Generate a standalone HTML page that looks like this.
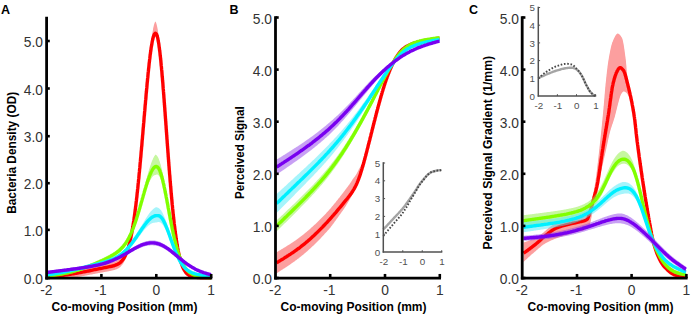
<!DOCTYPE html>
<html><head><meta charset="utf-8"><style>
html,body{margin:0;padding:0;background:#fff;}
svg{display:block;}
</style></head><body>
<svg width="696" height="318" viewBox="0 0 696 318">
<rect width="696" height="318" fill="#fff"/>
<polygon points="47.5,273.8 48.0,273.7 48.5,273.7 49.0,273.6 49.5,273.6 50.0,273.5 50.5,273.5 51.0,273.4 51.5,273.4 52.0,273.3 52.5,273.3 53.0,273.2 53.5,273.2 54.0,273.1 54.5,273.1 55.0,273.0 55.5,273.0 56.0,272.9 56.5,272.9 57.0,272.8 57.5,272.8 58.0,272.7 58.5,272.6 59.0,272.6 59.5,272.5 60.0,272.5 60.5,272.4 61.0,272.3 61.5,272.3 62.0,272.2 62.5,272.1 63.0,272.1 63.5,272.0 64.0,271.9 64.5,271.8 65.0,271.8 65.5,271.7 66.0,271.6 66.5,271.5 67.0,271.5 67.5,271.4 68.0,271.3 68.5,271.2 69.0,271.2 69.5,271.1 70.0,271.0 70.5,270.9 71.0,270.8 71.5,270.7 72.0,270.7 72.5,270.6 73.0,270.5 73.5,270.4 74.0,270.3 74.5,270.2 75.0,270.1 75.5,270.0 76.0,269.9 76.5,269.8 77.0,269.7 77.5,269.6 78.0,269.6 78.5,269.5 79.0,269.4 79.5,269.3 80.0,269.2 80.5,269.1 81.0,269.0 81.5,268.9 82.0,268.8 82.5,268.7 83.0,268.6 83.5,268.4 84.0,268.3 84.5,268.2 85.0,268.1 85.5,268.0 86.0,267.9 86.5,267.8 87.0,267.7 87.5,267.6 88.0,267.5 88.5,267.4 89.0,267.3 89.5,267.2 90.0,267.1 90.5,267.0 91.0,266.8 91.5,266.7 92.0,266.6 92.5,266.5 93.0,266.4 93.5,266.3 94.0,266.2 94.5,266.1 95.0,266.0 95.5,265.9 96.0,265.8 96.5,265.6 97.0,265.5 97.5,265.4 98.0,265.3 98.5,265.2 99.0,265.1 99.5,265.0 100.0,264.9 100.5,264.8 101.0,264.7 101.5,264.6 102.0,264.5 102.5,264.4 103.0,264.3 103.5,264.1 104.0,264.0 104.5,263.9 105.0,263.8 105.5,263.7 106.0,263.6 106.5,263.5 107.0,263.4 107.5,263.3 108.0,263.2 108.5,263.1 109.0,263.0 109.5,262.9 110.0,262.8 110.5,262.7 111.0,262.5 111.5,262.4 112.0,262.3 112.5,262.2 113.0,262.0 113.5,261.9 114.0,261.7 114.5,261.6 115.0,261.4 115.5,261.2 116.0,261.0 116.5,260.8 117.0,260.6 117.5,260.3 118.0,260.0 118.5,259.7 119.0,259.4 119.5,259.1 120.0,258.7 120.5,258.3 121.0,257.9 121.5,257.4 122.0,256.9 122.5,256.4 123.0,255.7 123.5,255.1 124.0,254.3 124.5,253.5 125.0,252.6 125.5,251.6 126.0,250.6 126.5,249.4 127.0,248.1 127.5,246.7 128.0,245.2 128.2,244.4 128.5,243.6 128.8,242.8 129.0,241.9 129.2,241.0 129.5,240.0 129.8,239.0 130.0,238.0 130.2,236.9 130.5,235.8 130.8,234.7 131.0,233.5 131.2,232.3 131.5,231.0 131.8,229.7 132.0,228.4 132.2,227.0 132.5,225.6 132.8,224.1 133.0,222.6 133.2,221.0 133.4,220.2 133.5,219.4 133.6,218.6 133.8,217.8 133.9,216.9 134.0,216.1 134.1,215.2 134.2,214.3 134.4,213.4 134.5,212.5 134.6,211.6 134.8,210.7 134.9,209.8 135.0,208.8 135.1,207.9 135.2,206.9 135.4,205.9 135.5,204.9 135.6,203.9 135.8,202.9 135.9,201.9 136.0,200.9 136.1,199.8 136.2,198.8 136.4,197.7 136.5,196.6 136.6,195.5 136.8,194.4 136.9,193.3 137.0,192.2 137.1,191.1 137.2,189.9 137.4,188.8 137.5,187.6 137.6,186.4 137.8,185.2 137.9,184.1 138.0,182.8 138.1,181.6 138.2,180.4 138.4,179.2 138.5,177.9 138.6,176.7 138.8,175.4 138.9,174.1 139.0,172.9 139.1,171.6 139.2,170.3 139.4,169.0 139.5,167.7 139.6,166.3 139.8,165.0 139.9,163.7 140.0,162.3 140.1,161.0 140.2,159.6 140.4,158.2 140.5,156.8 140.6,155.5 140.8,154.1 140.9,152.7 141.0,151.3 141.1,149.9 141.2,148.5 141.4,147.0 141.5,145.6 141.6,144.2 141.8,142.8 141.9,141.3 142.0,139.9 142.1,138.4 142.2,137.0 142.4,135.5 142.5,134.1 142.6,132.6 142.8,131.1 142.9,129.7 143.0,128.2 143.1,126.8 143.2,125.3 143.4,123.8 143.5,122.3 143.6,120.9 143.8,119.4 143.9,117.9 144.0,116.5 144.1,115.0 144.2,113.5 144.4,112.1 144.5,110.6 144.6,109.1 144.8,107.7 144.9,106.2 145.0,104.8 145.1,103.3 145.2,101.9 145.4,100.5 145.5,99.0 145.6,97.6 145.8,96.2 145.9,94.8 146.0,93.3 146.1,91.9 146.2,90.5 146.4,89.1 146.5,87.8 146.6,86.4 146.8,85.0 146.9,83.7 147.0,82.3 147.1,81.0 147.2,79.7 147.4,78.3 147.5,77.0 147.6,75.7 147.8,74.4 147.9,73.2 148.0,71.9 148.1,70.5 148.2,69.2 148.4,67.8 148.5,66.5 148.6,65.2 148.8,63.9 148.9,62.6 149.0,61.3 149.1,60.0 149.2,58.8 149.4,57.6 149.5,56.3 149.6,55.2 149.8,54.0 149.9,52.8 150.0,51.7 150.1,50.5 150.2,49.4 150.4,48.2 150.5,47.1 150.6,46.0 150.8,45.0 150.9,43.9 151.0,42.9 151.1,41.9 151.2,40.9 151.5,39.0 151.8,37.1 152.0,35.4 152.2,33.8 152.5,32.2 152.8,30.7 153.0,29.4 153.2,28.1 153.5,26.9 154.0,24.8 154.5,23.2 155.0,21.9 155.5,21.4 156.0,22.4 156.5,23.9 157.0,25.9 157.2,27.1 157.5,28.5 157.8,29.9 158.0,31.5 158.2,33.2 158.5,35.0 158.8,37.0 158.9,38.0 159.0,39.0 159.1,40.1 159.2,41.2 159.4,42.3 159.5,43.5 159.6,44.7 159.8,45.9 159.9,47.1 160.0,48.4 160.1,49.6 160.2,50.8 160.4,52.0 160.5,53.2 160.6,54.5 160.8,55.8 160.9,57.1 161.0,58.5 161.1,59.8 161.2,61.2 161.4,62.6 161.5,64.1 161.6,65.5 161.8,67.0 161.9,68.5 162.0,70.0 162.1,71.5 162.2,73.0 162.4,74.6 162.5,76.1 162.6,77.7 162.8,79.3 162.9,80.9 163.0,82.6 163.1,84.1 163.2,85.7 163.4,87.3 163.5,88.9 163.6,89.7 163.6,90.5 163.7,91.3 163.8,92.1 163.8,92.9 163.9,93.8 163.9,94.6 164.0,95.4 164.1,96.2 164.1,97.1 164.2,97.9 164.2,98.7 164.3,99.6 164.4,100.4 164.4,101.2 164.5,102.1 164.6,102.9 164.6,103.8 164.7,104.6 164.8,105.5 164.8,106.3 164.9,107.2 164.9,108.0 165.0,108.9 165.1,109.7 165.1,110.6 165.2,111.4 165.2,112.3 165.3,113.1 165.4,114.0 165.4,114.9 165.5,115.7 165.6,116.6 165.6,117.4 165.7,118.3 165.8,119.2 165.8,120.0 165.9,120.9 165.9,121.8 166.0,122.6 166.1,123.5 166.1,124.4 166.2,125.2 166.2,126.1 166.3,127.0 166.4,127.8 166.4,128.7 166.5,129.5 166.6,130.4 166.6,131.3 166.7,132.1 166.8,133.0 166.8,133.9 166.9,134.7 166.9,135.6 167.0,136.5 167.1,137.3 167.1,138.2 167.2,139.0 167.2,139.9 167.3,140.8 167.4,141.6 167.4,142.5 167.5,143.3 167.6,144.2 167.6,145.0 167.7,145.9 167.8,146.7 167.8,147.6 167.9,148.4 167.9,149.3 168.0,150.1 168.1,151.0 168.1,151.8 168.2,152.6 168.2,153.5 168.3,154.3 168.4,155.2 168.4,156.0 168.5,156.8 168.6,157.7 168.6,158.5 168.7,159.3 168.8,160.1 168.8,161.0 168.9,161.8 168.9,162.6 169.0,163.4 169.1,164.2 169.1,165.0 169.2,165.8 169.2,166.7 169.4,168.3 169.5,169.9 169.6,171.4 169.8,173.0 169.9,174.6 170.0,176.1 170.1,177.7 170.2,179.2 170.4,180.7 170.5,182.3 170.6,183.8 170.8,185.2 170.9,186.7 171.0,188.2 171.1,189.6 171.2,191.1 171.4,192.5 171.5,193.9 171.6,195.3 171.8,196.7 171.9,198.0 172.0,199.4 172.1,200.7 172.2,202.1 172.4,203.4 172.5,204.7 172.6,206.0 172.8,207.2 172.9,208.5 173.0,209.7 173.1,211.0 173.2,212.2 173.4,213.4 173.5,214.6 173.6,215.7 173.8,216.9 173.9,218.0 174.0,219.2 174.1,220.3 174.2,221.4 174.4,222.4 174.5,223.5 174.6,224.6 174.8,225.6 174.9,226.6 175.0,227.6 175.1,228.6 175.2,229.6 175.4,230.6 175.5,231.5 175.6,232.4 175.8,233.4 175.9,234.3 176.0,235.2 176.1,236.0 176.2,236.9 176.4,237.7 176.5,238.6 176.6,239.4 176.9,241.0 177.0,241.8 177.1,242.6 177.4,244.1 177.5,244.8 177.6,245.5 177.9,246.9 178.0,247.6 178.1,248.2 178.4,249.5 178.5,250.2 178.6,250.8 178.9,252.0 179.0,252.5 179.1,253.1 179.4,254.2 179.5,254.8 179.6,255.3 179.9,256.3 180.0,256.8 180.1,257.3 180.4,258.2 180.5,258.7 180.6,259.1 180.9,260.0 181.0,260.4 181.4,261.6 181.5,262.0 181.9,263.1 182.0,263.4 182.4,264.4 182.5,264.7 182.9,265.6 183.0,265.9 183.4,266.7 183.5,267.0 183.9,267.7 184.0,268.0 184.4,268.6 184.5,268.8 185.0,269.6 185.4,270.2 185.5,270.4 186.0,271.0 186.4,271.5 186.5,271.6 187.0,272.1 187.4,272.5 187.5,272.6 188.0,273.0 188.4,273.3 188.5,273.4 189.0,273.7 189.4,274.0 189.5,274.0 190.0,274.3 190.4,274.5 190.5,274.6 191.0,274.8 191.4,274.9 191.5,275.0 192.0,275.2 192.4,275.3 192.5,275.3 193.0,275.5 193.4,275.6 193.5,275.6 194.0,275.7 194.4,275.8 194.5,275.8 195.0,275.9 195.4,276.0 195.5,276.0 196.0,276.1 196.4,276.2 196.5,276.2 197.0,276.3 197.4,276.3 197.5,276.3 198.0,276.4 198.4,276.4 198.5,276.4 199.0,276.5 199.4,276.5 199.5,276.6 200.0,276.6 200.4,276.6 200.5,276.6 201.0,276.7 201.4,276.7 201.5,276.7 202.0,276.8 202.4,276.8 202.5,276.8 203.0,276.9 203.4,276.9 203.5,276.9 204.0,276.9 204.4,277.0 204.5,277.0 205.0,277.0 205.4,277.0 205.5,277.1 206.0,277.1 206.4,277.1 206.5,277.1 207.0,277.2 207.4,277.2 207.5,277.2 208.0,277.2 208.4,277.2 208.5,277.3 209.0,277.3 209.4,277.3 209.5,277.3 210.0,277.3 210.4,277.4 210.5,277.4 211.0,277.4 211.0,278.4 210.5,278.4 210.4,278.4 210.0,278.4 209.5,278.5 209.4,278.5 209.0,278.5 208.5,278.5 208.4,278.5 208.0,278.5 207.5,278.5 207.4,278.5 207.0,278.5 206.5,278.6 206.4,278.6 206.0,278.6 205.5,278.6 205.4,278.6 205.0,278.6 204.5,278.6 204.4,278.6 204.0,278.6 203.5,278.6 203.4,278.6 203.0,278.6 202.5,278.6 202.4,278.6 202.0,278.6 201.5,278.6 201.4,278.6 201.0,278.6 200.5,278.6 200.4,278.6 200.0,278.6 199.5,278.6 199.4,278.6 199.0,278.6 198.5,278.6 198.4,278.6 198.0,278.6 197.5,278.6 197.4,278.6 197.0,278.6 196.5,278.6 196.4,278.6 196.0,278.6 195.5,278.5 195.4,278.5 195.0,278.5 194.5,278.4 194.4,278.4 194.0,278.4 193.5,278.3 193.4,278.3 193.0,278.2 192.5,278.1 192.4,278.1 192.0,278.0 191.5,277.9 191.4,277.8 191.0,277.7 190.5,277.6 190.4,277.5 190.0,277.4 189.5,277.1 189.4,277.1 189.0,276.9 188.5,276.6 188.4,276.5 188.0,276.3 187.5,275.9 187.4,275.8 187.0,275.5 186.5,275.0 186.4,274.8 186.0,274.4 185.5,273.8 185.4,273.7 185.0,273.2 184.5,272.4 184.4,272.2 184.0,271.6 183.9,271.3 183.5,270.6 183.4,270.4 183.0,269.6 182.9,269.3 182.5,268.5 182.4,268.2 182.0,267.2 181.9,266.9 181.5,265.8 181.4,265.5 181.0,264.3 180.9,263.9 180.6,263.1 180.5,262.6 180.4,262.2 180.1,261.3 180.0,260.8 179.9,260.3 179.6,259.3 179.5,258.8 179.4,258.3 179.1,257.2 179.0,256.6 178.9,256.1 178.6,254.9 178.5,254.3 178.4,253.7 178.1,252.4 178.0,251.7 177.9,251.1 177.6,249.7 177.5,249.0 177.4,248.3 177.1,246.8 177.0,246.0 176.9,245.3 176.6,243.7 176.5,242.9 176.4,242.0 176.2,241.2 176.1,240.3 176.0,239.5 175.9,238.6 175.8,237.7 175.6,236.8 175.5,235.9 175.4,234.9 175.2,234.0 175.1,233.0 175.0,232.0 174.9,231.0 174.8,230.0 174.6,229.0 174.5,227.9 174.4,226.9 174.2,225.8 174.1,224.7 174.0,223.6 173.9,222.5 173.8,221.4 173.6,220.2 173.5,219.1 173.4,217.9 173.2,216.7 173.1,215.5 173.0,214.3 172.9,213.1 172.8,211.8 172.6,210.6 172.5,209.3 172.4,208.0 172.2,206.7 172.1,205.4 172.0,204.0 171.9,202.7 171.8,201.3 171.6,200.0 171.5,198.6 171.4,197.2 171.2,195.8 171.1,194.3 171.0,192.9 170.9,191.4 170.8,190.0 170.6,188.5 170.5,187.0 170.4,185.5 170.2,184.0 170.1,182.5 170.0,180.9 169.9,179.4 169.8,177.8 169.6,176.3 169.5,174.7 169.4,173.1 169.2,171.5 169.2,170.7 169.1,169.9 169.1,169.1 169.0,168.3 168.9,167.5 168.9,166.7 168.8,165.9 168.8,165.0 168.7,164.2 168.6,163.4 168.6,162.6 168.5,161.7 168.4,160.9 168.4,160.1 168.3,159.3 168.2,158.4 168.2,157.6 168.1,156.8 168.1,155.9 168.0,155.1 167.9,154.2 167.9,153.4 167.8,152.6 167.8,151.7 167.7,150.9 167.6,150.0 167.6,149.2 167.5,148.3 167.4,147.5 167.4,146.6 167.3,145.8 167.2,144.9 167.2,144.1 167.1,143.2 167.1,142.4 167.0,141.5 166.9,140.6 166.9,139.8 166.8,138.9 166.8,138.1 166.7,137.2 166.6,136.4 166.6,135.5 166.5,134.6 166.4,133.8 166.4,132.9 166.3,132.0 166.2,131.2 166.2,130.3 166.1,129.5 166.1,128.6 166.0,127.7 165.9,126.9 165.9,126.0 165.8,125.2 165.8,124.3 165.7,123.5 165.6,122.6 165.6,121.7 165.5,120.9 165.4,120.0 165.4,119.2 165.3,118.3 165.2,117.5 165.2,116.6 165.1,115.8 165.1,114.9 165.0,114.1 164.9,113.2 164.9,112.4 164.8,111.5 164.8,110.7 164.7,109.8 164.6,109.0 164.6,108.2 164.5,107.3 164.4,106.5 164.4,105.7 164.3,104.8 164.2,104.0 164.2,103.2 164.1,102.3 164.1,101.5 164.0,100.7 163.9,99.9 163.9,99.1 163.8,98.2 163.8,97.4 163.7,96.6 163.6,95.8 163.6,95.0 163.5,94.2 163.4,92.6 163.2,91.0 163.1,89.5 163.0,87.9 162.9,86.4 162.8,84.8 162.6,83.3 162.5,81.8 162.4,80.4 162.2,78.9 162.1,77.4 162.0,76.0 161.9,74.6 161.8,73.2 161.6,71.8 161.5,70.5 161.4,69.1 161.2,67.8 161.1,66.5 161.0,65.2 160.9,64.0 160.8,62.7 160.6,61.5 160.5,60.3 160.4,59.2 160.2,58.0 160.1,56.9 160.0,55.8 159.9,54.7 159.8,53.7 159.6,52.7 159.5,51.7 159.4,50.7 159.2,49.8 159.1,48.9 159.0,48.0 158.9,47.2 158.8,46.3 158.5,44.8 158.2,43.3 158.0,42.0 157.8,40.8 157.5,39.7 157.2,38.8 157.0,38.0 156.5,36.7 156.0,36.0 155.5,35.7 155.0,35.9 154.5,36.6 154.0,37.6 153.5,39.0 153.2,39.9 153.0,40.8 152.8,41.9 152.5,43.0 152.2,44.3 152.0,45.6 151.8,47.0 151.5,48.5 151.2,50.1 151.1,51.0 151.0,51.8 150.9,52.7 150.8,53.6 150.6,54.5 150.5,55.4 150.4,56.3 150.2,57.3 150.1,58.3 150.0,59.3 149.9,60.3 149.8,61.4 149.6,62.4 149.5,63.5 149.4,64.6 149.2,65.7 149.1,66.8 149.0,68.0 148.9,69.1 148.8,70.3 148.6,71.5 148.5,72.7 148.4,73.9 148.2,75.1 148.1,76.3 148.0,77.6 147.9,78.9 147.8,80.1 147.6,81.4 147.5,82.7 147.4,84.0 147.2,85.3 147.1,86.7 147.0,88.0 146.9,89.4 146.8,90.7 146.6,92.1 146.5,93.5 146.4,94.9 146.2,96.3 146.1,97.7 146.0,99.1 145.9,100.5 145.8,101.9 145.6,103.3 145.5,104.8 145.4,106.2 145.2,107.6 145.1,109.1 145.0,110.5 144.9,112.0 144.8,113.4 144.6,114.9 144.5,116.4 144.4,117.8 144.2,119.3 144.1,120.8 144.0,122.2 143.9,123.7 143.8,125.2 143.6,126.7 143.5,128.1 143.4,129.6 143.2,131.1 143.1,132.5 143.0,134.0 142.9,135.5 142.8,136.9 142.6,138.4 142.5,139.9 142.4,141.3 142.2,142.8 142.1,144.2 142.0,145.7 141.9,147.1 141.8,148.6 141.6,150.0 141.5,151.4 141.4,152.9 141.2,154.3 141.1,155.7 141.0,157.1 140.9,158.5 140.8,159.9 140.6,161.3 140.5,162.7 140.4,164.1 140.2,165.4 140.1,166.8 140.0,168.2 139.9,169.5 139.8,170.9 139.6,172.2 139.5,173.5 139.4,174.8 139.2,176.1 139.1,177.4 139.0,178.7 138.9,180.0 138.8,181.3 138.6,182.6 138.5,183.8 138.4,185.1 138.2,186.3 138.1,187.5 138.0,188.7 137.9,189.9 137.8,191.1 137.6,192.3 137.5,193.5 137.4,194.7 137.2,195.8 137.1,197.0 137.0,198.1 136.9,199.2 136.8,200.3 136.6,201.5 136.5,202.5 136.4,203.6 136.2,204.7 136.1,205.8 136.0,206.8 135.9,207.8 135.8,208.9 135.6,209.9 135.5,210.9 135.4,211.9 135.2,212.9 135.1,213.8 135.0,214.8 134.9,215.7 134.8,216.7 134.6,217.6 134.5,218.5 134.4,219.4 134.2,220.3 134.1,221.2 134.0,222.1 133.9,222.9 133.8,223.8 133.6,224.6 133.5,225.4 133.4,226.2 133.2,227.0 133.0,228.6 132.8,230.2 132.5,231.7 132.2,233.2 132.0,234.6 131.8,236.0 131.5,237.3 131.2,238.6 131.0,239.9 130.8,241.1 130.5,242.3 130.2,243.5 130.0,244.6 129.8,245.6 129.5,246.7 129.2,247.7 129.0,248.7 128.8,249.6 128.5,250.5 128.2,251.4 128.0,252.2 127.5,253.8 127.0,255.3 126.5,256.6 126.0,257.9 125.5,259.1 125.0,260.1 124.5,261.1 124.0,262.1 123.5,262.9 123.0,263.7 122.5,264.4 122.0,265.0 121.5,265.6 121.0,266.2 120.5,266.7 120.0,267.2 119.5,267.6 119.0,267.9 118.5,268.2 118.0,268.5 117.5,268.7 117.0,269.0 116.5,269.2 116.0,269.4 115.5,269.6 115.0,269.7 114.5,269.9 114.0,270.1 113.5,270.2 113.0,270.3 112.5,270.4 112.0,270.6 111.5,270.7 111.0,270.8 110.5,270.9 110.0,271.0 109.5,271.1 109.0,271.2 108.5,271.3 108.0,271.4 107.5,271.5 107.0,271.6 106.5,271.7 106.0,271.7 105.5,271.8 105.0,271.9 104.5,272.0 104.0,272.1 103.5,272.2 103.0,272.3 102.5,272.4 102.0,272.5 101.5,272.6 101.0,272.7 100.5,272.7 100.0,272.8 99.5,272.9 99.0,273.0 98.5,273.1 98.0,273.2 97.5,273.3 97.0,273.4 96.5,273.5 96.0,273.6 95.5,273.7 95.0,273.8 94.5,273.9 94.0,274.0 93.5,274.1 93.0,274.2 92.5,274.3 92.0,274.4 91.5,274.5 91.0,274.5 90.5,274.6 90.0,274.7 89.5,274.8 89.0,274.9 88.5,275.0 88.0,275.1 87.5,275.2 87.0,275.3 86.5,275.4 86.0,275.5 85.5,275.6 85.0,275.7 84.5,275.8 84.0,275.9 83.5,275.9 83.0,276.0 82.5,276.1 82.0,276.2 81.5,276.3 81.0,276.4 80.5,276.5 80.0,276.6 79.5,276.7 79.0,276.7 78.5,276.8 78.0,276.9 77.5,277.0 77.0,277.1 76.5,277.1 76.0,277.2 75.5,277.3 75.0,277.4 74.5,277.5 74.0,277.5 73.5,277.6 73.0,277.7 72.5,277.8 72.0,277.8 71.5,277.9 71.0,278.0 70.5,278.1 70.0,278.1 69.5,278.2 69.0,278.3 68.5,278.3 68.0,278.4 67.5,278.5 67.0,278.5 66.5,278.6 66.0,278.6 65.5,278.6 65.0,278.6 64.5,278.6 64.0,278.6 63.5,278.6 63.0,278.6 62.5,278.6 62.0,278.6 61.5,278.6 61.0,278.6 60.5,278.6 60.0,278.6 59.5,278.6 59.0,278.6 58.5,278.6 58.0,278.6 57.5,278.6 57.0,278.6 56.5,278.6 56.0,278.6 55.5,278.6 55.0,278.6 54.5,278.6 54.0,278.6 53.5,278.6 53.0,278.6 52.5,278.6 52.0,278.6 51.5,278.6 51.0,278.6 50.5,278.6 50.0,278.6 49.5,278.6 49.0,278.6 48.5,278.6 48.0,278.6 47.5,278.6" fill="rgba(249,63,63,0.50)"/>
<polyline points="47.5,276.8 48.5,276.7 49.5,276.6 50.5,276.5 51.5,276.5 52.5,276.4 53.5,276.3 54.5,276.2 55.5,276.1 56.5,276.0 57.5,275.9 58.5,275.8 59.5,275.7 60.5,275.6 61.5,275.5 62.5,275.3 63.5,275.2 64.5,275.1 65.5,274.9 66.5,274.8 67.5,274.7 68.5,274.5 69.5,274.4 70.5,274.2 71.5,274.1 72.5,273.9 73.5,273.8 74.5,273.6 75.5,273.4 76.5,273.2 77.5,273.1 78.5,272.9 79.5,272.7 80.5,272.5 81.5,272.3 82.5,272.1 83.5,271.9 84.5,271.8 85.5,271.6 86.5,271.4 87.5,271.2 88.5,271.0 89.5,270.8 90.5,270.5 91.5,270.3 92.5,270.1 93.5,269.9 94.5,269.7 95.5,269.5 96.5,269.3 97.5,269.1 98.5,268.9 99.5,268.7 100.5,268.5 101.5,268.3 102.5,268.1 103.5,267.9 104.5,267.7 105.5,267.5 106.5,267.3 107.5,267.1 108.5,266.9 109.5,266.7 110.5,266.5 111.5,266.3 112.5,266.0 113.5,265.8 114.5,265.5 115.5,265.1 116.5,264.7 117.5,264.3 118.5,263.7 119.5,263.1 120.5,262.3 121.5,261.3 122.5,260.2 123.5,258.8 124.0,258.0 124.5,257.2 125.0,256.2 125.5,255.2 126.0,254.1 126.5,252.9 127.0,251.6 127.5,250.2 128.0,248.6 128.2,247.8 128.5,247.0 128.8,246.1 129.0,245.2 129.2,244.2 129.5,243.3 129.8,242.3 130.0,241.2 130.2,240.1 130.5,239.0 130.8,237.9 131.0,236.7 131.2,235.4 131.5,234.1 131.8,232.8 132.0,231.5 132.2,230.1 132.5,228.6 132.8,227.1 133.0,225.6 133.2,224.0 133.4,223.2 133.5,222.4 133.6,221.6 133.8,220.8 133.9,219.9 134.0,219.1 134.1,218.2 134.2,217.3 134.4,216.4 134.5,215.5 134.6,214.6 134.8,213.7 134.9,212.8 135.0,211.8 135.1,210.9 135.2,209.9 135.4,208.9 135.5,207.9 135.6,206.9 135.8,205.9 135.9,204.9 136.0,203.9 136.1,202.8 136.2,201.8 136.4,200.7 136.5,199.6 136.6,198.5 136.8,197.4 136.9,196.3 137.0,195.2 137.1,194.1 137.2,192.9 137.4,191.8 137.5,190.6 137.6,189.4 137.8,188.2 137.9,187.1 138.0,185.8 138.1,184.6 138.2,183.4 138.4,182.2 138.5,180.9 138.6,179.7 138.8,178.4 138.9,177.1 139.0,175.9 139.1,174.6 139.2,173.3 139.4,172.0 139.5,170.7 139.6,169.3 139.8,168.0 139.9,166.7 140.0,165.3 140.1,164.0 140.2,162.6 140.4,161.2 140.5,159.8 140.6,158.5 140.8,157.1 140.9,155.7 141.0,154.3 141.1,152.9 141.2,151.5 141.4,150.0 141.5,148.6 141.6,147.2 141.8,145.8 141.9,144.3 142.0,142.9 142.1,141.4 142.2,140.0 142.4,138.5 142.5,137.1 142.6,135.6 142.8,134.1 142.9,132.7 143.0,131.2 143.1,129.8 143.2,128.3 143.4,126.8 143.5,125.3 143.6,123.9 143.8,122.4 143.9,120.9 144.0,119.5 144.1,118.0 144.2,116.5 144.4,115.1 144.5,113.6 144.6,112.1 144.8,110.7 144.9,109.2 145.0,107.8 145.1,106.3 145.2,104.9 145.4,103.5 145.5,102.0 145.6,100.6 145.8,99.2 145.9,97.8 146.0,96.3 146.1,94.9 146.2,93.5 146.4,92.1 146.5,90.8 146.6,89.4 146.8,88.0 146.9,86.7 147.0,85.3 147.1,84.0 147.2,82.7 147.4,81.3 147.5,80.0 147.6,78.7 147.8,77.4 147.9,76.2 148.0,74.9 148.1,73.7 148.2,72.4 148.4,71.2 148.5,70.0 148.6,68.8 148.8,67.6 148.9,66.4 149.0,65.3 149.1,64.2 149.2,63.0 149.4,61.9 149.5,60.8 149.6,59.8 149.8,58.7 149.9,57.7 150.0,56.7 150.1,55.7 150.2,54.7 150.4,53.7 150.5,52.8 150.6,51.8 150.8,50.9 150.9,50.1 151.0,49.2 151.1,48.3 151.2,47.5 151.5,45.9 151.8,44.4 152.0,43.0 152.2,41.7 152.5,40.4 152.8,39.3 153.0,38.2 153.2,37.3 153.5,36.4 154.0,35.0 154.5,34.0 155.5,33.2 156.5,34.2 157.0,35.5 157.2,36.3 157.5,37.3 157.8,38.3 158.0,39.5 158.2,40.9 158.5,42.3 158.8,43.9 158.9,44.7 159.0,45.6 159.1,46.5 159.2,47.4 159.4,48.3 159.5,49.3 159.6,50.3 159.8,51.3 159.9,52.3 160.0,53.4 160.1,54.5 160.2,55.6 160.4,56.7 160.5,57.9 160.6,59.1 160.8,60.3 160.9,61.6 161.0,62.8 161.1,64.1 161.2,65.4 161.4,66.7 161.5,68.1 161.6,69.4 161.8,70.8 161.9,72.2 162.0,73.6 162.1,75.1 162.2,76.5 162.4,78.0 162.5,79.5 162.6,81.0 162.8,82.5 162.9,84.0 163.0,85.6 163.1,87.1 163.2,88.7 163.4,90.3 163.5,91.9 163.6,92.7 163.6,93.5 163.7,94.3 163.8,95.1 163.8,95.9 163.9,96.7 163.9,97.5 164.0,98.4 164.1,99.2 164.1,100.0 164.2,100.8 164.2,101.7 164.3,102.5 164.4,103.3 164.4,104.2 164.5,105.0 164.6,105.8 164.6,106.7 164.7,107.5 164.8,108.4 164.8,109.2 164.9,110.0 164.9,110.9 165.0,111.7 165.1,112.6 165.1,113.4 165.2,114.3 165.2,115.1 165.3,116.0 165.4,116.9 165.4,117.7 165.5,118.6 165.6,119.4 165.6,120.3 165.7,121.1 165.8,122.0 165.8,122.9 165.9,123.7 165.9,124.6 166.0,125.4 166.1,126.3 166.1,127.2 166.2,128.0 166.2,128.9 166.3,129.8 166.4,130.6 166.4,131.5 166.5,132.3 166.6,133.2 166.6,134.1 166.7,134.9 166.8,135.8 166.8,136.6 166.9,137.5 166.9,138.4 167.0,139.2 167.1,140.1 167.1,140.9 167.2,141.8 167.2,142.6 167.3,143.5 167.4,144.4 167.4,145.2 167.5,146.1 167.6,146.9 167.6,147.8 167.7,148.6 167.8,149.5 167.8,150.3 167.9,151.1 167.9,152.0 168.0,152.8 168.1,153.7 168.1,154.5 168.2,155.3 168.2,156.2 168.3,157.0 168.4,157.8 168.4,158.7 168.5,159.5 168.6,160.3 168.6,161.2 168.7,162.0 168.8,162.8 168.8,163.6 168.9,164.4 168.9,165.2 169.0,166.1 169.1,166.9 169.1,167.7 169.2,168.5 169.2,169.3 169.4,170.9 169.5,172.5 169.6,174.1 169.8,175.6 169.9,177.2 170.0,178.7 170.1,180.3 170.2,181.8 170.4,183.3 170.5,184.8 170.6,186.3 170.8,187.8 170.9,189.3 171.0,190.7 171.1,192.1 171.2,193.6 171.4,195.0 171.5,196.4 171.6,197.8 171.8,199.2 171.9,200.5 172.0,201.9 172.1,203.2 172.2,204.5 172.4,205.8 172.5,207.1 172.6,208.4 172.8,209.7 172.9,210.9 173.0,212.2 173.1,213.4 173.2,214.6 173.4,215.8 173.5,216.9 173.6,218.1 173.8,219.3 173.9,220.4 174.0,221.5 174.1,222.6 174.2,223.7 174.4,224.8 174.5,225.8 174.6,226.9 174.8,227.9 174.9,228.9 175.0,229.9 175.1,230.9 175.2,231.9 175.4,232.8 175.5,233.8 175.6,234.7 175.8,235.6 175.9,236.5 176.0,237.4 176.1,238.3 176.2,239.1 176.4,240.0 176.5,240.8 176.6,241.6 176.9,243.2 177.1,244.7 177.4,246.2 177.6,247.6 177.9,249.0 178.1,250.3 178.4,251.6 178.6,252.9 178.9,254.0 179.1,255.2 179.4,256.3 179.6,257.3 179.9,258.3 180.1,259.3 180.4,260.2 180.6,261.1 180.9,261.9 181.4,263.5 181.9,265.0 182.4,266.3 182.9,267.5 183.4,268.6 183.9,269.5 184.4,270.4 185.4,271.9 186.4,273.2 187.4,274.1 188.4,274.9 189.4,275.5 190.4,276.0 191.4,276.4 192.4,276.7 193.4,276.9 194.4,277.1 195.4,277.3 196.4,277.4 197.4,277.5 198.4,277.5 199.4,277.6 200.4,277.7 201.4,277.7 202.4,277.7 203.4,277.8 204.4,277.8 205.4,277.8 206.4,277.8 207.4,277.9 208.4,277.9 209.4,277.9 210.4,277.9 211.0,277.9" fill="none" stroke="#ff0000" stroke-width="3.4" stroke-linejoin="round"/>
<polygon points="47.5,274.5 48.0,274.5 48.5,274.4 49.0,274.3 49.5,274.3 50.0,274.2 50.5,274.1 51.0,274.1 51.5,274.0 52.0,273.9 52.5,273.9 53.0,273.8 53.5,273.7 54.0,273.6 54.5,273.6 55.0,273.5 55.5,273.4 56.0,273.3 56.5,273.2 57.0,273.2 57.5,273.1 58.0,273.0 58.5,272.9 59.0,272.8 59.5,272.7 60.0,272.6 60.5,272.5 61.0,272.4 61.5,272.3 62.0,272.2 62.5,272.1 63.0,272.0 63.5,271.9 64.0,271.8 64.5,271.7 65.0,271.6 65.5,271.5 66.0,271.4 66.5,271.3 67.0,271.1 67.5,271.0 68.0,270.9 68.5,270.8 69.0,270.7 69.5,270.5 70.0,270.4 70.5,270.3 71.0,270.1 71.5,270.0 72.0,269.9 72.5,269.7 73.0,269.6 73.5,269.5 74.0,269.3 74.5,269.2 75.0,269.0 75.5,268.9 76.0,268.7 76.5,268.6 77.0,268.4 77.5,268.3 78.0,268.1 78.5,267.9 79.0,267.8 79.5,267.6 80.0,267.5 80.5,267.3 81.0,267.1 81.5,266.9 82.0,266.8 82.5,266.6 83.0,266.4 83.5,266.2 84.0,266.1 84.5,265.9 85.0,265.7 85.5,265.5 86.0,265.3 86.5,265.1 87.0,264.9 87.5,264.8 88.0,264.6 88.5,264.4 89.0,264.2 89.5,264.0 90.0,263.8 90.5,263.6 91.0,263.4 91.5,263.1 92.0,262.9 92.5,262.7 93.0,262.5 93.5,262.3 94.0,262.1 94.5,261.9 95.0,261.7 95.5,261.4 96.0,261.2 96.5,261.0 97.0,260.8 97.5,260.5 98.0,260.3 98.5,260.1 99.0,259.9 99.5,259.6 100.0,259.4 100.5,259.2 101.0,258.9 101.5,258.7 102.0,258.5 102.5,258.2 103.0,258.0 103.5,257.7 104.0,257.5 104.5,257.3 105.0,257.0 105.5,256.8 106.0,256.5 106.5,256.3 107.0,256.0 107.5,255.7 108.0,255.5 108.5,255.2 109.0,255.0 109.5,254.7 110.0,254.4 110.5,254.1 111.0,253.8 111.5,253.6 112.0,253.3 112.5,253.0 113.0,252.7 113.5,252.4 114.0,252.0 114.5,251.7 115.0,251.4 115.5,251.0 116.0,250.7 116.5,250.3 117.0,250.0 117.5,249.6 118.0,249.2 118.5,248.8 119.0,248.3 119.5,247.9 120.0,247.4 120.5,247.0 121.0,246.5 121.5,246.0 122.0,245.4 122.5,244.9 123.0,244.3 123.5,243.7 124.0,243.0 124.5,242.4 125.0,241.7 125.5,241.0 126.0,240.2 126.5,239.5 127.0,238.6 127.5,237.8 128.0,236.9 128.5,236.0 129.0,235.1 129.5,234.1 130.0,233.0 130.5,231.9 131.0,230.8 131.5,229.6 132.0,228.3 132.5,227.0 133.0,225.7 133.5,224.4 134.0,223.0 134.5,221.5 135.0,220.1 135.5,218.5 136.0,217.0 136.5,215.4 137.0,213.8 137.5,212.1 137.8,211.3 138.0,210.5 138.2,209.6 138.5,208.8 138.8,207.9 139.0,207.0 139.2,206.1 139.5,205.3 139.8,204.4 140.0,203.5 140.2,202.6 140.5,201.7 140.8,200.8 141.0,199.9 141.2,199.0 141.5,198.1 141.8,197.2 142.0,196.3 142.2,195.4 142.5,194.5 142.8,193.6 143.0,192.7 143.2,191.6 143.5,190.6 143.8,189.6 144.0,188.6 144.2,187.6 144.5,186.6 144.8,185.6 145.0,184.6 145.2,183.6 145.5,182.6 145.8,181.7 146.0,180.7 146.2,179.7 146.5,178.8 146.8,177.9 147.0,176.9 147.2,176.0 147.5,175.1 147.8,174.2 148.0,173.3 148.2,172.5 148.5,171.6 148.8,170.8 149.0,170.0 149.2,169.1 149.5,168.4 149.8,167.6 150.0,166.8 150.2,166.0 150.5,165.3 150.8,164.5 151.0,163.8 151.2,163.1 151.5,162.4 151.8,161.8 152.0,161.1 152.2,160.5 152.5,159.9 153.0,158.7 153.2,158.2 153.5,157.7 154.0,156.7 154.2,156.3 154.5,155.9 155.0,155.2 155.2,154.9 155.5,154.6 156.0,154.9 156.2,155.0 156.5,155.2 157.0,155.7 157.2,156.1 157.5,156.4 158.0,157.3 158.2,157.8 158.5,158.3 158.8,158.9 159.0,159.5 159.2,160.2 159.5,160.9 159.8,161.7 160.0,162.5 160.2,163.3 160.5,164.2 160.8,165.1 161.0,166.1 161.2,167.0 161.5,168.0 161.8,169.0 162.0,170.1 162.2,171.2 162.5,172.3 162.8,173.5 163.0,174.7 163.2,175.9 163.5,177.1 163.8,178.4 164.0,179.7 164.2,181.0 164.5,182.3 164.8,183.7 165.0,185.0 165.2,186.4 165.5,187.8 165.8,189.2 166.0,190.7 166.2,192.1 166.5,193.6 166.8,195.0 167.0,196.5 167.2,198.0 167.5,199.5 167.8,200.9 168.0,202.4 168.2,203.8 168.5,205.2 168.8,206.6 169.0,208.0 169.2,209.4 169.5,210.8 169.8,212.1 170.0,213.5 170.2,214.8 170.5,216.2 170.8,217.5 171.0,218.9 171.2,220.2 171.5,221.5 171.8,222.8 172.0,224.1 172.2,225.3 172.5,226.6 172.8,227.8 173.0,229.1 173.2,230.3 173.5,231.5 173.8,232.6 174.0,233.8 174.2,234.9 174.5,236.0 174.8,237.1 175.0,238.2 175.2,239.3 175.5,240.3 175.8,241.3 176.0,242.4 176.2,243.3 176.5,244.3 176.8,245.2 177.0,246.2 177.2,247.1 177.5,248.0 177.8,248.8 178.0,249.7 178.2,250.5 178.5,251.3 178.8,252.1 179.0,252.9 179.2,253.6 179.5,254.4 179.8,255.1 180.0,255.8 180.2,256.4 180.5,257.1 180.8,257.7 181.0,258.3 181.2,258.9 181.5,259.4 181.8,260.0 182.0,260.5 182.2,261.0 182.5,261.6 182.8,262.0 183.0,262.5 183.2,263.0 183.5,263.4 183.8,263.9 184.0,264.3 184.5,265.1 184.8,265.5 185.0,265.8 185.5,266.6 185.8,266.9 186.0,267.2 186.5,267.8 186.8,268.1 187.0,268.4 187.5,269.0 187.8,269.2 188.0,269.5 188.5,270.0 188.8,270.2 189.0,270.4 189.5,270.9 189.8,271.1 190.0,271.3 190.5,271.6 190.8,271.8 191.0,272.0 191.5,272.3 191.8,272.5 192.0,272.6 192.5,272.9 192.8,273.1 193.0,273.2 193.5,273.5 193.8,273.6 194.0,273.7 194.5,273.9 194.8,274.0 195.0,274.1 195.5,274.3 195.8,274.4 196.0,274.5 196.5,274.7 196.8,274.8 197.0,274.9 197.5,275.0 197.8,275.1 198.0,275.2 198.5,275.3 198.8,275.4 199.0,275.5 199.5,275.6 199.8,275.7 200.0,275.7 200.5,275.8 200.8,275.9 201.0,275.9 201.5,276.1 201.8,276.1 202.0,276.1 202.5,276.2 202.8,276.3 203.0,276.3 203.5,276.4 203.8,276.5 204.0,276.5 204.5,276.6 204.8,276.6 205.0,276.6 205.5,276.7 205.8,276.7 206.0,276.8 206.5,276.8 206.8,276.9 207.0,276.9 207.5,277.0 207.8,277.0 208.0,277.0 208.5,277.1 208.8,277.1 209.0,277.1 209.5,277.2 209.8,277.2 210.0,277.2 210.5,277.3 210.8,277.3 211.0,277.3 211.0,278.3 210.8,278.3 210.5,278.3 210.0,278.3 209.8,278.3 209.5,278.3 209.0,278.3 208.8,278.3 208.5,278.3 208.0,278.3 207.8,278.3 207.5,278.3 207.0,278.3 206.8,278.3 206.5,278.3 206.0,278.3 205.8,278.3 205.5,278.2 205.0,278.2 204.8,278.2 204.5,278.2 204.0,278.2 203.8,278.2 203.5,278.1 203.0,278.1 202.8,278.1 202.5,278.1 202.0,278.0 201.8,278.0 201.5,278.0 201.0,277.9 200.8,277.9 200.5,277.9 200.0,277.8 199.8,277.8 199.5,277.7 199.0,277.6 198.8,277.6 198.5,277.6 198.0,277.5 197.8,277.4 197.5,277.4 197.0,277.2 196.8,277.2 196.5,277.1 196.0,277.0 195.8,276.9 195.5,276.8 195.0,276.7 194.8,276.6 194.5,276.5 194.0,276.3 193.8,276.3 193.5,276.2 193.0,275.9 192.8,275.8 192.5,275.7 192.0,275.5 191.8,275.3 191.5,275.2 191.0,274.9 190.8,274.8 190.5,274.6 190.0,274.3 189.8,274.1 189.5,273.9 189.0,273.6 188.8,273.4 188.5,273.2 188.0,272.7 187.8,272.5 187.5,272.3 187.0,271.8 186.8,271.5 186.5,271.2 186.0,270.6 185.8,270.3 185.5,270.0 185.0,269.4 184.8,269.0 184.5,268.7 184.0,267.9 183.8,267.5 183.5,267.1 183.2,266.7 183.0,266.2 182.8,265.8 182.5,265.3 182.2,264.8 182.0,264.3 181.8,263.8 181.5,263.3 181.2,262.8 181.0,262.2 180.8,261.6 180.5,261.0 180.2,260.4 180.0,259.8 179.8,259.2 179.5,258.5 179.2,257.9 179.0,257.2 178.8,256.5 178.5,255.7 178.2,255.0 178.0,254.2 177.8,253.5 177.5,252.7 177.2,251.9 177.0,251.0 176.8,250.2 176.5,249.3 176.2,248.4 176.0,247.5 175.8,246.5 175.5,245.6 175.2,244.6 175.0,243.6 174.8,242.6 174.5,241.6 174.2,240.5 174.0,239.5 173.8,238.4 173.5,237.3 173.2,236.2 173.0,235.0 172.8,233.9 172.5,232.7 172.2,231.5 172.0,230.3 171.8,229.1 171.5,227.9 171.2,226.7 171.0,225.4 170.8,224.1 170.5,222.9 170.2,221.6 170.0,220.3 169.8,219.0 169.5,217.7 169.2,216.4 169.0,215.1 168.8,213.8 168.5,212.5 168.2,211.1 168.0,209.8 167.8,208.5 167.5,207.2 167.2,205.9 167.0,204.6 166.8,203.4 166.5,202.1 166.2,200.9 166.0,199.7 165.8,198.5 165.5,197.4 165.2,196.2 165.0,195.1 164.8,194.0 164.5,192.8 164.2,191.8 164.0,190.7 163.8,189.7 163.5,188.6 163.2,187.6 163.0,186.7 162.8,185.7 162.5,184.8 162.2,184.0 162.0,183.1 161.8,182.3 161.5,181.5 161.2,180.8 161.0,180.1 160.8,179.4 160.5,178.8 160.2,178.2 160.0,177.6 159.8,177.1 159.5,176.7 159.2,176.3 159.0,175.9 158.8,175.5 158.5,175.3 158.2,175.0 158.0,174.8 157.5,174.6 157.2,174.5 157.0,174.5 156.5,174.6 156.2,174.7 156.0,174.8 155.5,175.1 155.2,175.1 155.0,175.1 154.5,175.2 154.2,175.3 154.0,175.5 153.5,175.8 153.2,176.1 153.0,176.3 152.5,176.8 152.2,177.1 152.0,177.5 151.8,177.8 151.5,178.2 151.2,178.6 151.0,179.0 150.8,179.4 150.5,179.9 150.2,180.3 150.0,180.8 149.8,181.3 149.5,181.8 149.2,182.3 149.0,182.9 148.8,183.4 148.5,184.0 148.2,184.6 148.0,185.2 147.8,185.8 147.5,186.4 147.2,187.1 147.0,187.7 146.8,188.4 146.5,189.0 146.2,189.7 146.0,190.4 145.8,191.1 145.5,191.8 145.2,192.5 145.0,193.2 144.8,194.1 144.5,194.9 144.2,195.8 144.0,196.6 143.8,197.4 143.5,198.3 143.2,199.2 143.0,200.0 142.8,200.9 142.5,201.7 142.2,202.6 142.0,203.5 141.8,204.3 141.5,205.2 141.2,206.1 141.0,206.9 140.8,207.8 140.5,208.6 140.2,209.5 140.0,210.3 139.8,211.2 139.5,212.0 139.2,212.8 139.0,213.7 138.8,214.5 138.5,215.3 138.2,216.1 138.0,216.9 137.8,217.7 137.5,218.5 137.0,220.1 136.5,221.6 136.0,223.1 135.5,224.5 135.0,226.0 134.5,227.3 134.0,228.7 133.5,230.0 133.0,231.3 132.5,232.5 132.0,233.7 131.5,234.8 131.0,235.9 130.5,237.0 130.0,238.0 129.5,239.1 129.0,240.0 128.5,241.0 128.0,241.9 127.5,242.7 127.0,243.6 126.5,244.4 126.0,245.1 125.5,245.9 125.0,246.6 124.5,247.2 124.0,247.9 123.5,248.5 123.0,249.1 122.5,249.7 122.0,250.2 121.5,250.7 121.0,251.2 120.5,251.7 120.0,252.2 119.5,252.6 119.0,253.1 118.5,253.5 118.0,253.9 117.5,254.3 117.0,254.6 116.5,255.0 116.0,255.4 115.5,255.7 115.0,256.0 114.5,256.3 114.0,256.7 113.5,257.0 113.0,257.3 112.5,257.5 112.0,257.8 111.5,258.1 111.0,258.4 110.5,258.7 110.0,258.9 109.5,259.2 109.0,259.4 108.5,259.7 108.0,260.0 107.5,260.2 107.0,260.4 106.5,260.7 106.0,260.9 105.5,261.2 105.0,261.4 104.5,261.6 104.0,261.9 103.5,262.1 103.0,262.3 102.5,262.6 102.0,262.8 101.5,263.0 101.0,263.2 100.5,263.5 100.0,263.7 99.5,263.9 99.0,264.1 98.5,264.3 98.0,264.6 97.5,264.8 97.0,265.0 96.5,265.2 96.0,265.4 95.5,265.6 95.0,265.8 94.5,266.0 94.0,266.2 93.5,266.4 93.0,266.6 92.5,266.8 92.0,267.0 91.5,267.2 91.0,267.4 90.5,267.6 90.0,267.8 89.5,268.0 89.0,268.2 88.5,268.4 88.0,268.5 87.5,268.7 87.0,268.9 86.5,269.1 86.0,269.3 85.5,269.4 85.0,269.6 84.5,269.8 84.0,270.0 83.5,270.1 83.0,270.3 82.5,270.5 82.0,270.6 81.5,270.8 81.0,270.9 80.5,271.1 80.0,271.3 79.5,271.4 79.0,271.6 78.5,271.7 78.0,271.9 77.5,272.0 77.0,272.1 76.5,272.3 76.0,272.4 75.5,272.6 75.0,272.7 74.5,272.8 74.0,273.0 73.5,273.1 73.0,273.2 72.5,273.4 72.0,273.5 71.5,273.6 71.0,273.7 70.5,273.8 70.0,274.0 69.5,274.1 69.0,274.2 68.5,274.3 68.0,274.4 67.5,274.5 67.0,274.6 66.5,274.7 66.0,274.8 65.5,274.9 65.0,275.0 64.5,275.1 64.0,275.2 63.5,275.3 63.0,275.4 62.5,275.5 62.0,275.6 61.5,275.7 61.0,275.8 60.5,275.9 60.0,275.9 59.5,276.0 59.0,276.1 58.5,276.2 58.0,276.3 57.5,276.3 57.0,276.4 56.5,276.5 56.0,276.5 55.5,276.6 55.0,276.7 54.5,276.7 54.0,276.8 53.5,276.9 53.0,276.9 52.5,277.0 52.0,277.1 51.5,277.1 51.0,277.2 50.5,277.2 50.0,277.3 49.5,277.3 49.0,277.4 48.5,277.4 48.0,277.5 47.5,277.5" fill="rgba(141,239,65,0.50)"/>
<polyline points="47.5,276.0 48.5,275.9 49.5,275.8 50.5,275.7 51.5,275.6 52.5,275.4 53.5,275.3 54.5,275.2 55.5,275.0 56.5,274.9 57.5,274.7 58.5,274.5 59.5,274.4 60.5,274.2 61.5,274.0 62.5,273.8 63.5,273.6 64.5,273.4 65.5,273.2 66.5,273.0 67.5,272.8 68.5,272.5 69.5,272.3 70.5,272.1 71.5,271.8 72.5,271.5 73.5,271.3 74.5,271.0 75.5,270.7 76.5,270.4 77.5,270.1 78.5,269.8 79.5,269.5 80.5,269.2 81.5,268.9 82.5,268.5 83.5,268.2 84.5,267.8 85.5,267.5 86.5,267.1 87.5,266.7 88.5,266.4 89.5,266.0 90.5,265.6 91.5,265.2 92.5,264.8 93.5,264.4 94.5,263.9 95.5,263.5 96.5,263.1 97.5,262.7 98.5,262.2 99.5,261.8 100.5,261.3 101.5,260.9 102.5,260.4 103.5,259.9 104.5,259.5 105.5,259.0 106.5,258.5 107.5,258.0 108.5,257.5 109.5,256.9 110.5,256.4 111.5,255.8 112.5,255.3 113.5,254.7 114.5,254.0 115.5,253.4 116.5,252.7 117.5,251.9 118.5,251.1 119.5,250.3 120.5,249.3 121.5,248.3 122.5,247.3 123.5,246.1 124.5,244.8 125.5,243.4 126.5,241.9 127.0,241.1 127.5,240.3 128.0,239.4 128.5,238.5 129.0,237.5 129.5,236.6 130.0,235.5 130.5,234.5 131.0,233.4 131.5,232.2 132.0,231.1 132.5,229.8 133.0,228.6 133.5,227.3 134.0,225.9 134.5,224.5 135.0,223.1 135.5,221.7 136.0,220.2 136.5,218.7 137.0,217.1 137.5,215.5 137.8,214.7 138.0,213.9 138.2,213.1 138.5,212.2 138.8,211.4 139.0,210.6 139.2,209.7 139.5,208.9 139.8,208.0 140.0,207.2 140.2,206.3 140.5,205.4 140.8,204.6 141.0,203.7 141.2,202.8 141.5,201.9 141.8,201.0 142.0,200.2 142.2,199.3 142.5,198.4 142.8,197.5 143.0,196.7 143.2,195.8 143.5,194.9 143.8,194.0 144.0,193.2 144.2,192.3 144.5,191.4 144.8,190.6 145.0,189.7 145.2,188.9 145.5,188.1 145.8,187.2 146.0,186.4 146.2,185.6 146.8,184.0 147.2,182.4 147.8,180.9 148.2,179.5 148.8,178.1 149.2,176.7 149.8,175.4 150.2,174.2 150.8,173.1 151.2,172.0 151.8,171.0 152.2,170.1 153.2,168.6 154.2,167.4 155.2,166.7 156.2,166.5 157.2,166.8 158.2,167.8 158.8,168.5 159.2,169.5 159.8,170.6 160.2,171.8 160.8,173.3 161.2,174.9 161.5,175.7 161.8,176.6 162.0,177.5 162.2,178.5 162.5,179.5 162.8,180.5 163.0,181.5 163.2,182.6 163.5,183.7 163.8,184.8 164.0,185.9 164.2,187.1 164.5,188.3 164.8,189.5 165.0,190.7 165.2,192.0 165.5,193.3 165.8,194.5 166.0,195.8 166.2,197.1 166.5,198.4 166.8,199.7 167.0,201.1 167.2,202.4 167.5,203.7 167.8,205.1 168.0,206.4 168.2,207.8 168.5,209.1 168.8,210.5 169.0,211.8 169.2,213.2 169.5,214.5 169.8,215.8 170.0,217.2 170.2,218.5 170.5,219.8 170.8,221.1 171.0,222.4 171.2,223.6 171.5,224.9 171.8,226.2 172.0,227.4 172.2,228.6 172.5,229.8 172.8,231.0 173.0,232.2 173.2,233.4 173.5,234.5 173.8,235.7 174.0,236.8 174.2,237.9 174.5,239.0 174.8,240.0 175.0,241.1 175.2,242.1 175.5,243.1 175.8,244.1 176.0,245.0 176.2,246.0 176.5,246.9 176.8,247.8 177.0,248.7 177.2,249.5 177.5,250.4 177.8,251.2 178.2,252.8 178.8,254.3 179.2,255.8 179.8,257.1 180.2,258.4 180.8,259.7 181.2,260.8 181.8,261.9 182.2,262.9 182.8,263.9 183.2,264.8 183.8,265.7 184.8,267.2 185.8,268.6 186.8,269.8 187.8,270.9 188.8,271.8 189.8,272.6 190.8,273.3 191.8,273.9 192.8,274.5 193.8,274.9 194.8,275.3 195.8,275.7 196.8,276.0 197.8,276.3 198.8,276.5 199.8,276.7 200.8,276.9 201.8,277.0 202.8,277.2 203.8,277.3 204.8,277.4 205.8,277.5 206.8,277.6 207.8,277.6 208.8,277.7 209.8,277.7 210.8,277.8 211.0,277.8" fill="none" stroke="#80ff00" stroke-width="3.4" stroke-linejoin="round"/>
<polygon points="47.5,273.3 48.0,273.2 48.5,273.1 49.0,273.1 49.5,273.0 50.0,272.9 50.5,272.8 51.0,272.7 51.5,272.7 52.0,272.6 52.5,272.5 53.0,272.4 53.5,272.3 54.0,272.2 54.5,272.1 55.0,272.1 55.5,272.0 56.0,271.9 56.5,271.8 57.0,271.7 57.5,271.6 58.0,271.5 58.5,271.4 59.0,271.3 59.5,271.2 60.0,271.1 60.5,271.0 61.0,270.9 61.5,270.8 62.0,270.7 62.5,270.6 63.0,270.5 63.5,270.4 64.0,270.3 64.5,270.2 65.0,270.1 65.5,270.0 66.0,269.9 66.5,269.7 67.0,269.6 67.5,269.5 68.0,269.4 68.5,269.3 69.0,269.2 69.5,269.1 70.0,268.9 70.5,268.8 71.0,268.7 71.5,268.6 72.0,268.5 72.5,268.4 73.0,268.2 73.5,268.1 74.0,268.0 74.5,267.9 75.0,267.7 75.5,267.6 76.0,267.5 76.5,267.4 77.0,267.2 77.5,267.1 78.0,267.0 78.5,266.9 79.0,266.7 79.5,266.6 80.0,266.5 80.5,266.4 81.0,266.2 81.5,266.1 82.0,266.0 82.5,265.8 83.0,265.7 83.5,265.6 84.0,265.5 84.5,265.3 85.0,265.2 85.5,265.1 86.0,264.9 86.5,264.8 87.0,264.7 87.5,264.5 88.0,264.4 88.5,264.3 89.0,264.2 89.5,264.0 90.0,263.9 90.5,263.8 91.0,263.6 91.5,263.5 92.0,263.4 92.5,263.2 93.0,263.1 93.5,263.0 94.0,262.8 94.5,262.7 95.0,262.6 95.5,262.4 96.0,262.3 96.5,262.2 97.0,262.0 97.5,261.9 98.0,261.8 98.5,261.6 99.0,261.5 99.5,261.4 100.0,261.2 100.5,261.1 101.0,260.9 101.5,260.8 102.0,260.7 102.5,260.5 103.0,260.4 103.5,260.2 104.0,260.1 104.5,259.9 105.0,259.8 105.5,259.6 106.0,259.4 106.5,259.3 107.0,259.1 107.5,258.9 108.0,258.8 108.5,258.6 109.0,258.4 109.5,258.2 110.0,258.0 110.5,257.8 111.0,257.6 111.5,257.4 112.0,257.2 112.5,257.0 113.0,256.8 113.5,256.6 114.0,256.3 114.5,256.1 115.0,255.8 115.5,255.6 116.0,255.3 116.5,255.0 117.0,254.7 117.5,254.4 118.0,254.1 118.5,253.8 119.0,253.5 119.5,253.1 120.0,252.8 120.5,252.4 121.0,252.0 121.5,251.7 122.0,251.3 122.5,250.9 123.0,250.4 123.5,250.0 124.0,249.6 124.5,249.1 125.0,248.6 125.5,248.1 126.0,247.6 126.5,247.1 127.0,246.6 127.5,246.0 128.0,245.5 128.5,244.9 129.0,244.3 129.5,243.7 130.0,243.1 130.5,242.5 131.0,241.8 131.5,241.1 132.0,240.4 132.5,239.7 133.0,238.9 133.5,238.2 134.0,237.5 134.5,236.7 135.0,235.9 135.5,235.2 136.0,234.4 136.5,233.6 137.0,232.8 137.5,232.0 138.0,231.2 138.5,230.5 139.0,229.7 139.5,228.9 140.0,228.1 140.5,227.3 141.0,226.5 141.5,225.7 142.0,224.9 142.5,224.1 143.0,223.4 143.5,222.5 144.0,221.6 144.5,220.8 145.0,219.9 145.5,219.1 146.0,218.3 146.5,217.5 147.0,216.7 147.5,215.9 148.0,215.2 148.5,214.5 149.0,213.8 149.5,213.1 150.0,212.4 150.5,211.8 151.0,211.3 151.5,210.7 152.0,210.2 152.5,209.7 153.0,209.2 153.5,208.8 154.0,208.4 154.5,208.0 155.0,207.7 155.5,207.4 156.0,207.1 156.5,207.2 157.0,207.4 157.5,207.6 158.0,207.8 158.5,208.0 159.0,208.3 159.5,208.7 160.0,209.2 160.5,209.7 161.0,210.3 161.5,211.1 162.0,211.9 162.5,212.8 163.0,213.8 163.5,214.9 164.0,216.0 164.5,217.2 165.0,218.5 165.5,219.8 166.0,221.2 166.5,222.7 167.0,224.1 167.5,225.6 168.0,227.2 168.5,228.6 169.0,230.1 169.5,231.6 170.0,233.1 170.5,234.6 171.0,236.1 171.5,237.6 172.0,239.0 172.5,240.5 173.0,242.0 173.5,243.4 174.0,244.8 174.5,246.2 175.0,247.6 175.5,248.9 176.0,250.2 176.5,251.4 177.0,252.7 177.5,253.8 178.0,255.0 178.5,256.1 179.0,257.2 179.5,258.2 180.0,259.1 180.5,260.0 181.0,260.9 181.5,261.7 182.0,262.4 182.5,263.1 183.0,263.8 183.5,264.5 184.0,265.1 184.5,265.7 185.0,266.2 185.5,266.7 186.0,267.2 186.5,267.7 187.0,268.1 187.5,268.5 188.0,268.9 188.5,269.3 189.0,269.6 189.5,269.9 190.0,270.2 190.5,270.5 191.0,270.8 191.5,271.0 192.0,271.3 192.5,271.5 193.0,271.7 193.5,271.9 194.0,272.1 194.5,272.3 195.0,272.4 195.5,272.6 196.0,272.8 196.5,272.9 197.0,273.0 197.5,273.2 198.0,273.3 198.5,273.4 199.0,273.6 199.5,273.7 200.0,273.8 200.5,273.9 201.0,274.0 201.5,274.1 202.0,274.2 202.5,274.3 203.0,274.4 203.5,274.5 204.0,274.6 204.5,274.7 205.0,274.8 205.5,274.9 206.0,275.0 206.5,275.1 207.0,275.2 207.5,275.2 208.0,275.3 208.5,275.4 209.0,275.5 209.5,275.6 210.0,275.6 210.5,275.7 211.0,275.8 211.0,276.8 210.5,276.7 210.0,276.7 209.5,276.7 209.0,276.7 208.5,276.6 208.0,276.6 207.5,276.6 207.0,276.5 206.5,276.5 206.0,276.5 205.5,276.4 205.0,276.4 204.5,276.3 204.0,276.3 203.5,276.3 203.0,276.2 202.5,276.2 202.0,276.1 201.5,276.1 201.0,276.0 200.5,275.9 200.0,275.9 199.5,275.8 199.0,275.7 198.5,275.7 198.0,275.6 197.5,275.5 197.0,275.4 196.5,275.3 196.0,275.2 195.5,275.1 195.0,275.0 194.5,274.9 194.0,274.7 193.5,274.6 193.0,274.4 192.5,274.3 192.0,274.1 191.5,273.9 191.0,273.7 190.5,273.5 190.0,273.2 189.5,273.0 189.0,272.7 188.5,272.4 188.0,272.1 187.5,271.8 187.0,271.4 186.5,271.1 186.0,270.6 185.5,270.2 185.0,269.7 184.5,269.2 184.0,268.7 183.5,268.1 183.0,267.5 182.5,266.9 182.0,266.2 181.5,265.5 181.0,264.8 180.5,264.0 180.0,263.1 179.5,262.3 179.0,261.5 178.5,260.6 178.0,259.7 177.5,258.7 177.0,257.7 176.5,256.6 176.0,255.5 175.5,254.4 175.0,253.2 174.5,252.0 174.0,250.8 173.5,249.6 173.0,248.3 172.5,247.0 172.0,245.7 171.5,244.4 171.0,243.1 170.5,241.7 170.0,240.4 169.5,239.1 169.0,237.8 168.5,236.5 168.0,235.2 167.5,234.0 167.0,232.8 166.5,231.7 166.0,230.6 165.5,229.5 165.0,228.5 164.5,227.6 164.0,226.7 163.5,225.9 163.0,225.1 162.5,224.4 162.0,223.9 161.5,223.3 161.0,222.9 160.5,222.6 160.0,222.3 159.5,222.2 159.0,222.1 158.5,222.1 158.0,222.1 157.5,222.2 157.0,222.3 156.5,222.5 156.0,222.6 155.5,222.6 155.0,222.6 154.5,222.7 154.0,222.7 153.5,222.8 153.0,223.0 152.5,223.1 152.0,223.3 151.5,223.6 151.0,223.8 150.5,224.1 150.0,224.4 149.5,224.8 149.0,225.2 148.5,225.6 148.0,226.0 147.5,226.5 147.0,227.0 146.5,227.5 146.0,228.0 145.5,228.5 145.0,229.0 144.5,229.6 144.0,230.2 143.5,230.8 143.0,231.4 142.5,232.0 142.0,232.7 141.5,233.3 141.0,234.0 140.5,234.7 140.0,235.4 139.5,236.0 139.0,236.7 138.5,237.4 138.0,238.1 137.5,238.8 137.0,239.4 136.5,240.1 136.0,240.8 135.5,241.4 135.0,242.1 134.5,242.7 134.0,243.4 133.5,244.0 133.0,244.6 132.5,245.2 132.0,245.8 131.5,246.4 131.0,247.0 130.5,247.6 130.0,248.1 129.5,248.7 129.0,249.3 128.5,249.9 128.0,250.4 127.5,251.0 127.0,251.5 126.5,252.0 126.0,252.5 125.5,253.0 125.0,253.5 124.5,254.0 124.0,254.4 123.5,254.8 123.0,255.3 122.5,255.7 122.0,256.1 121.5,256.5 121.0,256.8 120.5,257.2 120.0,257.5 119.5,257.9 119.0,258.2 118.5,258.5 118.0,258.8 117.5,259.1 117.0,259.4 116.5,259.7 116.0,259.9 115.5,260.2 115.0,260.5 114.5,260.7 114.0,260.9 113.5,261.2 113.0,261.4 112.5,261.6 112.0,261.8 111.5,262.0 111.0,262.2 110.5,262.4 110.0,262.6 109.5,262.7 109.0,262.9 108.5,263.1 108.0,263.2 107.5,263.4 107.0,263.6 106.5,263.7 106.0,263.9 105.5,264.0 105.0,264.2 104.5,264.3 104.0,264.4 103.5,264.6 103.0,264.7 102.5,264.9 102.0,265.0 101.5,265.1 101.0,265.2 100.5,265.4 100.0,265.5 99.5,265.6 99.0,265.8 98.5,265.9 98.0,266.0 97.5,266.1 97.0,266.2 96.5,266.4 96.0,266.5 95.5,266.6 95.0,266.7 94.5,266.9 94.0,267.0 93.5,267.1 93.0,267.2 92.5,267.3 92.0,267.5 91.5,267.6 91.0,267.7 90.5,267.8 90.0,267.9 89.5,268.0 89.0,268.2 88.5,268.3 88.0,268.4 87.5,268.5 87.0,268.6 86.5,268.8 86.0,268.9 85.5,269.0 85.0,269.1 84.5,269.2 84.0,269.3 83.5,269.5 83.0,269.6 82.5,269.7 82.0,269.8 81.5,269.9 81.0,270.1 80.5,270.2 80.0,270.3 79.5,270.4 79.0,270.5 78.5,270.6 78.0,270.7 77.5,270.9 77.0,271.0 76.5,271.1 76.0,271.2 75.5,271.3 75.0,271.4 74.5,271.5 74.0,271.6 73.5,271.7 73.0,271.9 72.5,272.0 72.0,272.1 71.5,272.2 71.0,272.3 70.5,272.4 70.0,272.5 69.5,272.6 69.0,272.7 68.5,272.8 68.0,272.9 67.5,273.0 67.0,273.1 66.5,273.2 66.0,273.3 65.5,273.4 65.0,273.5 64.5,273.6 64.0,273.7 63.5,273.8 63.0,273.9 62.5,274.0 62.0,274.1 61.5,274.2 61.0,274.3 60.5,274.3 60.0,274.4 59.5,274.5 59.0,274.6 58.5,274.7 58.0,274.8 57.5,274.9 57.0,274.9 56.5,275.0 56.0,275.1 55.5,275.2 55.0,275.3 54.5,275.3 54.0,275.4 53.5,275.5 53.0,275.6 52.5,275.6 52.0,275.7 51.5,275.8 51.0,275.8 50.5,275.9 50.0,276.0 49.5,276.0 49.0,276.1 48.5,276.2 48.0,276.2 47.5,276.3" fill="rgba(77,233,247,0.50)"/>
<polyline points="47.5,274.8 48.5,274.7 49.5,274.5 50.5,274.4 51.5,274.2 52.5,274.1 53.5,273.9 54.5,273.7 55.5,273.6 56.5,273.4 57.5,273.2 58.5,273.0 59.5,272.9 60.5,272.7 61.5,272.5 62.5,272.3 63.5,272.1 64.5,271.9 65.5,271.7 66.5,271.5 67.5,271.3 68.5,271.1 69.5,270.8 70.5,270.6 71.5,270.4 72.5,270.2 73.5,269.9 74.5,269.7 75.5,269.5 76.5,269.2 77.5,269.0 78.5,268.7 79.5,268.5 80.5,268.3 81.5,268.0 82.5,267.8 83.5,267.5 84.5,267.3 85.5,267.0 86.5,266.8 87.5,266.5 88.5,266.3 89.5,266.0 90.5,265.8 91.5,265.5 92.5,265.3 93.5,265.0 94.5,264.8 95.5,264.5 96.5,264.3 97.5,264.0 98.5,263.8 99.5,263.5 100.5,263.2 101.5,263.0 102.5,262.7 103.5,262.4 104.5,262.1 105.5,261.8 106.5,261.5 107.5,261.2 108.5,260.8 109.5,260.5 110.5,260.1 111.5,259.7 112.5,259.3 113.5,258.9 114.5,258.4 115.5,257.9 116.5,257.3 117.5,256.8 118.5,256.2 119.5,255.5 120.5,254.8 121.5,254.1 122.5,253.3 123.5,252.4 124.5,251.5 125.5,250.6 126.5,249.6 127.5,248.5 128.5,247.4 129.5,246.2 130.5,245.0 131.5,243.8 132.5,242.5 133.5,241.1 134.5,239.7 135.5,238.3 136.5,236.9 137.5,235.4 138.5,233.9 139.5,232.5 140.5,231.0 141.5,229.5 142.5,228.1 143.5,226.7 144.5,225.3 145.5,224.0 146.5,222.7 147.5,221.5 148.5,220.4 149.5,219.4 150.5,218.5 151.5,217.7 152.5,217.0 153.5,216.5 154.5,216.0 155.5,215.7 156.5,215.6 157.5,215.6 158.5,215.7 159.5,216.0 160.5,216.7 161.5,217.7 162.5,219.1 163.0,219.9 163.5,220.7 164.0,221.7 164.5,222.7 165.0,223.8 165.5,224.9 166.0,226.1 166.5,227.3 167.0,228.5 167.5,229.8 168.0,231.2 168.5,232.5 169.0,233.9 169.5,235.3 170.0,236.7 170.5,238.1 171.0,239.6 171.5,241.0 172.0,242.4 172.5,243.8 173.0,245.1 173.5,246.5 174.0,247.8 174.5,249.1 175.0,250.4 175.5,251.6 176.0,252.9 176.5,254.0 177.0,255.2 177.5,256.3 178.0,257.3 178.5,258.3 179.0,259.3 179.5,260.3 180.0,261.1 180.5,262.0 181.5,263.6 182.5,265.0 183.5,266.3 184.5,267.5 185.5,268.5 186.5,269.4 187.5,270.2 188.5,270.8 189.5,271.5 190.5,272.0 191.5,272.5 192.5,272.9 193.5,273.2 194.5,273.6 195.5,273.8 196.5,274.1 197.5,274.3 198.5,274.6 199.5,274.7 200.5,274.9 201.5,275.1 202.5,275.2 203.5,275.4 204.5,275.5 205.5,275.7 206.5,275.8 207.5,275.9 208.5,276.0 209.5,276.1 210.5,276.2 211.0,276.3" fill="none" stroke="#00f0ff" stroke-width="3.4" stroke-linejoin="round"/>
<polygon points="47.5,270.8 48.0,270.8 48.5,270.7 49.0,270.6 49.5,270.6 50.0,270.5 50.5,270.5 51.0,270.4 51.5,270.3 52.0,270.3 52.5,270.2 53.0,270.1 53.5,270.1 54.0,270.0 54.5,269.9 55.0,269.9 55.5,269.8 56.0,269.8 56.5,269.7 57.0,269.6 57.5,269.6 58.0,269.5 58.5,269.4 59.0,269.4 59.5,269.3 60.0,269.2 60.5,269.2 61.0,269.1 61.5,269.0 62.0,269.0 62.5,268.9 63.0,268.8 63.5,268.8 64.0,268.7 64.5,268.6 65.0,268.6 65.5,268.5 66.0,268.4 66.5,268.4 67.0,268.3 67.5,268.2 68.0,268.1 68.5,268.1 69.0,268.0 69.5,267.9 70.0,267.9 70.5,267.8 71.0,267.7 71.5,267.7 72.0,267.6 72.5,267.5 73.0,267.5 73.5,267.4 74.0,267.3 74.5,267.2 75.0,267.2 75.5,267.1 76.0,267.0 76.5,267.0 77.0,266.9 77.5,266.8 78.0,266.7 78.5,266.7 79.0,266.6 79.5,266.5 80.0,266.4 80.5,266.4 81.0,266.3 81.5,266.2 82.0,266.1 82.5,266.1 83.0,266.0 83.5,265.9 84.0,265.8 84.5,265.8 85.0,265.7 85.5,265.6 86.0,265.5 86.5,265.4 87.0,265.3 87.5,265.3 88.0,265.2 88.5,265.1 89.0,265.0 89.5,264.9 90.0,264.8 90.5,264.7 91.0,264.6 91.5,264.5 92.0,264.5 92.5,264.4 93.0,264.3 93.5,264.2 94.0,264.1 94.5,264.0 95.0,263.9 95.5,263.7 96.0,263.6 96.5,263.5 97.0,263.4 97.5,263.3 98.0,263.2 98.5,263.1 99.0,262.9 99.5,262.8 100.0,262.7 100.5,262.6 101.0,262.4 101.5,262.3 102.0,262.2 102.5,262.0 103.0,261.9 103.5,261.7 104.0,261.6 104.5,261.4 105.0,261.3 105.5,261.1 106.0,261.0 106.5,260.8 107.0,260.6 107.5,260.5 108.0,260.3 108.5,260.1 109.0,259.9 109.5,259.7 110.0,259.6 110.5,259.4 111.0,259.2 111.5,259.0 112.0,258.8 112.5,258.6 113.0,258.3 113.5,258.1 114.0,257.9 114.5,257.7 115.0,257.5 115.5,257.2 116.0,257.0 116.5,256.8 117.0,256.5 117.5,256.3 118.0,256.0 118.5,255.8 119.0,255.5 119.5,255.2 120.0,255.0 120.5,254.7 121.0,254.4 121.5,254.2 122.0,253.9 122.5,253.6 123.0,253.3 123.5,253.1 124.0,252.8 124.5,252.5 125.0,252.2 125.5,251.9 126.0,251.6 126.5,251.3 127.0,251.0 127.5,250.7 128.0,250.4 128.5,250.1 129.0,249.8 129.5,249.5 130.0,249.2 130.5,248.9 131.0,248.6 131.5,248.3 132.0,248.0 132.5,247.7 133.0,247.4 133.5,247.1 134.0,246.8 134.5,246.5 135.0,246.2 135.5,245.9 136.0,245.6 136.5,245.4 137.0,245.1 137.5,244.8 138.0,244.6 138.5,244.3 139.0,244.1 139.5,243.8 140.0,243.6 140.5,243.3 141.0,243.1 141.5,242.9 142.0,242.7 142.5,242.5 143.0,242.3 143.5,242.1 144.0,241.9 144.5,241.8 145.0,241.6 145.5,241.5 146.0,241.3 146.5,241.2 147.0,241.1 147.5,241.0 148.0,240.9 148.5,240.8 149.0,240.7 149.5,240.6 150.0,240.6 150.5,240.5 151.0,240.5 151.5,240.4 152.0,240.4 152.5,240.4 153.0,240.4 153.5,240.4 154.0,240.5 154.5,240.5 155.0,240.6 155.5,240.7 156.0,240.7 156.5,240.9 157.0,241.0 157.5,241.1 158.0,241.3 158.5,241.4 159.0,241.6 159.5,241.8 160.0,242.0 160.5,242.2 161.0,242.4 161.5,242.7 162.0,242.9 162.5,243.2 163.0,243.4 163.5,243.7 164.0,244.0 164.5,244.3 165.0,244.6 165.5,244.9 166.0,245.2 166.5,245.6 167.0,245.9 167.5,246.3 168.0,246.6 168.5,247.0 169.0,247.4 169.5,247.8 170.0,248.1 170.5,248.5 171.0,248.9 171.5,249.3 172.0,249.7 172.5,250.1 173.0,250.6 173.5,251.0 174.0,251.4 174.5,251.8 175.0,252.2 175.5,252.7 176.0,253.1 176.5,253.5 177.0,253.9 177.5,254.4 178.0,254.8 178.5,255.2 179.0,255.6 179.5,256.1 180.0,256.5 180.5,256.9 181.0,257.3 181.5,257.8 182.0,258.2 182.5,258.6 183.0,259.0 183.5,259.4 184.0,259.8 184.5,260.2 185.0,260.6 185.5,261.0 186.0,261.4 186.5,261.8 187.0,262.1 187.5,262.5 188.0,262.9 188.5,263.2 189.0,263.6 189.5,263.9 190.0,264.3 190.5,264.6 191.0,265.0 191.5,265.3 192.0,265.6 192.5,265.9 193.0,266.2 193.5,266.5 194.0,266.8 194.5,267.1 195.0,267.4 195.5,267.7 196.0,267.9 196.5,268.2 197.0,268.5 197.5,268.7 198.0,269.0 198.5,269.2 199.0,269.4 199.5,269.7 200.0,269.9 200.5,270.1 201.0,270.3 201.5,270.5 202.0,270.7 202.5,270.9 203.0,271.1 203.5,271.3 204.0,271.5 204.5,271.7 205.0,271.8 205.5,272.0 206.0,272.2 206.5,272.3 207.0,272.5 207.5,272.6 208.0,272.8 208.5,272.9 209.0,273.1 209.5,273.2 210.0,273.3 210.5,273.5 211.0,273.6 211.0,275.6 210.5,275.5 210.0,275.4 209.5,275.3 209.0,275.2 208.5,275.1 208.0,275.0 207.5,274.9 207.0,274.8 206.5,274.6 206.0,274.5 205.5,274.4 205.0,274.2 204.5,274.1 204.0,274.0 203.5,273.8 203.0,273.6 202.5,273.5 202.0,273.3 201.5,273.2 201.0,273.0 200.5,272.8 200.0,272.6 199.5,272.4 199.0,272.2 198.5,272.0 198.0,271.8 197.5,271.6 197.0,271.4 196.5,271.1 196.0,270.9 195.5,270.7 195.0,270.4 194.5,270.2 194.0,269.9 193.5,269.7 193.0,269.4 192.5,269.1 192.0,268.8 191.5,268.5 191.0,268.3 190.5,268.0 190.0,267.6 189.5,267.3 189.0,267.0 188.5,266.7 188.0,266.4 187.5,266.0 187.0,265.7 186.5,265.4 186.0,265.0 185.5,264.7 185.0,264.3 184.5,263.9 184.0,263.6 183.5,263.2 183.0,262.8 182.5,262.4 182.0,262.1 181.5,261.7 181.0,261.3 180.5,260.9 180.0,260.5 179.5,260.1 179.0,259.7 178.5,259.3 178.0,258.9 177.5,258.5 177.0,258.1 176.5,257.7 176.0,257.3 175.5,256.8 175.0,256.4 174.5,256.0 174.0,255.6 173.5,255.2 173.0,254.8 172.5,254.4 172.0,254.1 171.5,253.7 171.0,253.3 170.5,252.9 170.0,252.5 169.5,252.2 169.0,251.8 168.5,251.5 168.0,251.1 167.5,250.8 167.0,250.4 166.5,250.1 166.0,249.8 165.5,249.5 165.0,249.2 164.5,248.9 164.0,248.6 163.5,248.4 163.0,248.1 162.5,247.9 162.0,247.6 161.5,247.4 161.0,247.2 160.5,247.0 160.0,246.8 159.5,246.6 159.0,246.4 158.5,246.3 158.0,246.1 157.5,246.0 157.0,245.9 156.5,245.8 156.0,245.7 155.5,245.6 155.0,245.6 154.5,245.5 154.0,245.4 153.5,245.4 153.0,245.3 152.5,245.3 152.0,245.3 151.5,245.3 151.0,245.3 150.5,245.3 150.0,245.4 149.5,245.4 149.0,245.4 148.5,245.5 148.0,245.6 147.5,245.7 147.0,245.8 146.5,245.9 146.0,246.0 145.5,246.1 145.0,246.2 144.5,246.4 144.0,246.5 143.5,246.7 143.0,246.8 142.5,247.0 142.0,247.2 141.5,247.4 141.0,247.6 140.5,247.8 140.0,248.0 139.5,248.2 139.0,248.4 138.5,248.7 138.0,248.9 137.5,249.1 137.0,249.4 136.5,249.6 136.0,249.9 135.5,250.1 135.0,250.4 134.5,250.7 134.0,250.9 133.5,251.2 133.0,251.5 132.5,251.8 132.0,252.1 131.5,252.3 131.0,252.6 130.5,252.9 130.0,253.2 129.5,253.5 129.0,253.8 128.5,254.1 128.0,254.4 127.5,254.7 127.0,255.0 126.5,255.3 126.0,255.5 125.5,255.8 125.0,256.1 124.5,256.4 124.0,256.7 123.5,257.0 123.0,257.3 122.5,257.5 122.0,257.8 121.5,258.1 121.0,258.3 120.5,258.6 120.0,258.9 119.5,259.1 119.0,259.4 118.5,259.6 118.0,259.9 117.5,260.1 117.0,260.4 116.5,260.6 116.0,260.8 115.5,261.1 115.0,261.3 114.5,261.5 114.0,261.7 113.5,261.9 113.0,262.1 112.5,262.3 112.0,262.5 111.5,262.7 111.0,262.9 110.5,263.1 110.0,263.3 109.5,263.5 109.0,263.7 108.5,263.9 108.0,264.0 107.5,264.2 107.0,264.4 106.5,264.5 106.0,264.7 105.5,264.8 105.0,265.0 104.5,265.1 104.0,265.3 103.5,265.4 103.0,265.6 102.5,265.7 102.0,265.8 101.5,266.0 101.0,266.1 100.5,266.2 100.0,266.3 99.5,266.5 99.0,266.6 98.5,266.7 98.0,266.8 97.5,266.9 97.0,267.0 96.5,267.1 96.0,267.2 95.5,267.3 95.0,267.4 94.5,267.5 94.0,267.6 93.5,267.7 93.0,267.8 92.5,267.9 92.0,268.0 91.5,268.1 91.0,268.2 90.5,268.3 90.0,268.3 89.5,268.4 89.0,268.5 88.5,268.6 88.0,268.7 87.5,268.7 87.0,268.8 86.5,268.9 86.0,269.0 85.5,269.1 85.0,269.1 84.5,269.2 84.0,269.3 83.5,269.4 83.0,269.4 82.5,269.5 82.0,269.6 81.5,269.6 81.0,269.7 80.5,269.8 80.0,269.8 79.5,269.9 79.0,270.0 78.5,270.0 78.0,270.1 77.5,270.2 77.0,270.2 76.5,270.3 76.0,270.4 75.5,270.4 75.0,270.5 74.5,270.6 74.0,270.6 73.5,270.7 73.0,270.8 72.5,270.8 72.0,270.9 71.5,271.0 71.0,271.0 70.5,271.1 70.0,271.1 69.5,271.2 69.0,271.3 68.5,271.3 68.0,271.4 67.5,271.5 67.0,271.5 66.5,271.6 66.0,271.6 65.5,271.7 65.0,271.8 64.5,271.8 64.0,271.9 63.5,272.0 63.0,272.0 62.5,272.1 62.0,272.1 61.5,272.2 61.0,272.3 60.5,272.3 60.0,272.4 59.5,272.4 59.0,272.5 58.5,272.6 58.0,272.6 57.5,272.7 57.0,272.7 56.5,272.8 56.0,272.9 55.5,272.9 55.0,273.0 54.5,273.0 54.0,273.1 53.5,273.2 53.0,273.2 52.5,273.3 52.0,273.3 51.5,273.4 51.0,273.4 50.5,273.5 50.0,273.6 49.5,273.6 49.0,273.7 48.5,273.7 48.0,273.8 47.5,273.8" fill="rgba(145,65,233,0.50)"/>
<polyline points="47.5,272.3 48.5,272.2 49.5,272.1 50.5,272.0 51.5,271.9 52.5,271.7 53.5,271.6 54.5,271.5 55.5,271.4 56.5,271.2 57.5,271.1 58.5,271.0 59.5,270.9 60.5,270.7 61.5,270.6 62.5,270.5 63.5,270.4 64.5,270.2 65.5,270.1 66.5,270.0 67.5,269.8 68.5,269.7 69.5,269.6 70.5,269.4 71.5,269.3 72.5,269.2 73.5,269.0 74.5,268.9 75.5,268.8 76.5,268.6 77.5,268.5 78.5,268.4 79.5,268.2 80.5,268.1 81.5,267.9 82.5,267.8 83.5,267.6 84.5,267.5 85.5,267.3 86.5,267.2 87.5,267.0 88.5,266.8 89.5,266.7 90.5,266.5 91.5,266.3 92.5,266.1 93.5,265.9 94.5,265.7 95.5,265.5 96.5,265.3 97.5,265.1 98.5,264.9 99.5,264.6 100.5,264.4 101.5,264.1 102.5,263.9 103.5,263.6 104.5,263.3 105.5,263.0 106.5,262.7 107.5,262.3 108.5,262.0 109.5,261.6 110.5,261.2 111.5,260.9 112.5,260.5 113.5,260.0 114.5,259.6 115.5,259.1 116.5,258.7 117.5,258.2 118.5,257.7 119.5,257.2 120.5,256.7 121.5,256.1 122.5,255.6 123.5,255.0 124.5,254.4 125.5,253.9 126.5,253.3 127.5,252.7 128.5,252.1 129.5,251.5 130.5,250.9 131.5,250.3 132.5,249.7 133.5,249.1 134.5,248.6 135.5,248.0 136.5,247.5 137.5,247.0 138.5,246.5 139.5,246.0 140.5,245.6 141.5,245.1 142.5,244.7 143.5,244.4 144.5,244.1 145.5,243.8 146.5,243.5 147.5,243.3 148.5,243.1 149.5,243.0 150.5,242.9 151.5,242.9 152.5,242.9 153.5,242.9 154.5,243.0 155.5,243.1 156.5,243.3 157.5,243.6 158.5,243.9 159.5,244.2 160.5,244.6 161.5,245.0 162.5,245.5 163.5,246.0 164.5,246.6 165.5,247.2 166.5,247.9 167.5,248.5 168.5,249.2 169.5,250.0 170.5,250.7 171.5,251.5 172.5,252.3 173.5,253.1 174.5,253.9 175.5,254.8 176.5,255.6 177.5,256.4 178.5,257.3 179.5,258.1 180.5,258.9 181.5,259.7 182.5,260.5 183.5,261.3 184.5,262.1 185.5,262.8 186.5,263.6 187.5,264.3 188.5,265.0 189.5,265.6 190.5,266.3 191.5,266.9 192.5,267.5 193.5,268.1 194.5,268.6 195.5,269.2 196.5,269.7 197.5,270.2 198.5,270.6 199.5,271.0 200.5,271.5 201.5,271.8 202.5,272.2 203.5,272.6 204.5,272.9 205.5,273.2 206.5,273.5 207.5,273.8 208.5,274.0 209.5,274.3 210.5,274.5 211.0,274.6" fill="none" stroke="#7800f0" stroke-width="3.4" stroke-linejoin="round"/>
<polygon points="276.5,252.3 277.0,252.0 277.5,251.7 278.0,251.4 278.5,251.1 279.0,250.8 279.5,250.5 280.0,250.2 280.5,249.9 281.0,249.6 281.5,249.3 282.0,249.0 282.5,248.7 283.0,248.4 283.5,248.1 284.0,247.8 284.5,247.5 285.0,247.2 285.5,246.9 286.0,246.6 286.5,246.3 287.0,246.0 287.5,245.6 288.0,245.3 288.5,245.0 289.0,244.7 289.5,244.4 290.0,244.0 290.5,243.7 291.0,243.4 291.5,243.1 292.0,242.7 292.5,242.4 293.0,242.1 293.5,241.7 294.0,241.4 294.5,241.0 295.0,240.7 295.5,240.4 296.0,240.0 296.5,239.7 297.0,239.3 297.5,238.9 298.0,238.6 298.5,238.2 299.0,237.8 299.5,237.5 300.0,237.1 300.5,236.7 301.0,236.3 301.5,236.0 302.0,235.6 302.5,235.2 303.0,234.8 303.5,234.4 304.0,234.0 304.5,233.6 305.0,233.2 305.5,232.8 306.0,232.3 306.5,231.9 307.0,231.5 307.5,231.1 308.0,230.7 308.5,230.2 309.0,229.8 309.5,229.4 310.0,228.9 310.5,228.5 311.0,228.0 311.5,227.6 312.0,227.1 312.5,226.7 313.0,226.2 313.5,225.8 314.0,225.3 314.5,224.8 315.0,224.4 315.5,223.9 316.0,223.4 316.5,223.0 317.0,222.5 317.5,222.0 318.0,221.5 318.5,221.0 319.0,220.5 319.5,220.0 320.0,219.5 320.5,219.0 321.0,218.5 321.5,218.0 322.0,217.5 322.5,217.0 323.0,216.5 323.5,216.0 324.0,215.5 324.5,214.9 325.0,214.4 325.5,213.9 326.0,213.4 326.5,212.8 327.0,212.3 327.5,211.7 328.0,211.2 328.5,210.7 329.0,210.1 329.5,209.6 330.0,209.0 330.5,208.4 331.0,207.8 331.5,207.2 332.0,206.6 332.5,206.0 333.0,205.4 333.5,204.8 334.0,204.2 334.5,203.6 335.0,203.0 335.5,202.4 336.0,201.8 336.5,201.1 337.0,200.5 337.5,199.9 338.0,199.3 338.5,198.6 339.0,198.0 339.5,197.4 340.0,196.7 340.5,196.1 341.0,195.5 341.5,194.8 342.0,194.2 342.5,193.5 343.0,192.9 343.5,192.2 344.0,191.6 344.5,190.9 345.0,190.3 345.5,189.6 346.0,189.0 346.5,188.3 347.0,187.6 347.5,186.9 348.0,186.3 348.5,185.6 349.0,184.9 349.5,184.2 350.0,183.4 350.5,182.7 351.0,182.0 351.5,181.2 352.0,180.4 352.5,179.6 353.0,178.7 353.5,178.2 354.0,177.6 354.5,176.9 355.0,176.2 355.5,175.5 356.0,174.8 356.5,173.9 357.0,173.1 357.5,172.1 358.0,171.2 358.5,170.1 359.0,169.0 359.5,168.3 360.0,167.4 360.5,166.5 361.0,165.5 361.2,165.0 361.5,164.5 361.8,164.0 362.0,163.5 362.2,162.9 362.5,162.4 362.8,161.8 363.0,161.3 363.2,160.7 363.5,160.1 363.8,159.5 364.0,158.9 364.2,158.0 364.5,157.2 364.8,156.4 365.0,155.5 365.2,154.7 365.5,153.8 365.8,153.0 366.0,152.1 366.2,151.2 366.5,150.4 366.8,149.5 367.0,148.6 367.2,147.7 367.5,146.9 367.8,146.0 368.0,145.1 368.2,144.1 368.5,143.1 368.8,142.1 369.0,141.2 369.2,140.2 369.5,139.2 369.8,138.2 370.0,137.2 370.2,136.2 370.5,135.2 370.8,134.2 371.0,133.2 371.2,132.2 371.5,131.3 371.8,130.3 372.0,129.3 372.2,128.3 372.5,127.3 372.8,126.3 373.0,125.3 373.2,124.3 373.5,123.3 373.8,122.4 374.0,121.4 374.2,120.4 374.5,119.4 374.8,118.4 375.0,117.5 375.2,116.5 375.5,115.5 375.8,114.5 376.0,113.6 376.2,112.6 376.5,111.7 376.8,110.7 377.0,109.7 377.2,108.8 377.5,107.9 377.8,106.9 378.0,106.0 378.2,105.0 378.5,104.1 378.8,103.2 379.0,102.3 379.2,101.4 379.5,100.4 379.8,99.5 380.0,98.6 380.2,97.7 380.5,96.9 380.8,96.0 381.0,95.1 381.2,94.2 381.5,93.4 381.8,92.5 382.0,91.6 382.2,90.8 382.5,90.0 382.8,89.1 383.0,88.3 383.2,87.5 383.5,86.7 383.8,85.9 384.0,85.1 384.2,84.3 384.5,83.5 384.8,82.7 385.0,82.0 385.2,81.2 385.5,80.5 385.8,79.7 386.0,79.0 386.2,78.3 386.5,77.6 386.8,76.9 387.0,76.2 387.2,75.5 387.5,74.8 387.8,74.2 388.0,73.5 388.2,72.9 388.5,72.2 388.8,71.6 389.0,71.0 389.2,70.4 389.5,69.8 389.8,69.2 390.0,68.6 390.2,68.0 390.5,67.4 390.8,66.8 391.0,66.3 391.2,65.7 391.5,65.2 391.8,64.6 392.0,64.1 392.2,63.6 392.5,63.0 392.8,62.5 393.0,62.0 393.2,61.5 393.5,61.0 393.8,60.5 394.0,60.0 394.2,59.5 394.5,59.1 394.8,58.6 395.0,58.2 395.2,57.7 395.5,57.3 395.8,56.8 396.0,56.4 396.2,56.0 396.5,55.6 396.8,55.2 397.0,54.8 397.5,54.0 397.8,53.6 398.0,53.3 398.5,52.6 398.8,52.2 399.0,51.9 399.5,51.3 399.8,51.0 400.0,50.7 400.5,50.1 400.8,49.8 401.0,49.5 401.5,49.0 401.8,48.8 402.0,48.5 402.5,48.1 402.8,47.8 403.0,47.6 403.5,47.2 403.8,47.0 404.0,46.8 404.5,46.4 404.8,46.3 405.0,46.1 405.5,45.8 405.8,45.6 406.0,45.5 406.5,45.2 406.8,45.0 407.0,44.9 407.5,44.6 407.8,44.5 408.0,44.4 408.5,44.1 408.8,44.0 409.0,43.9 409.5,43.7 409.8,43.6 410.0,43.5 410.5,43.2 410.8,43.1 411.0,43.0 411.5,42.9 411.8,42.8 412.0,42.7 412.5,42.5 412.8,42.4 413.0,42.3 413.5,42.1 413.8,42.1 414.0,42.0 414.5,41.8 414.8,41.7 415.0,41.7 415.5,41.5 415.8,41.4 416.0,41.4 416.5,41.2 416.8,41.1 417.0,41.1 417.5,40.9 417.8,40.9 418.0,40.8 418.5,40.7 418.8,40.6 419.0,40.6 419.5,40.4 419.8,40.4 420.0,40.3 420.5,40.2 420.8,40.1 421.0,40.1 421.5,40.0 421.8,39.9 422.0,39.9 422.5,39.8 422.8,39.7 423.0,39.7 423.5,39.6 423.8,39.5 424.0,39.5 424.5,39.4 424.8,39.3 425.0,39.3 425.5,39.2 425.8,39.1 426.0,39.1 426.5,39.0 426.8,39.0 427.0,38.9 427.5,38.8 427.8,38.8 428.0,38.8 428.5,38.7 428.8,38.6 429.0,38.6 429.5,38.5 429.8,38.5 430.0,38.4 430.5,38.4 430.8,38.3 431.0,38.3 431.5,38.2 431.8,38.2 432.0,38.2 432.5,38.1 432.8,38.1 433.0,38.0 433.5,37.9 433.8,37.9 434.0,37.9 434.5,37.8 434.8,37.8 435.0,37.7 435.5,37.7 435.8,37.7 436.0,37.6 436.5,37.6 436.8,37.5 437.0,37.5 437.5,37.4 437.8,37.4 438.0,37.4 438.5,37.3 438.8,37.3 439.0,37.2 439.5,37.2 439.5,39.2 439.0,39.3 438.8,39.3 438.5,39.3 438.0,39.4 437.8,39.4 437.5,39.5 437.0,39.5 436.8,39.6 436.5,39.6 436.0,39.7 435.8,39.7 435.5,39.7 435.0,39.8 434.8,39.9 434.5,39.9 434.0,40.0 433.8,40.0 433.5,40.0 433.0,40.1 432.8,40.1 432.5,40.2 432.0,40.3 431.8,40.3 431.5,40.3 431.0,40.4 430.8,40.5 430.5,40.5 430.0,40.6 429.8,40.6 429.5,40.7 429.0,40.7 428.8,40.8 428.5,40.8 428.0,40.9 427.8,41.0 427.5,41.0 427.0,41.1 426.8,41.1 426.5,41.2 426.0,41.3 425.8,41.3 425.5,41.4 425.0,41.5 424.8,41.5 424.5,41.6 424.0,41.7 423.8,41.7 423.5,41.8 423.0,41.9 422.8,41.9 422.5,42.0 422.0,42.1 421.8,42.2 421.5,42.2 421.0,42.3 420.8,42.4 420.5,42.5 420.0,42.6 419.8,42.6 419.5,42.7 419.0,42.8 418.8,42.9 418.5,43.0 418.0,43.1 417.8,43.2 417.5,43.2 417.0,43.4 416.8,43.4 416.5,43.5 416.0,43.7 415.8,43.7 415.5,43.8 415.0,44.0 414.8,44.1 414.5,44.1 414.0,44.3 413.8,44.4 413.5,44.5 413.0,44.7 412.8,44.7 412.5,44.8 412.0,45.0 411.8,45.1 411.5,45.2 411.0,45.4 410.8,45.5 410.5,45.6 410.0,45.8 409.8,46.0 409.5,46.1 409.0,46.3 408.8,46.4 408.5,46.5 408.0,46.8 407.8,46.9 407.5,47.0 407.0,47.3 406.8,47.4 406.5,47.6 406.0,47.9 405.8,48.1 405.5,48.2 405.0,48.6 404.8,48.7 404.5,48.9 404.0,49.3 403.8,49.5 403.5,49.7 403.0,50.1 402.8,50.3 402.5,50.5 402.0,51.0 401.8,51.3 401.5,51.5 401.0,52.0 400.8,52.3 400.5,52.6 400.0,53.2 399.8,53.5 399.5,53.8 399.0,54.4 398.8,54.8 398.5,55.1 398.0,55.8 397.8,56.2 397.5,56.6 397.0,57.3 396.8,57.7 396.5,58.1 396.2,58.6 396.0,59.0 395.8,59.4 395.5,59.8 395.2,60.3 395.0,60.7 394.8,61.2 394.5,61.7 394.2,62.1 394.0,62.6 393.8,63.1 393.5,63.6 393.2,64.1 393.0,64.6 392.8,65.1 392.5,65.6 392.2,66.2 392.0,66.7 391.8,67.2 391.5,67.8 391.2,68.3 391.0,68.9 390.8,69.5 390.5,70.0 390.2,70.6 390.0,71.2 389.8,71.8 389.5,72.4 389.2,73.0 389.0,73.6 388.8,74.3 388.5,74.9 388.2,75.5 388.0,76.2 387.8,76.9 387.5,77.5 387.2,78.2 387.0,78.9 386.8,79.6 386.5,80.3 386.2,81.0 386.0,81.7 385.8,82.5 385.5,83.2 385.2,83.9 385.0,84.7 384.8,85.5 384.5,86.2 384.2,87.0 384.0,87.8 383.8,88.6 383.5,89.4 383.2,90.2 383.0,91.0 382.8,91.9 382.5,92.7 382.2,93.6 382.0,94.4 381.8,95.3 381.5,96.1 381.2,97.0 381.0,97.9 380.8,98.7 380.5,99.6 380.2,100.5 380.0,101.4 379.8,102.3 379.5,103.2 379.2,104.1 379.0,105.1 378.8,106.0 378.5,106.9 378.2,107.8 378.0,108.8 377.8,109.7 377.5,110.7 377.2,111.6 377.0,112.6 376.8,113.5 376.5,114.5 376.2,115.4 376.0,116.4 375.8,117.4 375.5,118.4 375.2,119.3 375.0,120.3 374.8,121.3 374.5,122.3 374.2,123.2 374.0,124.2 373.8,125.2 373.5,126.2 373.2,127.2 373.0,128.2 372.8,129.2 372.5,130.2 372.2,131.2 372.0,132.2 371.8,133.2 371.5,134.1 371.2,135.1 371.0,136.1 370.8,137.1 370.5,138.1 370.2,139.1 370.0,140.1 369.8,141.1 369.5,142.1 369.2,143.1 369.0,144.1 368.8,145.1 368.5,146.1 368.2,147.0 368.0,148.0 367.8,149.0 367.5,150.0 367.2,151.0 367.0,151.9 366.8,152.9 366.5,153.9 366.2,154.8 366.0,155.8 365.8,156.8 365.5,157.7 365.2,158.7 365.0,159.6 364.8,160.6 364.5,161.5 364.2,162.4 364.0,163.3 363.8,164.2 363.5,165.1 363.2,166.0 363.0,166.9 362.8,167.8 362.5,168.7 362.2,169.5 362.0,170.4 361.8,171.2 361.5,172.0 361.2,172.8 361.0,173.6 360.5,175.2 360.0,176.7 359.5,178.1 359.0,179.5 358.5,180.9 358.0,182.2 357.5,183.5 357.0,184.8 356.5,186.1 356.0,187.3 355.5,188.4 355.0,189.5 354.5,190.5 354.0,191.6 353.5,192.5 353.0,193.5 352.5,194.4 352.0,195.3 351.5,196.2 351.0,197.1 350.5,198.0 350.0,198.9 349.5,199.8 349.0,200.7 348.5,201.5 348.0,202.3 347.5,203.2 347.0,204.0 346.5,204.8 346.0,205.7 345.5,206.5 345.0,207.3 344.5,208.0 344.0,208.7 343.5,209.4 343.0,210.2 342.5,210.9 342.0,211.6 341.5,212.3 341.0,213.0 340.5,213.7 340.0,214.4 339.5,215.1 339.0,215.8 338.5,216.5 338.0,217.2 337.5,217.9 337.0,218.6 336.5,219.3 336.0,220.0 335.5,220.7 335.0,221.3 334.5,222.0 334.0,222.7 333.5,223.4 333.0,224.0 332.5,224.7 332.0,225.4 331.5,226.0 331.0,226.7 330.5,227.4 330.0,228.0 329.5,228.6 329.0,229.2 328.5,229.7 328.0,230.3 327.5,230.8 327.0,231.4 326.5,231.9 326.0,232.5 325.5,233.0 325.0,233.6 324.5,234.1 324.0,234.7 323.5,235.2 323.0,235.7 322.5,236.3 322.0,236.8 321.5,237.3 321.0,237.9 320.5,238.4 320.0,238.9 319.5,239.4 319.0,239.9 318.5,240.4 318.0,240.9 317.5,241.5 317.0,242.0 316.5,242.5 316.0,242.9 315.5,243.4 315.0,243.9 314.5,244.4 314.0,244.9 313.5,245.4 313.0,245.9 312.5,246.3 312.0,246.8 311.5,247.3 311.0,247.7 310.5,248.2 310.0,248.7 309.5,249.1 309.0,249.6 308.5,250.0 308.0,250.5 307.5,250.9 307.0,251.4 306.5,251.8 306.0,252.2 305.5,252.7 305.0,253.1 304.5,253.5 304.0,253.9 303.5,254.4 303.0,254.8 302.5,255.2 302.0,255.6 301.5,256.0 301.0,256.4 300.5,256.8 300.0,257.2 299.5,257.6 299.0,258.0 298.5,258.4 298.0,258.8 297.5,259.1 297.0,259.5 296.5,259.9 296.0,260.3 295.5,260.6 295.0,261.0 294.5,261.4 294.0,261.7 293.5,262.1 293.0,262.4 292.5,262.8 292.0,263.1 291.5,263.5 291.0,263.8 290.5,264.2 290.0,264.5 289.5,264.9 289.0,265.2 288.5,265.5 288.0,265.9 287.5,266.2 287.0,266.6 286.5,266.9 286.0,267.2 285.5,267.5 285.0,267.9 284.5,268.2 284.0,268.5 283.5,268.8 283.0,269.2 282.5,269.5 282.0,269.8 281.5,270.1 281.0,270.5 280.5,270.8 280.0,271.1 279.5,271.4 279.0,271.7 278.5,272.0 278.0,272.4 277.5,272.7 277.0,273.0 276.5,273.3" fill="rgba(249,63,63,0.50)"/>
<polyline points="276.5,262.8 277.5,262.2 278.5,261.6 279.5,261.0 280.5,260.4 281.5,259.8 282.5,259.2 283.5,258.6 284.5,257.9 285.5,257.3 286.5,256.7 287.5,256.0 288.5,255.4 289.5,254.7 290.5,254.1 291.5,253.4 292.5,252.8 293.5,252.1 294.5,251.4 295.5,250.7 296.5,250.0 297.5,249.2 298.5,248.5 299.5,247.8 300.5,247.0 301.5,246.2 302.5,245.4 303.5,244.6 304.5,243.8 305.5,243.0 306.5,242.1 307.5,241.3 308.5,240.4 309.5,239.6 310.5,238.7 311.5,237.8 312.5,236.8 313.5,235.9 314.5,235.0 315.5,234.0 316.5,233.1 317.5,232.1 318.5,231.1 319.5,230.1 320.5,229.1 321.5,228.1 322.5,227.1 323.5,226.0 324.5,225.0 325.5,223.9 326.5,222.9 327.5,221.8 328.5,220.7 329.5,219.6 330.5,218.5 331.5,217.3 332.5,216.2 333.5,215.1 334.5,213.9 335.5,212.8 336.5,211.6 337.5,210.4 338.5,209.2 339.5,208.0 340.5,206.8 341.5,205.6 342.5,204.4 343.5,203.1 344.5,201.9 345.5,200.7 346.5,199.5 347.5,198.3 348.5,197.0 349.5,195.7 350.5,194.4 351.5,193.0 352.5,191.5 353.0,190.7 353.5,189.9 354.0,189.1 354.5,188.2 355.0,187.2 355.5,186.3 356.0,185.3 356.5,184.2 357.0,183.1 357.5,181.9 358.0,180.7 358.5,179.4 359.0,178.0 359.5,176.7 360.0,175.2 360.5,173.7 361.0,172.1 361.2,171.3 361.5,170.5 361.8,169.7 362.0,168.9 362.2,168.0 362.5,167.2 362.8,166.3 363.0,165.5 363.2,164.6 363.5,163.7 363.8,162.8 364.0,161.9 364.2,160.9 364.5,160.0 364.8,159.1 365.0,158.2 365.2,157.2 365.5,156.3 365.8,155.3 366.0,154.4 366.2,153.4 366.5,152.4 366.8,151.5 367.0,150.5 367.2,149.5 367.5,148.5 367.8,147.6 368.0,146.6 368.2,145.6 368.5,144.6 368.8,143.6 369.0,142.6 369.2,141.7 369.5,140.7 369.8,139.7 370.0,138.7 370.2,137.7 370.5,136.7 370.8,135.7 371.0,134.7 371.2,133.7 371.5,132.7 371.8,131.7 372.0,130.7 372.2,129.8 372.5,128.8 372.8,127.8 373.0,126.8 373.2,125.8 373.5,124.8 373.8,123.8 374.0,122.8 374.2,121.8 374.5,120.9 374.8,119.9 375.0,118.9 375.2,117.9 375.5,117.0 375.8,116.0 376.0,115.0 376.2,114.1 376.5,113.1 376.8,112.1 377.0,111.2 377.2,110.2 377.5,109.3 377.8,108.3 378.0,107.4 378.2,106.5 378.5,105.5 378.8,104.6 379.0,103.7 379.2,102.8 379.5,101.9 379.8,101.0 380.0,100.1 380.2,99.2 380.5,98.3 380.8,97.4 381.0,96.5 381.2,95.6 381.5,94.8 381.8,93.9 382.0,93.1 382.2,92.2 382.5,91.4 382.8,90.5 383.0,89.7 383.2,88.9 383.5,88.1 383.8,87.3 384.2,85.7 384.8,84.1 385.2,82.6 385.8,81.1 386.2,79.7 386.8,78.3 387.2,76.9 387.8,75.5 388.2,74.2 388.8,73.0 389.2,71.7 389.8,70.5 390.2,69.3 390.8,68.2 391.2,67.1 391.8,66.0 392.2,64.9 392.8,63.8 393.2,62.8 393.8,61.8 394.2,60.9 394.8,59.9 395.2,59.0 395.8,58.1 396.2,57.3 396.8,56.5 397.8,54.9 398.8,53.5 399.8,52.2 400.8,51.1 401.8,50.0 402.8,49.1 403.8,48.3 404.8,47.5 405.8,46.8 406.8,46.2 407.8,45.7 408.8,45.2 409.8,44.8 410.8,44.3 411.8,44.0 412.8,43.6 413.8,43.2 414.8,42.9 415.8,42.6 416.8,42.3 417.8,42.0 418.8,41.8 419.8,41.5 420.8,41.3 421.8,41.1 422.8,40.8 423.8,40.6 424.8,40.4 425.8,40.2 426.8,40.1 427.8,39.9 428.8,39.7 429.8,39.6 430.8,39.4 431.8,39.3 432.8,39.1 433.8,39.0 434.8,38.8 435.8,38.7 436.8,38.5 437.8,38.4 438.8,38.3 439.5,38.2" fill="none" stroke="#ff0000" stroke-width="3.4" stroke-linejoin="round"/>
<polygon points="276.5,220.5 277.0,220.1 277.5,219.6 278.0,219.1 278.5,218.6 279.0,218.2 279.5,217.7 280.0,217.2 280.5,216.8 281.0,216.3 281.5,215.8 282.0,215.3 282.5,214.9 283.0,214.4 283.5,213.9 284.0,213.4 284.5,213.0 285.0,212.5 285.5,212.0 286.0,211.5 286.5,211.1 287.0,210.6 287.5,210.1 288.0,209.6 288.5,209.1 289.0,208.7 289.5,208.2 290.0,207.7 290.5,207.2 291.0,206.8 291.5,206.3 292.0,205.8 292.5,205.3 293.0,204.8 293.5,204.4 294.0,203.9 294.5,203.4 295.0,202.9 295.5,202.4 296.0,201.9 296.5,201.5 297.0,201.0 297.5,200.5 298.0,200.0 298.5,199.5 299.0,199.0 299.5,198.5 300.0,198.0 300.5,197.6 301.0,197.1 301.5,196.6 302.0,196.1 302.5,195.6 303.0,195.1 303.5,194.6 304.0,194.1 304.5,193.6 305.0,193.1 305.5,192.6 306.0,192.1 306.5,191.6 307.0,191.1 307.5,190.6 308.0,190.1 308.5,189.6 309.0,189.1 309.5,188.6 310.0,188.0 310.5,187.5 311.0,187.0 311.5,186.5 312.0,186.0 312.5,185.4 313.0,184.9 313.5,184.4 314.0,183.9 314.5,183.3 315.0,182.8 315.5,182.3 316.0,181.7 316.5,181.2 317.0,180.6 317.5,180.1 318.0,179.6 318.5,179.0 319.0,178.5 319.5,177.9 320.0,177.3 320.5,176.8 321.0,176.2 321.5,175.6 322.0,175.1 322.5,174.5 323.0,173.9 323.5,173.3 324.0,172.8 324.5,172.2 325.0,171.6 325.5,171.0 326.0,170.4 326.5,169.8 327.0,169.2 327.5,168.6 328.0,168.0 328.5,167.4 329.0,166.7 329.5,166.1 330.0,165.5 330.5,164.9 331.0,164.2 331.5,163.6 332.0,163.0 332.5,162.3 333.0,161.7 333.5,161.0 334.0,160.4 334.5,159.7 335.0,159.1 335.5,158.4 336.0,157.8 336.5,157.1 337.0,156.4 337.5,155.7 338.0,155.0 338.5,154.3 339.0,153.6 339.5,152.9 340.0,152.2 340.5,151.5 341.0,150.8 341.5,150.1 342.0,149.4 342.5,148.6 343.0,147.9 343.5,147.2 344.0,146.4 344.5,145.7 345.0,144.9 345.5,144.1 346.0,143.4 346.5,142.6 347.0,141.8 347.5,141.1 348.0,140.3 348.5,139.5 349.0,138.7 349.5,137.9 350.0,137.1 350.5,136.3 351.0,135.5 351.5,134.7 352.0,133.9 352.5,133.0 353.0,132.2 353.5,131.4 354.0,130.6 354.5,129.7 355.0,128.9 355.5,128.0 356.0,127.2 356.5,126.4 357.0,125.5 357.5,124.6 358.0,123.8 358.5,122.9 359.0,122.1 359.5,121.2 360.0,120.3 360.5,119.4 361.0,118.5 361.5,117.7 362.0,116.8 362.5,115.9 363.0,115.0 363.5,114.1 364.0,113.2 364.5,112.3 365.0,111.4 365.5,110.5 366.0,109.6 366.5,108.7 367.0,107.8 367.5,106.8 368.0,105.9 368.5,105.0 369.0,104.1 369.5,103.1 370.0,102.2 370.5,101.3 371.0,100.4 371.5,99.5 372.0,98.6 372.5,97.7 373.0,96.7 373.5,95.8 374.0,94.9 374.5,94.0 375.0,93.1 375.5,92.1 376.0,91.2 376.5,90.3 377.0,89.4 377.5,88.4 378.0,87.5 378.5,86.6 379.0,85.7 379.5,84.8 380.0,83.8 380.5,82.9 381.0,82.0 381.5,81.1 382.0,80.2 382.5,79.3 383.0,78.4 383.5,77.5 384.0,76.6 384.5,75.7 385.0,74.9 385.5,74.0 386.0,73.1 386.5,72.3 387.0,71.4 387.5,70.6 388.0,69.7 388.5,68.9 389.0,68.1 389.5,67.3 390.0,66.4 390.5,65.7 391.0,64.9 391.5,64.1 392.0,63.3 392.5,62.5 393.0,61.7 393.5,60.9 394.0,60.1 394.5,59.4 395.0,58.6 395.5,57.9 396.0,57.2 396.5,56.5 397.0,55.8 397.5,55.1 398.0,54.5 398.5,53.8 399.0,53.2 399.5,52.6 400.0,52.0 400.5,51.4 401.0,50.9 401.5,50.4 402.0,49.9 402.5,49.4 403.0,48.9 403.5,48.4 404.0,48.0 404.5,47.6 405.0,47.1 405.5,46.8 406.0,46.4 406.5,46.0 407.0,45.7 407.5,45.3 408.0,45.0 408.5,44.7 409.0,44.4 409.5,44.1 410.0,43.8 410.5,43.5 411.0,43.3 411.5,43.0 412.0,42.8 412.5,42.6 413.0,42.4 413.5,42.2 414.0,42.0 414.5,41.8 415.0,41.6 415.5,41.4 416.0,41.2 416.5,41.1 417.0,40.9 417.5,40.7 418.0,40.6 418.5,40.4 419.0,40.3 419.5,40.2 420.0,40.0 420.5,39.9 421.0,39.8 421.5,39.7 422.0,39.6 422.5,39.4 423.0,39.3 423.5,39.2 424.0,39.1 424.5,39.0 425.0,38.9 425.5,38.8 426.0,38.7 426.5,38.6 427.0,38.5 427.5,38.4 428.0,38.4 428.5,38.3 429.0,38.2 429.5,38.1 430.0,38.0 430.5,38.0 431.0,37.9 431.5,37.8 432.0,37.7 432.5,37.7 433.0,37.6 433.5,37.5 434.0,37.5 434.5,37.4 435.0,37.3 435.5,37.3 436.0,37.2 436.5,37.2 437.0,37.1 437.5,37.0 438.0,37.0 438.5,36.9 439.0,36.8 439.5,36.8 439.5,38.8 439.0,38.8 438.5,38.9 438.0,39.0 437.5,39.0 437.0,39.1 436.5,39.2 436.0,39.2 435.5,39.3 435.0,39.3 434.5,39.4 434.0,39.5 433.5,39.5 433.0,39.6 432.5,39.7 432.0,39.7 431.5,39.8 431.0,39.9 430.5,40.0 430.0,40.0 429.5,40.1 429.0,40.2 428.5,40.3 428.0,40.4 427.5,40.4 427.0,40.5 426.5,40.6 426.0,40.7 425.5,40.8 425.0,40.9 424.5,41.0 424.0,41.1 423.5,41.2 423.0,41.3 422.5,41.4 422.0,41.6 421.5,41.7 421.0,41.8 420.5,41.9 420.0,42.0 419.5,42.2 419.0,42.3 418.5,42.4 418.0,42.6 417.5,42.7 417.0,42.9 416.5,43.1 416.0,43.2 415.5,43.4 415.0,43.6 414.5,43.8 414.0,44.0 413.5,44.2 413.0,44.4 412.5,44.6 412.0,44.8 411.5,45.0 411.0,45.3 410.5,45.5 410.0,45.8 409.5,46.1 409.0,46.4 408.5,46.7 408.0,47.0 407.5,47.3 407.0,47.7 406.5,48.0 406.0,48.4 405.5,48.8 405.0,49.1 404.5,49.6 404.0,50.0 403.5,50.4 403.0,50.9 402.5,51.4 402.0,51.9 401.5,52.4 401.0,52.9 400.5,53.4 400.0,54.0 399.5,54.6 399.0,55.2 398.5,55.8 398.0,56.5 397.5,57.1 397.0,57.8 396.5,58.5 396.0,59.2 395.5,59.9 395.0,60.6 394.5,61.4 394.0,62.1 393.5,62.9 393.0,63.7 392.5,64.5 392.0,65.3 391.5,66.2 391.0,67.0 390.5,67.9 390.0,68.8 389.5,69.7 389.0,70.6 388.5,71.5 388.0,72.5 387.5,73.4 387.0,74.3 386.5,75.3 386.0,76.2 385.5,77.2 385.0,78.1 384.5,79.1 384.0,80.1 383.5,81.1 383.0,82.0 382.5,83.0 382.0,84.0 381.5,85.0 381.0,86.0 380.5,87.0 380.0,88.0 379.5,89.0 379.0,90.0 378.5,91.1 378.0,92.1 377.5,93.1 377.0,94.1 376.5,95.1 376.0,96.1 375.5,97.1 375.0,98.1 374.5,99.2 374.0,100.2 373.5,101.2 373.0,102.2 372.5,103.2 372.0,104.2 371.5,105.2 371.0,106.2 370.5,107.2 370.0,108.2 369.5,109.2 369.0,110.1 368.5,111.1 368.0,112.1 367.5,113.0 367.0,114.0 366.5,114.9 366.0,115.9 365.5,116.8 365.0,117.8 364.5,118.7 364.0,119.7 363.5,120.6 363.0,121.5 362.5,122.5 362.0,123.4 361.5,124.3 361.0,125.2 360.5,126.1 360.0,127.1 359.5,128.0 359.0,128.9 358.5,129.8 358.0,130.7 357.5,131.6 357.0,132.5 356.5,133.4 356.0,134.3 355.5,135.1 355.0,136.0 354.5,136.9 354.0,137.8 353.5,138.6 353.0,139.5 352.5,140.4 352.0,141.2 351.5,142.1 351.0,142.9 350.5,143.8 350.0,144.6 349.5,145.4 349.0,146.3 348.5,147.1 348.0,147.9 347.5,148.7 347.0,149.6 346.5,150.4 346.0,151.2 345.5,152.0 345.0,152.8 344.5,153.6 344.0,154.4 343.5,155.1 343.0,155.9 342.5,156.7 342.0,157.5 341.5,158.2 341.0,159.0 340.5,159.7 340.0,160.5 339.5,161.2 339.0,162.0 338.5,162.7 338.0,163.4 337.5,164.2 337.0,164.9 336.5,165.6 336.0,166.3 335.5,167.0 335.0,167.7 334.5,168.4 334.0,169.1 333.5,169.8 333.0,170.5 332.5,171.1 332.0,171.8 331.5,172.5 331.0,173.2 330.5,173.8 330.0,174.5 329.5,175.1 329.0,175.8 328.5,176.4 328.0,177.0 327.5,177.7 327.0,178.3 326.5,178.9 326.0,179.5 325.5,180.2 325.0,180.8 324.5,181.4 324.0,182.0 323.5,182.6 323.0,183.2 322.5,183.8 322.0,184.4 321.5,185.0 321.0,185.5 320.5,186.1 320.0,186.7 319.5,187.3 319.0,187.9 318.5,188.4 318.0,189.0 317.5,189.6 317.0,190.1 316.5,190.7 316.0,191.3 315.5,191.8 315.0,192.4 314.5,192.9 314.0,193.5 313.5,194.0 313.0,194.6 312.5,195.1 312.0,195.6 311.5,196.2 311.0,196.7 310.5,197.3 310.0,197.8 309.5,198.3 309.0,198.8 308.5,199.4 308.0,199.9 307.5,200.4 307.0,200.9 306.5,201.5 306.0,202.0 305.5,202.5 305.0,203.0 304.5,203.5 304.0,204.1 303.5,204.6 303.0,205.1 302.5,205.6 302.0,206.1 301.5,206.6 301.0,207.1 300.5,207.6 300.0,208.2 299.5,208.7 299.0,209.2 298.5,209.7 298.0,210.2 297.5,210.7 297.0,211.2 296.5,211.7 296.0,212.2 295.5,212.7 295.0,213.2 294.5,213.7 294.0,214.2 293.5,214.7 293.0,215.2 292.5,215.7 292.0,216.2 291.5,216.7 291.0,217.2 290.5,217.7 290.0,218.2 289.5,218.7 289.0,219.2 288.5,219.7 288.0,220.2 287.5,220.7 287.0,221.2 286.5,221.7 286.0,222.2 285.5,222.7 285.0,223.1 284.5,223.6 284.0,224.1 283.5,224.6 283.0,225.1 282.5,225.6 282.0,226.1 281.5,226.6 281.0,227.1 280.5,227.6 280.0,228.1 279.5,228.6 279.0,229.1 278.5,229.6 278.0,230.0 277.5,230.5 277.0,231.0 276.5,231.5" fill="rgba(141,239,65,0.50)"/>
<polyline points="276.5,226.0 277.5,225.1 278.5,224.1 279.5,223.1 280.5,222.2 281.5,221.2 282.5,220.2 283.5,219.3 284.5,218.3 285.5,217.3 286.5,216.4 287.5,215.4 288.5,214.4 289.5,213.4 290.5,212.5 291.5,211.5 292.5,210.5 293.5,209.5 294.5,208.5 295.5,207.6 296.5,206.6 297.5,205.6 298.5,204.6 299.5,203.6 300.5,202.6 301.5,201.6 302.5,200.6 303.5,199.6 304.5,198.6 305.5,197.6 306.5,196.5 307.5,195.5 308.5,194.5 309.5,193.4 310.5,192.4 311.5,191.3 312.5,190.3 313.5,189.2 314.5,188.1 315.5,187.0 316.5,185.9 317.5,184.8 318.5,183.7 319.5,182.6 320.5,181.5 321.5,180.3 322.5,179.1 323.5,178.0 324.5,176.8 325.5,175.6 326.5,174.4 327.5,173.1 328.5,171.9 329.5,170.6 330.5,169.3 331.5,168.1 332.5,166.7 333.5,165.4 334.5,164.1 335.5,162.7 336.5,161.3 337.5,159.9 338.5,158.5 339.5,157.1 340.5,155.6 341.5,154.2 342.5,152.7 343.5,151.1 344.5,149.6 345.5,148.1 346.5,146.5 347.5,144.9 348.0,144.1 348.5,143.3 349.0,142.5 349.5,141.7 350.0,140.9 350.5,140.0 351.0,139.2 351.5,138.4 352.0,137.5 352.5,136.7 353.0,135.9 353.5,135.0 354.0,134.2 354.5,133.3 355.0,132.5 355.5,131.6 356.0,130.7 356.5,129.9 357.0,129.0 357.5,128.1 358.0,127.2 358.5,126.3 359.0,125.5 359.5,124.6 360.0,123.7 360.5,122.8 361.0,121.9 361.5,121.0 362.0,120.1 362.5,119.2 363.0,118.3 363.5,117.3 364.0,116.4 364.5,115.5 365.0,114.6 365.5,113.7 366.0,112.7 366.5,111.8 367.0,110.9 367.5,109.9 368.0,109.0 368.5,108.1 369.0,107.1 369.5,106.2 370.0,105.2 370.5,104.3 371.0,103.3 371.5,102.4 372.0,101.4 372.5,100.4 373.0,99.5 373.5,98.5 374.0,97.5 374.5,96.6 375.0,95.6 375.5,94.6 376.0,93.7 376.5,92.7 377.0,91.7 377.5,90.8 378.0,89.8 378.5,88.8 379.0,87.9 379.5,86.9 380.0,85.9 380.5,85.0 381.0,84.0 381.5,83.1 382.0,82.1 382.5,81.2 383.0,80.2 383.5,79.3 384.0,78.4 384.5,77.4 385.0,76.5 385.5,75.6 386.0,74.7 386.5,73.8 387.0,72.9 387.5,72.0 388.0,71.1 388.5,70.2 389.0,69.3 389.5,68.5 390.0,67.6 390.5,66.8 391.0,66.0 391.5,65.1 392.0,64.3 392.5,63.5 393.5,61.9 394.5,60.4 395.5,58.9 396.5,57.5 397.5,56.1 398.5,54.8 399.5,53.6 400.5,52.4 401.5,51.4 402.5,50.4 403.5,49.4 404.5,48.6 405.5,47.8 406.5,47.0 407.5,46.3 408.5,45.7 409.5,45.1 410.5,44.5 411.5,44.0 412.5,43.6 413.5,43.2 414.5,42.8 415.5,42.4 416.5,42.1 417.5,41.7 418.5,41.4 419.5,41.2 420.5,40.9 421.5,40.7 422.5,40.4 423.5,40.2 424.5,40.0 425.5,39.8 426.5,39.6 427.5,39.4 428.5,39.3 429.5,39.1 430.5,39.0 431.5,38.8 432.5,38.7 433.5,38.5 434.5,38.4 435.5,38.3 436.5,38.2 437.5,38.0 438.5,37.9 439.5,37.8" fill="none" stroke="#80ff00" stroke-width="3.4" stroke-linejoin="round"/>
<polygon points="276.5,194.1 277.0,193.7 277.5,193.2 278.0,192.7 278.5,192.3 279.0,191.8 279.5,191.4 280.0,190.9 280.5,190.5 281.0,190.0 281.5,189.5 282.0,189.1 282.5,188.6 283.0,188.2 283.5,187.7 284.0,187.2 284.5,186.8 285.0,186.3 285.5,185.9 286.0,185.4 286.5,184.9 287.0,184.5 287.5,184.0 288.0,183.6 288.5,183.1 289.0,182.6 289.5,182.2 290.0,181.7 290.5,181.3 291.0,180.8 291.5,180.3 292.0,179.9 292.5,179.4 293.0,179.0 293.5,178.5 294.0,178.0 294.5,177.6 295.0,177.1 295.5,176.6 296.0,176.2 296.5,175.7 297.0,175.3 297.5,174.8 298.0,174.3 298.5,173.9 299.0,173.4 299.5,173.0 300.0,172.5 300.5,172.0 301.0,171.6 301.5,171.1 302.0,170.6 302.5,170.2 303.0,169.7 303.5,169.3 304.0,168.8 304.5,168.3 305.0,167.9 305.5,167.4 306.0,166.9 306.5,166.5 307.0,166.0 307.5,165.5 308.0,165.1 308.5,164.6 309.0,164.1 309.5,163.7 310.0,163.2 310.5,162.7 311.0,162.2 311.5,161.8 312.0,161.3 312.5,160.8 313.0,160.3 313.5,159.9 314.0,159.4 314.5,158.9 315.0,158.4 315.5,157.9 316.0,157.5 316.5,157.0 317.0,156.5 317.5,156.0 318.0,155.5 318.5,155.0 319.0,154.5 319.5,154.0 320.0,153.6 320.5,153.1 321.0,152.6 321.5,152.1 322.0,151.6 322.5,151.1 323.0,150.6 323.5,150.1 324.0,149.5 324.5,149.0 325.0,148.5 325.5,148.0 326.0,147.5 326.5,147.0 327.0,146.5 327.5,145.9 328.0,145.4 328.5,144.9 329.0,144.4 329.5,143.8 330.0,143.3 330.5,142.8 331.0,142.3 331.5,141.8 332.0,141.2 332.5,140.7 333.0,140.2 333.5,139.7 334.0,139.1 334.5,138.6 335.0,138.1 335.5,137.5 336.0,137.0 336.5,136.4 337.0,135.9 337.5,135.3 338.0,134.8 338.5,134.2 339.0,133.7 339.5,133.1 340.0,132.6 340.5,132.0 341.0,131.4 341.5,130.8 342.0,130.3 342.5,129.7 343.0,129.1 343.5,128.5 344.0,127.9 344.5,127.3 345.0,126.8 345.5,126.2 346.0,125.6 346.5,125.0 347.0,124.4 347.5,123.7 348.0,123.1 348.5,122.5 349.0,121.9 349.5,121.3 350.0,120.7 350.5,120.0 351.0,119.4 351.5,118.8 352.0,118.2 352.5,117.5 353.0,116.9 353.5,116.3 354.0,115.6 354.5,115.0 355.0,114.3 355.5,113.7 356.0,113.0 356.5,112.4 357.0,111.7 357.5,111.0 358.0,110.4 358.5,109.7 359.0,109.1 359.5,108.4 360.0,107.7 360.5,107.0 361.0,106.4 361.5,105.7 362.0,105.0 362.5,104.3 363.0,103.6 363.5,102.9 364.0,102.3 364.5,101.6 365.0,100.9 365.5,100.2 366.0,99.5 366.5,98.8 367.0,98.1 367.5,97.4 368.0,96.6 368.5,95.9 369.0,95.2 369.5,94.5 370.0,93.8 370.5,93.1 371.0,92.4 371.5,91.7 372.0,91.0 372.5,90.3 373.0,89.5 373.5,88.8 374.0,88.1 374.5,87.4 375.0,86.7 375.5,86.0 376.0,85.3 376.5,84.6 377.0,83.9 377.5,83.1 378.0,82.4 378.5,81.7 379.0,81.0 379.5,80.3 380.0,79.6 380.5,78.9 381.0,78.2 381.5,77.5 382.0,76.8 382.5,76.1 383.0,75.4 383.5,74.7 384.0,74.1 384.5,73.4 385.0,72.7 385.5,72.0 386.0,71.3 386.5,70.7 387.0,70.0 387.5,69.4 388.0,68.7 388.5,68.1 389.0,67.4 389.5,66.8 390.0,66.1 390.5,65.5 391.0,64.9 391.5,64.3 392.0,63.7 392.5,63.0 393.0,62.3 393.5,61.7 394.0,61.0 394.5,60.4 395.0,59.8 395.5,59.2 396.0,58.6 396.5,58.0 397.0,57.4 397.5,56.8 398.0,56.2 398.5,55.7 399.0,55.1 399.5,54.6 400.0,54.1 400.5,53.6 401.0,53.1 401.5,52.7 402.0,52.2 402.5,51.8 403.0,51.3 403.5,50.9 404.0,50.5 404.5,50.1 405.0,49.8 405.5,49.4 406.0,49.0 406.5,48.7 407.0,48.4 407.5,48.0 408.0,47.7 408.5,47.4 409.0,47.1 409.5,46.9 410.0,46.6 410.5,46.3 411.0,46.1 411.5,45.8 412.0,45.6 412.5,45.4 413.0,45.1 413.5,44.9 414.0,44.7 414.5,44.5 415.0,44.3 415.5,44.1 416.0,43.9 416.5,43.8 417.0,43.6 417.5,43.4 418.0,43.3 418.5,43.1 419.0,42.9 419.5,42.8 420.0,42.6 420.5,42.5 421.0,42.4 421.5,42.2 422.0,42.1 422.5,41.9 423.0,41.8 423.5,41.7 424.0,41.6 424.5,41.4 425.0,41.3 425.5,41.2 426.0,41.1 426.5,41.0 427.0,40.8 427.5,40.7 428.0,40.6 428.5,40.5 429.0,40.4 429.5,40.3 430.0,40.2 430.5,40.1 431.0,40.0 431.5,39.9 432.0,39.8 432.5,39.7 433.0,39.6 433.5,39.5 434.0,39.4 434.5,39.3 435.0,39.2 435.5,39.1 436.0,39.0 436.5,39.0 437.0,38.9 437.5,38.8 438.0,38.7 438.5,38.6 439.0,38.5 439.5,38.4 439.5,40.4 439.0,40.5 438.5,40.6 438.0,40.7 437.5,40.8 437.0,40.9 436.5,41.0 436.0,41.0 435.5,41.1 435.0,41.2 434.5,41.3 434.0,41.4 433.5,41.5 433.0,41.6 432.5,41.7 432.0,41.8 431.5,41.9 431.0,42.0 430.5,42.1 430.0,42.2 429.5,42.3 429.0,42.4 428.5,42.5 428.0,42.6 427.5,42.7 427.0,42.8 426.5,43.0 426.0,43.1 425.5,43.2 425.0,43.3 424.5,43.4 424.0,43.6 423.5,43.7 423.0,43.8 422.5,43.9 422.0,44.1 421.5,44.2 421.0,44.4 420.5,44.5 420.0,44.6 419.5,44.8 419.0,44.9 418.5,45.1 418.0,45.3 417.5,45.4 417.0,45.6 416.5,45.8 416.0,45.9 415.5,46.1 415.0,46.3 414.5,46.5 414.0,46.7 413.5,46.9 413.0,47.1 412.5,47.4 412.0,47.6 411.5,47.8 411.0,48.1 410.5,48.3 410.0,48.6 409.5,48.9 409.0,49.1 408.5,49.4 408.0,49.7 407.5,50.0 407.0,50.4 406.5,50.7 406.0,51.0 405.5,51.4 405.0,51.8 404.5,52.1 404.0,52.5 403.5,52.9 403.0,53.3 402.5,53.8 402.0,54.2 401.5,54.7 401.0,55.1 400.5,55.6 400.0,56.1 399.5,56.6 399.0,57.1 398.5,57.7 398.0,58.2 397.5,58.8 397.0,59.4 396.5,60.0 396.0,60.6 395.5,61.2 395.0,61.8 394.5,62.4 394.0,63.0 393.5,63.7 393.0,64.3 392.5,65.0 392.0,65.7 391.5,66.4 391.0,67.1 390.5,67.8 390.0,68.6 389.5,69.3 389.0,70.1 388.5,70.9 388.0,71.6 387.5,72.4 387.0,73.2 386.5,73.9 386.0,74.7 385.5,75.5 385.0,76.3 384.5,77.1 384.0,77.9 383.5,78.7 383.0,79.5 382.5,80.3 382.0,81.1 381.5,81.9 381.0,82.7 380.5,83.5 380.0,84.3 379.5,85.2 379.0,86.0 378.5,86.8 378.0,87.6 377.5,88.4 377.0,89.3 376.5,90.1 376.0,90.9 375.5,91.7 375.0,92.6 374.5,93.4 374.0,94.2 373.5,95.0 373.0,95.9 372.5,96.7 372.0,97.5 371.5,98.3 371.0,99.2 370.5,100.0 370.0,100.8 369.5,101.6 369.0,102.4 368.5,103.2 368.0,104.0 367.5,104.8 367.0,105.6 366.5,106.4 366.0,107.2 365.5,108.0 365.0,108.7 364.5,109.5 364.0,110.3 363.5,111.1 363.0,111.9 362.5,112.6 362.0,113.4 361.5,114.2 361.0,114.9 360.5,115.7 360.0,116.5 359.5,117.2 359.0,118.0 358.5,118.7 358.0,119.5 357.5,120.2 357.0,121.0 356.5,121.7 356.0,122.5 355.5,123.2 355.0,123.9 354.5,124.7 354.0,125.4 353.5,126.1 353.0,126.9 352.5,127.6 352.0,128.3 351.5,129.0 351.0,129.7 350.5,130.5 350.0,131.2 349.5,131.9 349.0,132.6 348.5,133.3 348.0,134.0 347.5,134.7 347.0,135.4 346.5,136.1 346.0,136.8 345.5,137.4 345.0,138.1 344.5,138.8 344.0,139.5 343.5,140.2 343.0,140.8 342.5,141.5 342.0,142.2 341.5,142.8 341.0,143.5 340.5,144.1 340.0,144.8 339.5,145.5 339.0,146.1 338.5,146.7 338.0,147.4 337.5,148.0 337.0,148.7 336.5,149.3 336.0,149.9 335.5,150.6 335.0,151.2 334.5,151.8 334.0,152.4 333.5,153.0 333.0,153.7 332.5,154.3 332.0,154.9 331.5,155.5 331.0,156.1 330.5,156.7 330.0,157.3 329.5,157.9 329.0,158.5 328.5,159.0 328.0,159.6 327.5,160.2 327.0,160.7 326.5,161.3 326.0,161.9 325.5,162.4 325.0,163.0 324.5,163.5 324.0,164.1 323.5,164.7 323.0,165.2 322.5,165.8 322.0,166.3 321.5,166.9 321.0,167.4 320.5,167.9 320.0,168.5 319.5,169.0 319.0,169.6 318.5,170.1 318.0,170.6 317.5,171.2 317.0,171.7 316.5,172.2 316.0,172.8 315.5,173.3 315.0,173.8 314.5,174.3 314.0,174.9 313.5,175.4 313.0,175.9 312.5,176.4 312.0,177.0 311.5,177.5 311.0,178.0 310.5,178.5 310.0,179.0 309.5,179.6 309.0,180.1 308.5,180.6 308.0,181.1 307.5,181.6 307.0,182.1 306.5,182.6 306.0,183.2 305.5,183.7 305.0,184.2 304.5,184.7 304.0,185.2 303.5,185.7 303.0,186.2 302.5,186.7 302.0,187.2 301.5,187.7 301.0,188.3 300.5,188.8 300.0,189.3 299.5,189.8 299.0,190.3 298.5,190.8 298.0,191.3 297.5,191.8 297.0,192.3 296.5,192.8 296.0,193.3 295.5,193.8 295.0,194.3 294.5,194.9 294.0,195.4 293.5,195.9 293.0,196.4 292.5,196.9 292.0,197.4 291.5,197.9 291.0,198.4 290.5,198.9 290.0,199.4 289.5,199.9 289.0,200.4 288.5,200.9 288.0,201.4 287.5,201.9 287.0,202.5 286.5,203.0 286.0,203.5 285.5,204.0 285.0,204.5 284.5,205.0 284.0,205.5 283.5,206.0 283.0,206.5 282.5,207.0 282.0,207.5 281.5,208.0 281.0,208.5 280.5,209.0 280.0,209.5 279.5,210.0 279.0,210.6 278.5,211.1 278.0,211.6 277.5,212.1 277.0,212.6 276.5,213.1" fill="rgba(77,233,247,0.50)"/>
<polyline points="276.5,203.6 277.5,202.6 278.5,201.7 279.5,200.7 280.5,199.7 281.5,198.8 282.5,197.8 283.5,196.8 284.5,195.9 285.5,194.9 286.5,193.9 287.5,193.0 288.5,192.0 289.5,191.0 290.5,190.1 291.5,189.1 292.5,188.1 293.5,187.2 294.5,186.2 295.5,185.2 296.5,184.3 297.5,183.3 298.5,182.3 299.5,181.4 300.5,180.4 301.5,179.4 302.5,178.5 303.5,177.5 304.5,176.5 305.5,175.5 306.5,174.6 307.5,173.6 308.5,172.6 309.5,171.6 310.5,170.6 311.5,169.6 312.5,168.6 313.5,167.6 314.5,166.6 315.5,165.6 316.5,164.6 317.5,163.6 318.5,162.6 319.5,161.5 320.5,160.5 321.5,159.5 322.5,158.4 323.5,157.4 324.5,156.3 325.5,155.2 326.5,154.1 327.5,153.1 328.5,152.0 329.5,150.9 330.5,149.7 331.5,148.6 332.5,147.5 333.5,146.4 334.5,145.2 335.5,144.0 336.5,142.9 337.5,141.7 338.5,140.5 339.5,139.3 340.5,138.1 341.5,136.8 342.5,135.6 343.5,134.3 344.5,133.1 345.5,131.8 346.5,130.5 347.5,129.2 348.5,127.9 349.5,126.6 350.5,125.3 351.5,123.9 352.5,122.6 353.5,121.2 354.5,119.8 355.5,118.4 356.5,117.0 357.5,115.6 358.5,114.2 359.5,112.8 360.5,111.4 361.5,109.9 362.5,108.5 363.5,107.0 364.5,105.5 365.5,104.1 366.5,102.6 367.5,101.1 368.5,99.6 369.5,98.1 370.5,96.5 371.5,95.0 372.5,93.5 373.5,91.9 374.5,90.4 375.5,88.9 376.5,87.3 377.5,85.8 378.5,84.3 379.5,82.7 380.5,81.2 381.5,79.7 382.5,78.2 383.5,76.7 384.5,75.2 385.5,73.8 386.5,72.3 387.5,70.9 388.5,69.5 389.5,68.1 390.5,66.7 391.5,65.3 392.5,64.0 393.5,62.7 394.5,61.4 395.5,60.2 396.5,59.0 397.5,57.8 398.5,56.7 399.5,55.6 400.5,54.6 401.5,53.7 402.5,52.8 403.5,51.9 404.5,51.1 405.5,50.4 406.5,49.7 407.5,49.0 408.5,48.4 409.5,47.9 410.5,47.3 411.5,46.8 412.5,46.4 413.5,45.9 414.5,45.5 415.5,45.1 416.5,44.8 417.5,44.4 418.5,44.1 419.5,43.8 420.5,43.5 421.5,43.2 422.5,42.9 423.5,42.7 424.5,42.4 425.5,42.2 426.5,42.0 427.5,41.7 428.5,41.5 429.5,41.3 430.5,41.1 431.5,40.9 432.5,40.7 433.5,40.5 434.5,40.3 435.5,40.1 436.5,40.0 437.5,39.8 438.5,39.6 439.5,39.4" fill="none" stroke="#00f0ff" stroke-width="3.4" stroke-linejoin="round"/>
<polygon points="276.5,159.6 277.0,159.3 277.5,159.0 278.0,158.7 278.5,158.4 279.0,158.1 279.5,157.8 280.0,157.5 280.5,157.2 281.0,156.9 281.5,156.5 282.0,156.2 282.5,155.9 283.0,155.6 283.5,155.3 284.0,155.0 284.5,154.7 285.0,154.4 285.5,154.0 286.0,153.7 286.5,153.4 287.0,153.1 287.5,152.8 288.0,152.5 288.5,152.2 289.0,151.8 289.5,151.5 290.0,151.2 290.5,150.9 291.0,150.6 291.5,150.2 292.0,149.9 292.5,149.6 293.0,149.3 293.5,149.0 294.0,148.6 294.5,148.3 295.0,148.0 295.5,147.7 296.0,147.3 296.5,147.0 297.0,146.7 297.5,146.4 298.0,146.0 298.5,145.7 299.0,145.4 299.5,145.0 300.0,144.7 300.5,144.4 301.0,144.0 301.5,143.7 302.0,143.4 302.5,143.0 303.0,142.7 303.5,142.4 304.0,142.0 304.5,141.7 305.0,141.3 305.5,141.0 306.0,140.6 306.5,140.3 307.0,139.9 307.5,139.6 308.0,139.2 308.5,138.9 309.0,138.5 309.5,138.2 310.0,137.8 310.5,137.5 311.0,137.1 311.5,136.7 312.0,136.4 312.5,136.0 313.0,135.7 313.5,135.3 314.0,134.9 314.5,134.5 315.0,134.2 315.5,133.8 316.0,133.4 316.5,133.0 317.0,132.7 317.5,132.3 318.0,131.9 318.5,131.5 319.0,131.1 319.5,130.7 320.0,130.3 320.5,129.9 321.0,129.5 321.5,129.1 322.0,128.7 322.5,128.3 323.0,127.9 323.5,127.5 324.0,127.1 324.5,126.7 325.0,126.3 325.5,125.9 326.0,125.5 326.5,125.0 327.0,124.6 327.5,124.2 328.0,123.8 328.5,123.3 329.0,122.9 329.5,122.5 330.0,122.0 330.5,121.6 331.0,121.2 331.5,120.7 332.0,120.3 332.5,119.9 333.0,119.4 333.5,119.0 334.0,118.5 334.5,118.1 335.0,117.6 335.5,117.2 336.0,116.7 336.5,116.3 337.0,115.8 337.5,115.4 338.0,114.9 338.5,114.4 339.0,113.9 339.5,113.5 340.0,113.0 340.5,112.5 341.0,112.0 341.5,111.5 342.0,111.0 342.5,110.5 343.0,110.0 343.5,109.5 344.0,109.0 344.5,108.5 345.0,108.0 345.5,107.5 346.0,107.0 346.5,106.5 347.0,106.0 347.5,105.5 348.0,104.9 348.5,104.4 349.0,103.9 349.5,103.4 350.0,102.8 350.5,102.3 351.0,101.8 351.5,101.2 352.0,100.7 352.5,100.2 353.0,99.6 353.5,99.1 354.0,98.5 354.5,98.0 355.0,97.4 355.5,96.9 356.0,96.4 356.5,95.8 357.0,95.3 357.5,94.7 358.0,94.2 358.5,93.6 359.0,93.1 359.5,92.5 360.0,92.0 360.5,91.4 361.0,90.9 361.5,90.3 362.0,89.8 362.5,89.3 363.0,88.7 363.5,88.2 364.0,87.6 364.5,87.1 365.0,86.5 365.5,86.0 366.0,85.5 366.5,84.9 367.0,84.4 367.5,83.9 368.0,83.3 368.5,82.8 369.0,82.3 369.5,81.7 370.0,81.2 370.5,80.7 371.0,80.2 371.5,79.7 372.0,79.2 372.5,78.7 373.0,78.2 373.5,77.8 374.0,77.3 374.5,76.8 375.0,76.3 375.5,75.8 376.0,75.4 376.5,74.9 377.0,74.4 377.5,74.0 378.0,73.5 378.5,73.1 379.0,72.6 379.5,72.2 380.0,71.7 380.5,71.3 381.0,70.9 381.5,70.4 382.0,70.0 382.5,69.6 383.0,69.2 383.5,68.7 384.0,68.3 384.5,67.9 385.0,67.5 385.5,67.1 386.0,66.7 386.5,66.3 387.0,65.9 387.5,65.6 388.0,65.2 388.5,64.8 389.0,64.4 389.5,64.1 390.0,63.7 390.5,63.3 391.0,63.0 391.5,62.6 392.0,62.3 392.5,61.9 393.0,61.5 393.5,61.1 394.0,60.7 394.5,60.3 395.0,59.9 395.5,59.5 396.0,59.2 396.5,58.8 397.0,58.4 397.5,58.1 398.0,57.7 398.5,57.4 399.0,57.0 399.5,56.7 400.0,56.3 400.5,56.0 401.0,55.7 401.5,55.3 402.0,55.0 402.5,54.7 403.0,54.4 403.5,54.1 404.0,53.8 404.5,53.5 405.0,53.2 405.5,52.9 406.0,52.6 406.5,52.3 407.0,52.0 407.5,51.7 408.0,51.5 408.5,51.2 409.0,50.9 409.5,50.7 410.0,50.4 410.5,50.1 411.0,49.9 411.5,49.6 412.0,49.4 412.5,49.2 413.0,48.9 413.5,48.7 414.0,48.5 414.5,48.2 415.0,48.0 415.5,47.8 416.0,47.6 416.5,47.4 417.0,47.2 417.5,46.9 418.0,46.7 418.5,46.5 419.0,46.3 419.5,46.1 420.0,46.0 420.5,45.8 421.0,45.6 421.5,45.4 422.0,45.2 422.5,45.0 423.0,44.8 423.5,44.7 424.0,44.5 424.5,44.3 425.0,44.2 425.5,44.0 426.0,43.8 426.5,43.7 427.0,43.5 427.5,43.3 428.0,43.2 428.5,43.0 429.0,42.9 429.5,42.7 430.0,42.6 430.5,42.4 431.0,42.3 431.5,42.1 432.0,42.0 432.5,41.8 433.0,41.7 433.5,41.5 434.0,41.4 434.5,41.3 435.0,41.1 435.5,41.0 436.0,40.8 436.5,40.7 437.0,40.6 437.5,40.4 438.0,40.3 438.5,40.1 439.0,40.0 439.5,39.9 439.5,42.3 439.0,42.4 438.5,42.5 438.0,42.7 437.5,42.8 437.0,43.0 436.5,43.1 436.0,43.2 435.5,43.4 435.0,43.5 434.5,43.7 434.0,43.8 433.5,43.9 433.0,44.1 432.5,44.2 432.0,44.4 431.5,44.5 431.0,44.7 430.5,44.8 430.0,45.0 429.5,45.1 429.0,45.3 428.5,45.4 428.0,45.6 427.5,45.7 427.0,45.9 426.5,46.1 426.0,46.2 425.5,46.4 425.0,46.6 424.5,46.7 424.0,46.9 423.5,47.1 423.0,47.2 422.5,47.4 422.0,47.6 421.5,47.8 421.0,48.0 420.5,48.2 420.0,48.4 419.5,48.5 419.0,48.7 418.5,48.9 418.0,49.1 417.5,49.3 417.0,49.6 416.5,49.8 416.0,50.0 415.5,50.2 415.0,50.4 414.5,50.6 414.0,50.9 413.5,51.1 413.0,51.3 412.5,51.6 412.0,51.8 411.5,52.0 411.0,52.3 410.5,52.5 410.0,52.8 409.5,53.1 409.0,53.3 408.5,53.6 408.0,53.9 407.5,54.1 407.0,54.4 406.5,54.7 406.0,55.0 405.5,55.3 405.0,55.6 404.5,55.9 404.0,56.2 403.5,56.5 403.0,56.8 402.5,57.1 402.0,57.4 401.5,57.7 401.0,58.1 400.5,58.4 400.0,58.7 399.5,59.1 399.0,59.4 398.5,59.8 398.0,60.1 397.5,60.5 397.0,60.8 396.5,61.2 396.0,61.6 395.5,61.9 395.0,62.3 394.5,62.7 394.0,63.1 393.5,63.5 393.0,63.9 392.5,64.3 392.0,64.7 391.5,65.1 391.0,65.6 390.5,66.0 390.0,66.5 389.5,67.0 389.0,67.5 388.5,67.9 388.0,68.4 387.5,68.9 387.0,69.4 386.5,69.9 386.0,70.4 385.5,70.9 385.0,71.4 384.5,71.9 384.0,72.4 383.5,72.9 383.0,73.4 382.5,74.0 382.0,74.5 381.5,75.0 381.0,75.6 380.5,76.1 380.0,76.6 379.5,77.2 379.0,77.7 378.5,78.3 378.0,78.8 377.5,79.4 377.0,80.0 376.5,80.5 376.0,81.1 375.5,81.7 375.0,82.3 374.5,82.8 374.0,83.4 373.5,84.0 373.0,84.6 372.5,85.2 372.0,85.8 371.5,86.4 371.0,87.0 370.5,87.6 370.0,88.2 369.5,88.8 369.0,89.4 368.5,90.0 368.0,90.6 367.5,91.2 367.0,91.8 366.5,92.4 366.0,93.0 365.5,93.6 365.0,94.2 364.5,94.8 364.0,95.4 363.5,96.0 363.0,96.6 362.5,97.2 362.0,97.8 361.5,98.4 361.0,99.0 360.5,99.6 360.0,100.2 359.5,100.8 359.0,101.5 358.5,102.1 358.0,102.7 357.5,103.3 357.0,103.9 356.5,104.5 356.0,105.1 355.5,105.7 355.0,106.3 354.5,106.9 354.0,107.5 353.5,108.1 353.0,108.7 352.5,109.3 352.0,109.9 351.5,110.5 351.0,111.1 350.5,111.7 350.0,112.3 349.5,112.9 349.0,113.5 348.5,114.1 348.0,114.7 347.5,115.3 347.0,115.8 346.5,116.4 346.0,117.0 345.5,117.6 345.0,118.2 344.5,118.7 344.0,119.3 343.5,119.9 343.0,120.4 342.5,121.0 342.0,121.5 341.5,122.1 341.0,122.6 340.5,123.2 340.0,123.7 339.5,124.3 339.0,124.8 338.5,125.4 338.0,125.9 337.5,126.4 337.0,126.9 336.5,127.5 336.0,128.0 335.5,128.5 335.0,129.0 334.5,129.5 334.0,130.0 333.5,130.5 333.0,131.0 332.5,131.6 332.0,132.0 331.5,132.5 331.0,133.0 330.5,133.5 330.0,134.0 329.5,134.5 329.0,134.9 328.5,135.4 328.0,135.9 327.5,136.3 327.0,136.8 326.5,137.2 326.0,137.7 325.5,138.1 325.0,138.6 324.5,139.0 324.0,139.5 323.5,139.9 323.0,140.3 322.5,140.8 322.0,141.2 321.5,141.6 321.0,142.0 320.5,142.5 320.0,142.9 319.5,143.3 319.0,143.7 318.5,144.1 318.0,144.6 317.5,145.0 317.0,145.4 316.5,145.8 316.0,146.2 315.5,146.6 315.0,147.0 314.5,147.4 314.0,147.8 313.5,148.2 313.0,148.6 312.5,149.0 312.0,149.4 311.5,149.8 311.0,150.2 310.5,150.6 310.0,150.9 309.5,151.3 309.0,151.7 308.5,152.1 308.0,152.5 307.5,152.8 307.0,153.2 306.5,153.6 306.0,154.0 305.5,154.3 305.0,154.7 304.5,155.1 304.0,155.5 303.5,155.8 303.0,156.2 302.5,156.6 302.0,156.9 301.5,157.3 301.0,157.7 300.5,158.0 300.0,158.4 299.5,158.7 299.0,159.1 298.5,159.5 298.0,159.8 297.5,160.2 297.0,160.5 296.5,160.9 296.0,161.2 295.5,161.6 295.0,161.9 294.5,162.3 294.0,162.6 293.5,163.0 293.0,163.3 292.5,163.7 292.0,164.0 291.5,164.4 291.0,164.7 290.5,165.1 290.0,165.4 289.5,165.8 289.0,166.1 288.5,166.5 288.0,166.8 287.5,167.1 287.0,167.5 286.5,167.8 286.0,168.2 285.5,168.5 285.0,168.9 284.5,169.2 284.0,169.5 283.5,169.9 283.0,170.2 282.5,170.6 282.0,170.9 281.5,171.2 281.0,171.6 280.5,171.9 280.0,172.3 279.5,172.6 279.0,172.9 278.5,173.3 278.0,173.6 277.5,173.9 277.0,174.3 276.5,174.6" fill="rgba(145,65,233,0.50)"/>
<polyline points="276.5,167.1 277.5,166.5 278.5,165.8 279.5,165.2 280.5,164.5 281.5,163.9 282.5,163.2 283.5,162.6 284.5,161.9 285.5,161.3 286.5,160.6 287.5,160.0 288.5,159.3 289.5,158.6 290.5,158.0 291.5,157.3 292.5,156.6 293.5,156.0 294.5,155.3 295.5,154.6 296.5,154.0 297.5,153.3 298.5,152.6 299.5,151.9 300.5,151.2 301.5,150.5 302.5,149.8 303.5,149.1 304.5,148.4 305.5,147.7 306.5,146.9 307.5,146.2 308.5,145.5 309.5,144.8 310.5,144.0 311.5,143.3 312.5,142.5 313.5,141.7 314.5,141.0 315.5,140.2 316.5,139.4 317.5,138.6 318.5,137.8 319.5,137.0 320.5,136.2 321.5,135.4 322.5,134.5 323.5,133.7 324.5,132.9 325.5,132.0 326.5,131.1 327.5,130.3 328.5,129.4 329.5,128.5 330.5,127.6 331.5,126.6 332.5,125.7 333.5,124.8 334.5,123.8 335.5,122.8 336.5,121.9 337.5,120.9 338.5,119.9 339.5,118.9 340.5,117.8 341.5,116.8 342.5,115.8 343.5,114.7 344.5,113.6 345.5,112.5 346.5,111.5 347.5,110.4 348.5,109.3 349.5,108.1 350.5,107.0 351.5,105.9 352.5,104.7 353.5,103.6 354.5,102.5 355.5,101.3 356.5,100.2 357.5,99.0 358.5,97.8 359.5,96.7 360.5,95.5 361.5,94.4 362.5,93.2 363.5,92.1 364.5,90.9 365.5,89.8 366.5,88.6 367.5,87.5 368.5,86.4 369.5,85.3 370.5,84.2 371.5,83.1 372.5,82.0 373.5,80.9 374.5,79.8 375.5,78.8 376.5,77.7 377.5,76.7 378.5,75.7 379.5,74.7 380.5,73.7 381.5,72.7 382.5,71.8 383.5,70.8 384.5,69.9 385.5,69.0 386.5,68.1 387.5,67.2 388.5,66.4 389.5,65.5 390.5,64.7 391.5,63.9 392.5,63.1 393.5,62.3 394.5,61.5 395.5,60.7 396.5,60.0 397.5,59.3 398.5,58.6 399.5,57.9 400.5,57.2 401.5,56.5 402.5,55.9 403.5,55.3 404.5,54.7 405.5,54.1 406.5,53.5 407.5,52.9 408.5,52.4 409.5,51.9 410.5,51.3 411.5,50.8 412.5,50.4 413.5,49.9 414.5,49.4 415.5,49.0 416.5,48.6 417.5,48.1 418.5,47.7 419.5,47.3 420.5,47.0 421.5,46.6 422.5,46.2 423.5,45.9 424.5,45.5 425.5,45.2 426.5,44.9 427.5,44.5 428.5,44.2 429.5,43.9 430.5,43.6 431.5,43.3 432.5,43.0 433.5,42.7 434.5,42.5 435.5,42.2 436.5,41.9 437.5,41.6 438.5,41.3 439.5,41.1" fill="none" stroke="#7800f0" stroke-width="3.4" stroke-linejoin="round"/>
<polygon points="523.5,242.5 524.5,242.2 525.5,241.9 526.5,241.5 527.5,241.2 528.5,240.8 529.5,240.4 530.5,240.0 531.5,239.6 532.5,239.1 533.5,238.7 534.5,238.2 535.5,237.7 536.5,237.2 537.5,236.7 538.5,236.1 539.5,235.4 540.5,234.7 541.5,234.0 542.5,233.2 543.5,232.4 544.5,231.5 545.5,230.7 546.5,229.8 547.5,229.0 548.5,228.1 549.5,227.3 550.5,226.5 551.5,225.8 552.5,225.1 553.5,224.5 554.5,223.9 555.5,223.4 556.5,223.0 557.5,222.6 558.5,222.3 559.5,222.0 560.5,221.7 561.5,221.5 562.5,221.2 563.5,221.0 564.5,220.8 565.5,220.5 566.5,220.3 567.5,220.1 568.5,219.9 569.5,219.6 570.5,219.4 571.5,219.2 572.5,219.0 573.5,218.8 574.5,218.6 575.5,218.5 576.5,218.3 577.5,218.1 578.5,218.0 579.5,217.8 580.5,217.5 581.5,217.3 582.5,217.0 583.5,216.6 584.5,216.2 585.5,215.8 586.5,215.1 587.5,213.5 588.0,212.4 588.5,211.2 589.0,209.8 589.5,208.4 589.8,207.7 590.0,207.0 590.2,206.3 590.5,205.5 590.8,204.6 591.0,203.7 591.2,202.8 591.5,201.8 591.8,200.7 592.0,199.7 592.2,198.6 592.5,197.4 592.8,196.2 593.0,195.0 593.2,193.7 593.5,192.4 593.8,191.1 594.0,189.7 594.2,188.3 594.5,186.9 594.8,185.5 595.0,184.0 595.2,182.5 595.4,181.7 595.5,180.8 595.6,180.0 595.8,179.1 595.9,178.2 596.0,177.3 596.1,176.4 596.2,175.5 596.4,174.5 596.5,173.5 596.6,172.5 596.8,171.5 596.9,170.5 597.0,169.4 597.1,168.4 597.2,167.3 597.4,166.3 597.5,165.2 597.6,164.1 597.8,163.0 597.9,161.9 598.0,160.8 598.1,159.7 598.2,158.6 598.4,157.5 598.5,156.4 598.6,155.3 598.8,154.2 598.9,153.1 599.0,152.0 599.1,150.9 599.2,149.8 599.4,148.7 599.5,147.5 599.6,146.4 599.8,145.3 599.9,144.1 600.0,143.0 600.1,141.8 600.2,140.7 600.4,139.5 600.5,138.3 600.6,137.1 600.8,135.9 600.9,134.7 601.0,133.5 601.1,132.3 601.2,131.1 601.4,129.8 601.5,128.6 601.6,127.4 601.8,126.1 601.9,124.9 602.0,123.6 602.1,122.3 602.2,121.1 602.4,119.8 602.5,118.5 602.6,117.2 602.8,115.9 602.9,114.6 603.0,113.3 603.1,112.0 603.2,110.7 603.4,109.3 603.5,108.0 603.6,106.6 603.8,105.2 603.9,103.8 604.0,102.3 604.1,100.8 604.2,99.3 604.4,97.8 604.5,96.3 604.6,94.8 604.8,93.3 604.9,91.8 605.0,90.3 605.1,88.9 605.2,87.6 605.4,86.3 605.5,85.0 605.6,83.8 605.8,82.6 605.9,81.4 606.0,80.2 606.1,79.0 606.2,77.8 606.4,76.6 606.5,75.5 606.6,74.4 606.8,73.2 606.9,72.1 607.0,71.1 607.1,70.0 607.2,69.0 607.4,67.9 607.5,66.9 607.6,66.0 607.8,65.0 607.9,64.1 608.0,63.2 608.1,62.4 608.2,61.6 608.5,60.0 608.8,58.5 609.0,57.1 609.2,55.7 609.5,54.3 609.8,53.0 610.0,51.7 610.2,50.4 610.5,49.2 610.8,48.1 611.0,47.0 611.2,46.0 611.5,45.0 611.8,44.2 612.0,43.4 612.2,42.6 612.5,42.0 612.8,41.4 613.0,40.8 613.2,40.2 613.5,39.6 613.8,39.1 614.0,38.5 614.2,38.0 614.5,37.5 614.8,37.0 615.0,36.5 615.2,36.0 615.5,35.6 615.8,35.2 616.0,34.9 616.2,34.6 616.5,34.3 616.8,34.1 617.0,33.9 617.2,33.7 617.5,33.6 617.8,33.6 618.0,33.6 618.2,33.7 618.5,33.8 618.8,33.9 619.0,34.0 619.2,34.2 619.5,34.4 619.8,34.7 620.2,35.3 620.8,36.0 621.2,36.7 621.8,37.6 622.2,38.5 622.5,39.3 622.8,40.2 623.0,41.2 623.2,42.4 623.5,43.7 623.8,45.2 624.0,46.7 624.1,47.6 624.2,48.4 624.4,49.3 624.5,50.1 624.6,51.0 624.8,51.9 624.9,52.9 625.0,53.8 625.1,54.7 625.2,55.7 625.4,56.7 625.5,57.6 625.6,58.6 625.8,59.6 625.9,60.6 626.0,61.8 626.1,63.2 626.2,64.6 626.4,66.1 626.5,67.7 626.6,69.2 626.8,70.7 626.9,72.1 627.0,73.3 627.1,74.4 627.2,75.3 627.5,76.9 627.8,78.3 628.0,79.5 628.2,80.6 628.5,81.7 628.8,82.8 629.0,84.0 629.2,85.2 629.5,86.4 629.8,87.6 630.0,88.8 630.2,89.9 630.5,91.1 630.8,92.3 631.0,93.4 631.2,94.6 631.5,95.8 631.8,97.1 632.0,98.4 632.2,99.7 632.5,101.1 632.8,102.5 633.0,104.0 633.2,105.6 633.4,106.4 633.5,107.3 633.6,108.2 633.8,109.1 633.9,110.0 634.0,110.9 634.1,111.9 634.2,112.9 634.4,113.9 634.5,114.9 634.6,115.9 634.8,116.9 634.9,118.0 635.0,119.0 635.1,120.1 635.2,121.1 635.4,122.2 635.5,123.3 635.6,124.3 635.8,125.4 635.9,126.5 636.0,127.6 636.1,128.6 636.2,129.7 636.4,130.8 636.5,131.8 636.6,132.9 636.8,133.9 636.9,135.0 637.0,136.0 637.1,137.0 637.2,138.1 637.4,139.1 637.5,140.2 637.6,141.2 637.8,142.3 637.9,143.4 638.0,144.4 638.1,145.5 638.2,146.6 638.4,147.7 638.5,148.8 638.6,149.9 638.8,151.0 638.9,152.1 639.0,153.2 639.1,154.4 639.2,155.5 639.4,156.6 639.5,157.7 639.6,158.8 639.8,159.9 639.9,161.0 640.0,162.1 640.1,163.2 640.2,164.3 640.4,165.4 640.5,166.5 640.6,167.6 640.8,168.6 640.9,169.7 641.0,170.7 641.1,171.8 641.2,172.8 641.4,173.8 641.5,174.9 641.6,175.9 641.8,176.9 641.9,177.8 642.0,178.8 642.1,179.8 642.2,180.7 642.4,181.6 642.5,182.5 642.6,183.4 642.8,184.3 642.9,185.2 643.0,186.0 643.1,186.8 643.2,187.6 643.4,188.4 643.5,189.2 643.6,190.0 643.8,190.8 643.9,191.6 644.0,192.3 644.1,193.1 644.2,193.8 644.4,194.6 644.5,195.3 644.6,196.0 644.8,196.7 644.9,197.4 645.0,198.1 645.1,198.8 645.2,199.5 645.4,200.2 645.5,200.9 645.6,201.6 645.8,202.2 645.9,202.9 646.0,203.6 646.1,204.2 646.2,204.9 646.4,205.5 646.6,206.9 646.9,208.2 647.1,209.4 647.4,210.7 647.6,212.0 647.9,213.3 648.1,214.7 648.4,216.0 648.6,217.3 648.9,218.7 649.1,220.1 649.4,221.4 649.6,222.8 649.9,224.2 650.1,225.5 650.4,226.9 650.6,228.2 650.9,229.5 651.1,230.8 651.4,232.0 651.6,233.2 651.9,234.4 652.1,235.6 652.4,236.7 652.6,237.7 652.9,238.7 653.1,239.7 653.4,240.6 653.6,241.4 653.9,242.2 654.1,243.0 654.4,243.8 654.6,244.6 654.9,245.4 655.1,246.1 655.4,246.9 655.6,247.6 655.9,248.4 656.1,249.1 656.4,249.8 656.6,250.5 656.9,251.2 657.1,251.9 657.4,252.5 657.6,253.2 657.9,253.8 658.1,254.5 658.4,255.1 658.6,255.7 658.9,256.3 659.1,256.8 659.4,257.4 659.6,258.0 659.9,258.5 660.1,259.0 660.4,259.5 660.6,260.0 660.9,260.5 661.1,261.0 661.4,261.4 661.6,261.9 661.9,262.3 662.6,263.5 662.9,263.9 663.6,264.9 663.9,265.2 664.6,266.1 664.9,266.4 665.6,267.3 665.9,267.6 666.6,268.4 666.9,268.7 667.6,269.5 667.9,269.7 668.6,270.4 668.9,270.7 669.6,271.3 669.9,271.5 670.6,272.1 670.9,272.3 671.6,272.9 671.9,273.0 672.6,273.5 672.9,273.6 673.6,274.0 673.9,274.1 674.6,274.4 674.9,274.5 675.6,274.7 675.9,274.8 676.6,275.0 676.9,275.0 677.6,275.2 677.9,275.3 678.6,275.5 678.9,275.6 679.6,275.7 679.9,275.8 680.6,275.9 680.9,276.0 681.6,276.1 681.9,276.2 682.6,276.3 682.9,276.3 683.6,276.4 683.9,276.4 684.6,276.5 684.9,276.5 685.6,276.5 685.9,276.5 686.0,276.5 686.0,277.5 685.9,277.5 685.6,277.5 684.9,277.5 684.6,277.5 683.9,277.4 683.6,277.4 682.9,277.4 682.6,277.3 681.9,277.2 681.6,277.2 680.9,277.1 680.6,277.1 679.9,277.0 679.6,276.9 678.9,276.8 678.6,276.8 677.9,276.6 677.6,276.6 676.9,276.4 676.6,276.4 675.9,276.2 675.6,276.1 674.9,276.0 674.6,275.9 673.9,275.7 673.6,275.6 672.9,275.2 672.6,275.1 671.9,274.7 671.6,274.5 670.9,274.0 670.6,273.8 669.9,273.3 669.6,273.1 668.9,272.4 668.6,272.2 667.9,271.5 667.6,271.3 666.9,270.5 666.6,270.3 665.9,269.5 665.6,269.2 664.9,268.4 664.6,268.1 663.9,267.2 663.6,266.9 662.9,265.9 662.6,265.6 661.9,264.5 661.6,264.1 661.4,263.7 661.1,263.2 660.9,262.8 660.6,262.3 660.4,261.9 660.1,261.4 659.9,260.9 659.6,260.4 659.4,259.8 659.1,259.3 658.9,258.8 658.6,258.2 658.4,257.6 658.1,257.1 657.9,256.5 657.6,255.8 657.4,255.2 657.1,254.6 656.9,253.9 656.6,253.3 656.4,252.6 656.1,251.9 655.9,251.2 655.6,250.5 655.4,249.8 655.1,249.1 654.9,248.3 654.6,247.6 654.4,246.8 654.1,246.0 653.9,245.2 653.6,244.4 653.4,243.6 653.1,242.7 652.9,241.7 652.6,240.7 652.4,239.6 652.1,238.5 651.9,237.3 651.6,236.1 651.4,234.8 651.1,233.5 650.9,232.1 650.6,230.8 650.4,229.4 650.1,227.9 649.9,226.5 649.6,225.1 649.4,223.6 649.1,222.2 648.9,220.7 648.6,219.3 648.4,217.9 648.1,216.4 647.9,215.0 647.6,213.5 647.4,212.0 647.1,210.4 646.9,208.9 646.6,207.3 646.4,205.7 646.2,204.9 646.1,204.1 646.0,203.3 645.9,202.5 645.8,201.6 645.6,200.8 645.5,200.0 645.4,199.2 645.2,198.3 645.1,197.5 645.0,196.7 644.9,195.9 644.8,195.0 644.6,194.2 644.5,193.3 644.4,192.5 644.2,191.7 644.1,190.8 644.0,190.0 643.9,189.2 643.8,188.3 643.6,187.5 643.5,186.6 643.4,185.8 643.2,184.9 643.1,184.0 643.0,183.2 642.9,182.3 642.8,181.4 642.6,180.6 642.5,179.7 642.4,178.8 642.2,177.9 642.1,177.0 642.0,176.1 641.9,175.2 641.8,174.3 641.6,173.5 641.5,172.6 641.4,171.7 641.2,170.8 641.1,169.9 641.0,168.9 640.9,168.0 640.8,167.1 640.6,166.2 640.5,165.3 640.4,164.4 640.2,163.5 640.1,162.6 640.0,161.7 639.9,160.8 639.8,159.9 639.6,158.9 639.5,158.0 639.4,157.1 639.2,156.2 639.1,155.3 639.0,154.4 638.9,153.5 638.8,152.6 638.6,151.7 638.5,150.8 638.4,149.8 638.2,148.9 638.1,148.0 638.0,147.1 637.9,146.2 637.8,145.3 637.6,144.4 637.5,143.6 637.4,142.7 637.2,141.8 637.1,140.9 637.0,140.0 636.9,139.1 636.8,138.2 636.6,137.3 636.5,136.4 636.4,135.4 636.2,134.5 636.1,133.5 636.0,132.6 635.9,131.6 635.8,130.6 635.6,129.7 635.5,128.7 635.4,127.8 635.2,126.8 635.1,125.9 635.0,124.9 634.9,124.0 634.8,123.1 634.6,122.1 634.5,121.2 634.4,120.4 634.2,119.5 634.1,118.6 634.0,117.8 633.9,117.0 633.8,116.2 633.6,115.4 633.5,114.7 633.4,114.0 633.2,113.3 633.0,112.0 632.8,110.8 632.5,109.6 632.2,108.4 632.0,107.3 631.8,106.2 631.5,105.1 631.2,104.1 631.0,103.1 630.8,102.2 630.5,101.3 630.2,100.4 630.0,99.6 629.8,98.9 629.5,98.2 629.2,97.6 629.0,97.0 628.8,96.5 628.5,96.0 628.2,95.5 628.0,95.0 627.8,94.6 627.5,94.2 627.2,93.8 627.1,93.7 627.0,93.5 626.9,93.3 626.8,93.2 626.6,93.0 626.5,92.9 626.4,92.8 626.2,92.7 626.1,92.6 626.0,92.5 625.9,92.4 625.8,92.3 625.6,92.3 625.5,92.2 625.4,92.1 625.2,92.0 625.1,92.0 625.0,91.9 624.9,91.8 624.8,91.8 624.6,91.7 624.5,91.7 624.4,91.6 624.2,91.6 624.1,91.6 624.0,91.5 623.8,91.5 623.5,91.5 623.2,91.6 623.0,91.7 622.8,91.9 622.5,92.2 622.2,92.5 621.8,93.3 621.2,94.1 620.8,95.0 620.2,96.2 619.8,97.7 619.5,98.6 619.2,99.4 619.0,100.3 618.8,101.3 618.5,102.2 618.2,103.1 618.0,104.0 617.8,104.9 617.5,105.9 617.2,106.9 617.0,107.9 616.8,108.9 616.5,110.0 616.2,111.0 616.0,112.1 615.8,113.1 615.5,114.1 615.2,115.1 615.0,116.0 614.8,116.9 614.5,117.7 614.2,118.6 614.0,119.4 613.8,120.1 613.5,120.9 613.2,121.7 613.0,122.4 612.8,123.2 612.5,123.9 612.2,124.6 612.0,125.4 611.8,126.1 611.5,126.9 611.2,127.7 611.0,128.5 610.8,129.3 610.5,130.2 610.2,131.1 610.0,132.0 609.8,133.0 609.5,134.0 609.2,135.0 609.0,136.1 608.8,137.2 608.5,138.3 608.2,139.5 608.1,140.1 608.0,140.7 607.9,141.2 607.8,141.8 607.6,142.4 607.5,143.0 607.4,143.6 607.2,144.2 607.1,144.8 607.0,145.4 606.9,146.0 606.8,146.6 606.6,147.1 606.5,147.7 606.4,148.3 606.2,148.9 606.1,149.4 606.0,150.0 605.9,150.6 605.8,151.1 605.6,151.7 605.5,152.2 605.4,152.8 605.2,153.3 605.1,153.9 605.0,154.4 604.9,155.0 604.8,155.5 604.6,156.1 604.5,156.6 604.4,157.2 604.2,157.8 604.1,158.3 604.0,158.9 603.9,159.4 603.8,160.0 603.6,160.5 603.5,161.1 603.4,161.6 603.2,162.2 603.1,162.7 603.0,163.2 602.9,163.8 602.8,164.3 602.6,164.9 602.5,165.4 602.4,166.0 602.2,166.5 602.1,167.1 602.0,167.6 601.9,168.2 601.8,168.7 601.6,169.3 601.5,169.8 601.4,170.4 601.2,170.9 601.1,171.5 601.0,172.0 600.9,172.5 600.8,173.1 600.6,173.6 600.5,174.2 600.4,174.7 600.2,175.3 600.1,175.8 600.0,176.3 599.9,176.9 599.8,177.4 599.6,178.0 599.5,178.5 599.4,179.0 599.2,179.6 599.1,180.1 599.0,180.7 598.9,181.2 598.8,181.7 598.6,182.3 598.5,182.8 598.4,183.3 598.2,183.9 598.1,184.4 598.0,184.9 597.9,185.5 597.8,186.0 597.6,186.6 597.5,187.1 597.4,187.6 597.2,188.2 597.1,188.7 597.0,189.3 596.9,189.8 596.8,190.3 596.6,190.9 596.5,191.4 596.4,192.0 596.2,192.5 596.1,193.1 596.0,193.6 595.9,194.1 595.8,194.7 595.6,195.2 595.5,195.8 595.4,196.3 595.2,196.9 595.0,198.0 594.8,199.1 594.5,200.4 594.2,201.6 594.0,203.0 593.8,204.3 593.5,205.7 593.2,207.2 593.0,208.6 592.8,210.1 592.5,211.5 592.2,213.0 592.0,214.4 591.8,215.8 591.5,217.2 591.2,218.5 591.0,219.8 590.8,221.0 590.5,222.2 590.2,223.2 590.0,224.2 589.8,225.1 589.5,225.9 589.0,227.2 588.5,227.9 588.0,228.3 587.5,228.6 586.5,229.1 585.5,229.6 584.5,230.0 583.5,230.4 582.5,230.7 581.5,230.9 580.5,231.2 579.5,231.4 578.5,231.6 577.5,231.8 576.5,232.1 575.5,232.3 574.5,232.7 573.5,233.0 572.5,233.3 571.5,233.5 570.5,233.8 569.5,234.1 568.5,234.4 567.5,234.7 566.5,235.0 565.5,235.2 564.5,235.5 563.5,235.8 562.5,236.2 561.5,236.5 560.5,236.8 559.5,237.2 558.5,237.5 557.5,237.9 556.5,238.3 555.5,238.7 554.5,239.1 553.5,239.5 552.5,239.9 551.5,240.3 550.5,240.8 549.5,241.2 548.5,241.7 547.5,242.2 546.5,242.8 545.5,243.3 544.5,243.9 543.5,244.6 542.5,245.3 541.5,246.1 540.5,246.9 539.5,247.8 538.5,248.6 537.5,249.5 536.5,250.3 535.5,251.2 534.5,252.0 533.5,252.9 532.5,253.7 531.5,254.6 530.5,255.5 529.5,256.4 528.5,257.3 527.5,258.2 526.5,259.2 525.5,260.1 524.5,261.0 523.5,262.0" fill="rgba(249,63,63,0.50)"/>
<polyline points="523.5,253.2 524.5,252.5 525.5,251.9 526.5,251.2 527.5,250.5 528.5,249.7 529.5,249.0 530.5,248.2 531.5,247.5 532.5,246.7 533.5,245.9 534.5,245.1 535.5,244.3 536.5,243.5 537.5,242.7 538.5,241.8 539.5,240.9 540.5,240.0 541.5,239.0 542.5,238.1 543.5,237.2 544.5,236.4 545.5,235.6 546.5,234.8 547.5,234.0 548.5,233.2 549.5,232.4 550.5,231.7 551.5,230.9 552.5,230.2 553.5,229.6 554.5,229.0 555.5,228.5 556.5,228.0 557.5,227.6 558.5,227.2 559.5,226.8 560.5,226.5 561.5,226.2 562.5,225.9 563.5,225.6 564.5,225.3 565.5,225.0 566.5,224.8 567.5,224.5 568.5,224.3 569.5,224.0 570.5,223.8 571.5,223.6 572.5,223.3 573.5,223.2 574.5,223.0 575.5,222.8 576.5,222.6 577.5,222.4 578.5,222.2 579.5,221.9 580.5,221.7 581.5,221.5 582.5,221.2 583.5,221.0 584.5,220.7 585.5,220.3 586.5,219.8 587.5,218.9 588.0,217.9 588.5,216.6 589.0,215.1 589.5,213.5 590.0,212.0 590.5,210.5 590.8,209.6 591.0,208.8 591.2,207.9 591.5,207.0 591.8,206.1 592.0,205.2 592.2,204.3 592.5,203.3 592.8,202.4 593.0,201.4 593.2,200.5 593.5,199.5 593.8,198.6 594.0,197.6 594.2,196.7 594.5,195.8 594.8,194.9 595.0,194.0 595.2,193.1 595.5,192.2 595.8,191.3 596.0,190.3 596.2,189.3 596.5,188.2 596.8,187.1 597.0,186.0 597.2,184.8 597.5,183.5 597.8,182.1 598.0,180.7 598.2,179.2 598.5,177.7 598.8,176.1 598.9,175.3 599.0,174.5 599.1,173.7 599.2,172.8 599.4,172.0 599.5,171.1 599.6,170.3 599.8,169.4 599.9,168.6 600.0,167.7 600.1,166.8 600.2,166.0 600.4,165.1 600.5,164.2 600.6,163.3 600.8,162.5 600.9,161.6 601.0,160.7 601.1,159.8 601.2,159.0 601.4,158.1 601.5,157.2 601.6,156.4 601.8,155.5 601.9,154.7 602.0,153.9 602.1,153.1 602.2,152.2 602.4,151.4 602.6,149.8 602.9,148.3 603.1,146.7 603.4,145.2 603.6,143.7 603.9,142.2 604.1,140.6 604.4,139.1 604.6,137.6 604.9,136.1 605.1,134.6 605.4,133.1 605.6,131.6 605.9,130.1 606.1,128.6 606.4,127.1 606.6,125.6 606.9,124.1 607.1,122.6 607.4,121.0 607.6,119.5 607.9,117.9 608.1,116.4 608.4,114.8 608.5,114.0 608.6,113.2 608.8,112.4 608.9,111.5 609.0,110.7 609.1,109.8 609.2,108.9 609.4,108.0 609.5,107.1 609.6,106.2 609.8,105.2 609.9,104.3 610.0,103.4 610.1,102.4 610.2,101.5 610.4,100.6 610.5,99.6 610.6,98.7 610.8,97.8 610.9,96.9 611.0,96.0 611.1,95.1 611.2,94.2 611.4,93.3 611.5,92.5 611.6,91.6 611.8,90.8 612.0,89.2 612.2,87.8 612.5,86.4 612.8,85.1 613.0,84.0 613.2,83.0 613.5,81.9 613.8,81.0 614.0,80.0 614.2,79.1 614.5,78.2 614.8,77.4 615.2,75.8 615.8,74.3 616.2,73.1 616.8,72.0 617.2,71.0 617.8,70.1 618.2,69.3 619.2,68.0 620.2,67.6 621.2,68.1 622.2,69.0 623.2,70.2 623.8,70.9 624.2,71.9 624.8,73.3 625.0,74.0 625.2,74.9 625.5,75.8 625.8,76.7 626.0,77.6 626.2,78.6 626.5,79.6 626.8,80.6 627.0,81.6 627.2,82.6 627.5,83.6 627.8,84.6 628.0,85.6 628.2,86.5 628.5,87.5 628.8,88.5 629.0,89.6 629.2,90.6 629.5,91.6 629.8,92.7 630.0,93.8 630.2,94.9 630.5,96.0 630.8,97.2 631.0,98.4 631.2,99.5 631.5,100.8 631.8,102.0 632.0,103.3 632.2,104.6 632.5,106.0 632.8,107.3 633.0,108.7 633.2,110.2 633.5,111.7 633.8,113.2 634.0,114.7 634.2,116.3 634.4,117.2 634.5,118.1 634.6,119.0 634.8,120.0 634.9,121.0 635.0,122.1 635.1,123.2 635.2,124.3 635.4,125.4 635.5,126.6 635.6,127.7 635.8,128.9 635.9,130.1 636.0,131.2 636.1,132.4 636.2,133.5 636.4,134.7 636.5,135.8 636.6,136.9 636.8,138.0 636.9,139.0 637.0,140.0 637.1,141.0 637.2,142.0 637.4,142.9 637.5,143.9 637.6,144.8 637.8,145.8 637.9,146.8 638.0,147.7 638.1,148.6 638.2,149.6 638.4,150.5 638.5,151.5 638.6,152.4 638.8,153.3 638.9,154.2 639.0,155.1 639.1,156.1 639.2,157.0 639.4,157.9 639.5,158.8 639.6,159.7 639.8,160.6 639.9,161.5 640.0,162.3 640.1,163.2 640.2,164.1 640.4,165.0 640.5,165.9 640.6,166.7 640.8,167.6 640.9,168.5 641.0,169.3 641.1,170.2 641.2,171.1 641.4,171.9 641.5,172.8 641.6,173.6 641.8,174.5 641.9,175.3 642.0,176.2 642.1,177.0 642.2,177.8 642.4,178.7 642.5,179.5 642.6,180.3 642.8,181.2 642.9,182.0 643.0,182.8 643.1,183.6 643.2,184.5 643.4,185.3 643.5,186.1 643.6,186.9 643.8,187.7 643.9,188.5 644.0,189.4 644.1,190.2 644.2,191.0 644.4,191.8 644.6,193.4 644.9,195.0 645.1,196.5 645.4,198.1 645.6,199.6 645.9,201.2 646.1,202.7 646.4,204.2 646.6,205.7 646.9,207.2 647.1,208.7 647.4,210.1 647.6,211.6 647.9,213.0 648.1,214.4 648.4,215.9 648.6,217.3 648.9,218.7 649.1,220.1 649.4,221.6 649.6,223.0 649.9,224.4 650.1,225.9 650.4,227.3 650.6,228.7 650.9,230.1 651.1,231.4 651.4,232.8 651.6,234.1 651.9,235.4 652.1,236.6 652.4,237.8 652.6,239.0 652.9,240.1 653.1,241.1 653.4,242.1 653.6,243.1 653.9,244.0 654.1,244.9 654.4,245.8 654.6,246.6 654.9,247.4 655.4,249.0 655.9,250.5 656.4,252.0 656.9,253.3 657.4,254.5 657.9,255.7 658.4,256.8 658.9,257.9 659.4,258.9 659.9,259.9 660.4,260.9 660.9,261.8 661.4,262.7 662.4,264.3 663.4,265.6 664.4,266.8 665.4,267.9 666.4,268.9 667.4,269.9 668.4,270.8 669.4,271.7 670.4,272.5 671.4,273.2 672.4,273.8 673.4,274.4 674.4,274.8 675.4,275.1 676.4,275.4 677.4,275.7 678.4,275.9 679.4,276.2 680.4,276.4 681.4,276.6 682.4,276.7 683.4,276.9 684.4,276.9 685.4,277.0 686.0,277.0" fill="none" stroke="#ff0000" stroke-width="3.4" stroke-linejoin="round"/>
<polygon points="523.5,215.2 524.0,215.2 524.5,215.1 525.0,215.0 525.5,215.0 526.0,214.9 526.5,214.8 527.0,214.8 527.5,214.7 528.0,214.7 528.5,214.6 529.0,214.5 529.5,214.5 530.0,214.4 530.5,214.3 531.0,214.3 531.5,214.2 532.0,214.2 532.5,214.1 533.0,214.0 533.5,214.0 534.0,213.9 534.5,213.8 535.0,213.8 535.5,213.7 536.0,213.6 536.5,213.6 537.0,213.5 537.5,213.5 538.0,213.4 538.5,213.3 539.0,213.3 539.5,213.2 540.0,213.1 540.5,213.1 541.0,213.0 541.5,212.9 542.0,212.9 542.5,212.8 543.0,212.7 543.5,212.7 544.0,212.6 544.5,212.5 545.0,212.5 545.5,212.4 546.0,212.3 546.5,212.3 547.0,212.2 547.5,212.1 548.0,212.1 548.5,212.0 549.0,211.9 549.5,211.9 550.0,211.8 550.5,211.7 551.0,211.7 551.5,211.6 552.0,211.5 552.5,211.5 553.0,211.4 553.5,211.3 554.0,211.3 554.5,211.2 555.0,211.1 555.5,211.0 556.0,211.0 556.5,210.9 557.0,210.8 557.5,210.7 558.0,210.7 558.5,210.6 559.0,210.5 559.5,210.4 560.0,210.3 560.5,210.3 561.0,210.2 561.5,210.1 562.0,210.0 562.5,209.9 563.0,209.8 563.5,209.8 564.0,209.7 564.5,209.6 565.0,209.5 565.5,209.4 566.0,209.3 566.5,209.2 567.0,209.1 567.5,209.0 568.0,208.9 568.5,208.8 569.0,208.7 569.5,208.6 570.0,208.5 570.5,208.4 571.0,208.3 571.5,208.2 572.0,208.1 572.5,208.0 573.0,207.9 573.5,207.7 574.0,207.6 574.5,207.5 575.0,207.4 575.5,207.2 576.0,207.1 576.5,207.0 577.0,206.8 577.5,206.7 578.0,206.5 578.5,206.3 579.0,206.2 579.5,206.0 580.0,205.8 580.5,205.6 581.0,205.4 581.5,205.2 582.0,205.0 582.5,204.8 583.0,204.6 583.5,204.4 584.0,204.1 584.5,203.9 585.0,203.6 585.5,203.3 586.0,203.1 586.5,202.8 587.0,202.5 587.5,202.2 588.0,201.9 588.5,201.5 589.0,201.2 589.5,200.8 590.0,200.5 590.5,200.0 591.0,199.6 591.5,199.1 592.0,198.6 592.5,198.1 593.0,197.6 593.5,197.0 594.0,196.4 594.5,195.8 595.0,195.2 595.5,194.6 596.0,193.9 596.5,193.3 597.0,192.6 597.5,191.8 598.0,191.1 598.5,190.3 599.0,189.5 599.5,188.7 600.0,187.8 600.5,186.9 601.0,186.0 601.5,185.0 602.0,184.0 602.5,183.0 603.0,182.0 603.5,180.9 604.0,179.9 604.5,178.8 605.0,177.7 605.5,176.6 606.0,175.5 606.5,174.3 607.0,173.2 607.5,172.1 608.0,170.9 608.5,169.8 609.0,168.7 609.5,167.6 610.0,166.5 610.5,165.5 611.0,164.5 611.5,163.5 612.0,162.5 612.5,161.6 613.0,160.7 613.5,159.8 614.0,159.0 614.5,158.2 615.0,157.4 615.5,156.7 616.0,156.0 616.5,155.4 617.0,154.8 617.5,154.2 618.0,153.7 618.5,153.3 619.0,152.8 619.5,152.4 620.0,152.1 620.5,151.7 621.0,151.5 621.5,151.2 622.0,151.0 622.5,150.8 623.0,150.7 623.5,150.8 624.0,150.9 624.5,151.1 625.0,151.3 625.5,151.6 626.0,151.9 626.5,152.2 627.0,152.6 627.5,153.1 628.0,153.6 628.5,154.2 629.0,154.8 629.5,155.5 630.0,156.3 630.5,157.1 631.0,158.0 631.5,159.0 632.0,160.0 632.5,161.1 633.0,162.3 633.5,163.6 634.0,164.9 634.5,166.4 635.0,167.9 635.5,169.5 636.0,171.1 636.2,172.0 636.5,172.9 636.8,173.8 637.0,174.7 637.2,175.6 637.5,176.6 637.8,177.6 638.0,178.5 638.2,179.5 638.5,180.6 638.8,181.6 639.0,182.6 639.2,183.7 639.5,184.7 639.8,185.8 640.0,186.8 640.2,187.9 640.5,189.0 640.8,190.1 641.0,191.2 641.2,192.3 641.5,193.4 641.8,194.5 642.0,195.6 642.2,196.8 642.5,197.9 642.8,199.0 643.0,200.1 643.2,201.2 643.5,202.4 643.8,203.5 644.0,204.6 644.2,205.7 644.5,206.8 644.8,207.9 645.0,209.0 645.2,210.0 645.5,211.0 645.8,212.1 646.0,213.1 646.2,214.1 646.5,215.1 646.8,216.1 647.0,217.1 647.2,218.1 647.5,219.1 647.8,220.0 648.0,221.0 648.2,221.9 648.5,222.9 648.8,223.8 649.0,224.7 649.2,225.6 649.5,226.5 649.8,227.4 650.0,228.3 650.2,229.2 650.5,230.0 650.8,230.8 651.0,231.7 651.5,233.3 652.0,234.9 652.5,236.4 653.0,237.9 653.5,239.3 654.0,240.7 654.5,242.0 655.0,243.3 655.5,244.6 656.0,245.8 656.5,247.0 657.0,248.1 657.5,249.2 658.0,250.3 658.5,251.3 659.0,252.3 659.5,253.2 660.0,254.1 660.5,255.0 661.0,255.9 661.5,256.7 662.0,257.5 662.5,258.2 663.0,259.0 663.5,259.7 664.0,260.4 664.5,261.0 665.0,261.6 665.5,262.2 666.0,262.8 666.5,263.4 667.0,263.9 667.5,264.4 668.0,264.9 668.5,265.4 669.0,265.8 669.5,266.3 670.0,266.7 670.5,267.1 671.0,267.4 671.5,267.8 672.0,268.1 672.5,268.5 673.0,268.8 673.5,269.1 674.0,269.4 674.5,269.6 675.0,269.9 675.5,270.1 676.0,270.3 676.5,270.6 677.0,270.8 677.5,271.0 678.0,271.1 678.5,271.3 679.0,271.5 679.5,271.7 680.0,271.8 680.5,272.0 681.0,272.1 681.5,272.2 682.0,272.4 682.5,272.5 683.0,272.6 683.5,272.7 684.0,272.8 684.5,272.9 685.0,273.1 685.5,273.2 686.0,273.3 686.0,276.3 685.5,276.2 685.0,276.2 684.5,276.1 684.0,276.0 683.5,276.0 683.0,275.9 682.5,275.8 682.0,275.7 681.5,275.7 681.0,275.6 680.5,275.5 680.0,275.4 679.5,275.3 679.0,275.2 678.5,275.1 678.0,274.9 677.5,274.8 677.0,274.6 676.5,274.5 676.0,274.3 675.5,274.1 675.0,273.9 674.5,273.7 674.0,273.5 673.5,273.3 673.0,273.0 672.5,272.8 672.0,272.5 671.5,272.2 671.0,271.9 670.5,271.6 670.0,271.2 669.5,270.9 669.0,270.5 668.5,270.1 668.0,269.7 667.5,269.2 667.0,268.8 666.5,268.3 666.0,267.8 665.5,267.2 665.0,266.7 664.5,266.1 664.0,265.5 663.5,264.9 663.0,264.2 662.5,263.5 662.0,262.8 661.5,262.1 661.0,261.3 660.5,260.5 660.0,259.7 659.5,258.8 659.0,257.9 658.5,257.0 658.0,256.0 657.5,255.0 657.0,253.9 656.5,252.8 656.0,251.7 655.5,250.5 655.0,249.3 654.5,248.1 654.0,246.8 653.5,245.5 653.0,244.1 652.5,242.6 652.0,241.2 651.5,239.6 651.0,238.1 650.8,237.3 650.5,236.5 650.2,235.6 650.0,234.8 649.8,234.0 649.5,233.1 649.2,232.2 649.0,231.3 648.8,230.4 648.5,229.5 648.2,228.6 648.0,227.7 647.8,226.8 647.5,225.8 647.2,224.9 647.0,223.9 646.8,222.9 646.5,222.0 646.2,221.0 646.0,220.0 645.8,219.0 645.5,218.0 645.2,217.0 645.0,216.0 644.8,214.9 644.5,213.9 644.2,212.9 644.0,211.8 643.8,210.8 643.5,209.8 643.2,208.7 643.0,207.7 642.8,206.6 642.5,205.6 642.2,204.5 642.0,203.5 641.8,202.4 641.5,201.4 641.2,200.3 641.0,199.3 640.8,198.3 640.5,197.2 640.2,196.2 640.0,195.2 639.8,194.2 639.5,193.2 639.2,192.2 639.0,191.2 638.8,190.3 638.5,189.3 638.2,188.4 638.0,187.5 637.8,186.5 637.5,185.6 637.2,184.8 637.0,183.9 636.8,183.0 636.5,182.2 636.2,181.4 636.0,180.6 635.5,179.0 635.0,177.6 634.5,176.2 634.0,174.9 633.5,173.7 633.0,172.6 632.5,171.5 632.0,170.6 631.5,169.6 631.0,168.8 630.5,168.1 630.0,167.4 629.5,166.7 629.0,166.2 628.5,165.7 628.0,165.2 627.5,164.9 627.0,164.5 626.5,164.3 626.0,164.0 625.5,163.9 625.0,163.8 624.5,163.7 624.0,163.6 623.5,163.7 623.0,163.7 622.5,163.8 622.0,163.9 621.5,164.0 621.0,164.2 620.5,164.4 620.0,164.7 619.5,165.0 619.0,165.3 618.5,165.7 618.0,166.1 617.5,166.6 617.0,167.1 616.5,167.6 616.0,168.2 615.5,168.8 615.0,169.5 614.5,170.2 614.0,170.9 613.5,171.7 613.0,172.5 612.5,173.3 612.0,174.2 611.5,175.1 611.0,176.0 610.5,177.0 610.0,178.0 609.5,179.0 609.0,180.0 608.5,181.0 608.0,182.1 607.5,183.2 607.0,184.3 606.5,185.3 606.0,186.4 605.5,187.5 605.0,188.5 604.5,189.6 604.0,190.6 603.5,191.6 603.0,192.6 602.5,193.5 602.0,194.5 601.5,195.4 601.0,196.3 600.5,197.2 600.0,198.0 599.5,198.8 599.0,199.6 598.5,200.3 598.0,201.1 597.5,201.7 597.0,202.4 596.5,203.1 596.0,203.7 595.5,204.3 595.0,204.8 594.5,205.4 594.0,205.9 593.5,206.4 593.0,206.9 592.5,207.4 592.0,207.8 591.5,208.3 591.0,208.7 590.5,209.1 590.0,209.5 589.5,209.9 589.0,210.2 588.5,210.6 588.0,210.9 587.5,211.3 587.0,211.6 586.5,211.9 586.0,212.2 585.5,212.5 585.0,212.8 584.5,213.0 584.0,213.3 583.5,213.5 583.0,213.8 582.5,214.0 582.0,214.3 581.5,214.5 581.0,214.7 580.5,214.9 580.0,215.1 579.5,215.3 579.0,215.5 578.5,215.7 578.0,215.9 577.5,216.0 577.0,216.2 576.5,216.4 576.0,216.5 575.5,216.7 575.0,216.8 574.5,217.0 574.0,217.1 573.5,217.2 573.0,217.4 572.5,217.5 572.0,217.6 571.5,217.7 571.0,217.9 570.5,218.0 570.0,218.1 569.5,218.2 569.0,218.3 568.5,218.5 568.0,218.6 567.5,218.7 567.0,218.8 566.5,218.9 566.0,219.0 565.5,219.1 565.0,219.2 564.5,219.3 564.0,219.4 563.5,219.5 563.0,219.6 562.5,219.7 562.0,219.8 561.5,219.9 561.0,220.0 560.5,220.1 560.0,220.2 559.5,220.3 559.0,220.4 558.5,220.5 558.0,220.6 557.5,220.7 557.0,220.8 556.5,220.9 556.0,221.0 555.5,221.1 555.0,221.1 554.5,221.2 554.0,221.3 553.5,221.4 553.0,221.5 552.5,221.6 552.0,221.7 551.5,221.7 551.0,221.8 550.5,221.9 550.0,222.0 549.5,222.1 549.0,222.2 548.5,222.2 548.0,222.3 547.5,222.4 547.0,222.5 546.5,222.6 546.0,222.6 545.5,222.7 545.0,222.8 544.5,222.9 544.0,223.0 543.5,223.0 543.0,223.1 542.5,223.2 542.0,223.3 541.5,223.4 541.0,223.4 540.5,223.5 540.0,223.6 539.5,223.7 539.0,223.8 538.5,223.8 538.0,223.9 537.5,224.0 537.0,224.1 536.5,224.2 536.0,224.2 535.5,224.3 535.0,224.4 534.5,224.5 534.0,224.5 533.5,224.6 533.0,224.7 532.5,224.8 532.0,224.9 531.5,224.9 531.0,225.0 530.5,225.1 530.0,225.2 529.5,225.2 529.0,225.3 528.5,225.4 528.0,225.5 527.5,225.6 527.0,225.6 526.5,225.7 526.0,225.8 525.5,225.9 525.0,225.9 524.5,226.0 524.0,226.1 523.5,226.2" fill="rgba(141,239,65,0.50)"/>
<polyline points="523.5,220.7 524.5,220.6 525.5,220.4 526.5,220.3 527.5,220.1 528.5,220.0 529.5,219.9 530.5,219.7 531.5,219.6 532.5,219.4 533.5,219.3 534.5,219.1 535.5,219.0 536.5,218.9 537.5,218.7 538.5,218.6 539.5,218.4 540.5,218.3 541.5,218.1 542.5,218.0 543.5,217.9 544.5,217.7 545.5,217.6 546.5,217.4 547.5,217.3 548.5,217.1 549.5,217.0 550.5,216.8 551.5,216.7 552.5,216.5 553.5,216.4 554.5,216.2 555.5,216.0 556.5,215.9 557.5,215.7 558.5,215.5 559.5,215.4 560.5,215.2 561.5,215.0 562.5,214.8 563.5,214.6 564.5,214.5 565.5,214.3 566.5,214.1 567.5,213.8 568.5,213.6 569.5,213.4 570.5,213.2 571.5,213.0 572.5,212.7 573.5,212.5 574.5,212.2 575.5,211.9 576.5,211.7 577.5,211.3 578.5,211.0 579.5,210.6 580.5,210.3 581.5,209.9 582.5,209.4 583.5,209.0 584.5,208.4 585.5,207.9 586.5,207.3 587.5,206.7 588.5,206.1 589.5,205.4 590.5,204.6 591.5,203.8 592.5,202.9 593.5,201.9 594.5,200.9 595.5,199.8 596.5,198.6 597.5,197.2 598.5,195.8 599.5,194.3 600.0,193.5 600.5,192.7 601.0,191.8 601.5,190.9 602.0,190.0 602.5,189.0 603.0,188.1 603.5,187.1 604.0,186.1 604.5,185.1 605.0,184.0 605.5,183.0 606.0,181.9 606.5,180.8 607.0,179.8 607.5,178.7 608.0,177.6 608.5,176.5 609.0,175.5 609.5,174.5 610.0,173.5 610.5,172.5 611.0,171.5 611.5,170.6 612.0,169.7 612.5,168.8 613.0,168.0 614.0,166.4 615.0,165.0 616.0,163.7 617.0,162.6 618.0,161.6 619.0,160.8 620.0,160.2 621.0,159.7 622.0,159.4 623.0,159.2 624.0,159.2 625.0,159.3 626.0,159.7 627.0,160.2 628.0,161.0 629.0,161.9 630.0,163.2 631.0,164.7 631.5,165.5 632.0,166.5 632.5,167.5 633.0,168.5 633.5,169.7 634.0,170.9 634.5,172.2 635.0,173.6 635.5,175.1 636.0,176.7 636.2,177.5 636.5,178.3 636.8,179.2 637.0,180.0 637.2,180.9 637.5,181.8 637.8,182.7 638.0,183.6 638.2,184.6 638.5,185.5 638.8,186.5 639.0,187.5 639.2,188.5 639.5,189.5 639.8,190.5 640.0,191.5 640.2,192.5 640.5,193.5 640.8,194.6 641.0,195.6 641.2,196.7 641.5,197.7 641.8,198.8 642.0,199.8 642.2,200.9 642.5,202.0 642.8,203.0 643.0,204.1 643.2,205.1 643.5,206.2 643.8,207.2 644.0,208.3 644.2,209.4 644.5,210.4 644.8,211.4 645.0,212.5 645.2,213.5 645.5,214.5 645.8,215.5 646.0,216.5 646.2,217.5 646.5,218.5 646.8,219.5 647.0,220.5 647.2,221.5 647.5,222.4 647.8,223.4 648.0,224.3 648.2,225.3 648.5,226.2 648.8,227.1 649.0,228.0 649.2,228.9 649.5,229.8 649.8,230.7 650.0,231.5 650.2,232.4 650.5,233.2 650.8,234.1 651.0,234.9 651.5,236.5 652.0,238.0 652.5,239.5 653.0,241.0 653.5,242.4 654.0,243.7 654.5,245.1 655.0,246.3 655.5,247.6 656.0,248.8 656.5,249.9 657.0,251.0 657.5,252.1 658.0,253.1 658.5,254.1 659.0,255.1 659.5,256.0 660.0,256.9 660.5,257.8 661.0,258.6 662.0,260.2 663.0,261.6 664.0,262.9 665.0,264.2 666.0,265.3 667.0,266.3 668.0,267.3 669.0,268.2 670.0,269.0 671.0,269.7 672.0,270.3 673.0,270.9 674.0,271.4 675.0,271.9 676.0,272.3 677.0,272.7 678.0,273.0 679.0,273.3 680.0,273.6 681.0,273.8 682.0,274.1 683.0,274.3 684.0,274.4 685.0,274.6 686.0,274.8" fill="none" stroke="#80ff00" stroke-width="3.4" stroke-linejoin="round"/>
<polygon points="523.5,222.3 524.0,222.3 524.5,222.2 525.0,222.1 525.5,222.1 526.0,222.0 526.5,222.0 527.0,221.9 527.5,221.8 528.0,221.8 528.5,221.7 529.0,221.7 529.5,221.6 530.0,221.5 530.5,221.5 531.0,221.4 531.5,221.4 532.0,221.3 532.5,221.2 533.0,221.2 533.5,221.1 534.0,221.1 534.5,221.0 535.0,220.9 535.5,220.9 536.0,220.8 536.5,220.7 537.0,220.7 537.5,220.6 538.0,220.6 538.5,220.5 539.0,220.4 539.5,220.4 540.0,220.3 540.5,220.2 541.0,220.2 541.5,220.1 542.0,220.1 542.5,220.0 543.0,219.9 543.5,219.9 544.0,219.8 544.5,219.7 545.0,219.7 545.5,219.6 546.0,219.6 546.5,219.5 547.0,219.4 547.5,219.4 548.0,219.3 548.5,219.2 549.0,219.2 549.5,219.1 550.0,219.0 550.5,219.0 551.0,218.9 551.5,218.8 552.0,218.8 552.5,218.7 553.0,218.6 553.5,218.5 554.0,218.5 554.5,218.4 555.0,218.3 555.5,218.3 556.0,218.2 556.5,218.1 557.0,218.0 557.5,217.9 558.0,217.9 558.5,217.8 559.0,217.7 559.5,217.6 560.0,217.5 560.5,217.5 561.0,217.4 561.5,217.3 562.0,217.2 562.5,217.1 563.0,217.0 563.5,216.9 564.0,216.8 564.5,216.7 565.0,216.6 565.5,216.5 566.0,216.4 566.5,216.3 567.0,216.2 567.5,216.1 568.0,216.0 568.5,215.9 569.0,215.8 569.5,215.7 570.0,215.6 570.5,215.5 571.0,215.3 571.5,215.2 572.0,215.1 572.5,215.0 573.0,214.8 573.5,214.7 574.0,214.6 574.5,214.4 575.0,214.3 575.5,214.1 576.0,214.0 576.5,213.8 577.0,213.7 577.5,213.5 578.0,213.4 578.5,213.2 579.0,213.0 579.5,212.8 580.0,212.7 580.5,212.5 581.0,212.3 581.5,212.1 582.0,211.9 582.5,211.7 583.0,211.4 583.5,211.2 584.0,211.0 584.5,210.7 585.0,210.5 585.5,210.3 586.0,210.0 586.5,209.7 587.0,209.5 587.5,209.2 588.0,208.9 588.5,208.6 589.0,208.3 589.5,208.0 590.0,207.7 590.5,207.3 591.0,206.9 591.5,206.6 592.0,206.2 592.5,205.8 593.0,205.4 593.5,205.0 594.0,204.6 594.5,204.2 595.0,203.7 595.5,203.3 596.0,202.9 596.5,202.4 597.0,202.0 597.5,201.6 598.0,201.1 598.5,200.6 599.0,200.2 599.5,199.7 600.0,199.2 600.5,198.8 601.0,198.3 601.5,197.8 602.0,197.3 602.5,196.8 603.0,196.3 603.5,195.8 604.0,195.3 604.5,194.9 605.0,194.4 605.5,193.9 606.0,193.4 606.5,192.9 607.0,192.4 607.5,191.9 608.0,191.5 608.5,191.0 609.0,190.5 609.5,190.1 610.0,189.6 610.5,189.2 611.0,188.8 611.5,188.4 612.0,187.9 612.5,187.5 613.0,187.2 613.5,186.8 614.0,186.4 614.5,186.0 615.0,185.7 615.5,185.4 616.0,185.1 616.5,184.7 617.0,184.4 617.5,184.2 618.0,183.9 618.5,183.6 619.0,183.4 619.5,183.2 620.0,183.0 620.5,182.8 621.0,182.6 621.5,182.4 622.0,182.2 622.5,182.1 623.0,182.0 623.5,182.0 624.0,182.0 624.5,182.0 625.0,182.0 625.5,182.1 626.0,182.2 626.5,182.3 627.0,182.5 627.5,182.6 628.0,182.8 628.5,183.1 629.0,183.3 629.5,183.6 630.0,184.0 630.5,184.4 631.0,184.8 631.5,185.2 632.0,185.7 632.5,186.3 633.0,186.9 633.5,187.5 634.0,188.2 634.5,188.9 635.0,189.7 635.5,190.6 636.0,191.5 636.5,192.5 637.0,193.5 637.5,194.5 638.0,195.6 638.5,196.8 639.0,198.0 639.5,199.3 640.0,200.6 640.5,202.0 641.0,203.4 641.5,204.9 642.0,206.3 642.5,207.8 643.0,209.4 643.5,210.9 644.0,212.5 644.5,214.1 645.0,215.7 645.5,217.2 646.0,218.8 646.5,220.3 647.0,221.9 647.5,223.4 648.0,224.9 648.5,226.3 649.0,227.8 649.5,229.2 650.0,230.5 650.5,231.9 651.0,233.2 651.5,234.5 652.0,235.7 652.5,236.9 653.0,238.1 653.5,239.3 654.0,240.4 654.5,241.5 655.0,242.5 655.5,243.5 656.0,244.5 656.5,245.5 657.0,246.4 657.5,247.3 658.0,248.1 658.5,249.0 659.0,249.8 659.5,250.6 660.0,251.3 660.5,252.1 661.0,252.8 661.5,253.4 662.0,254.1 662.5,254.7 663.0,255.4 663.5,256.0 664.0,256.5 664.5,257.1 665.0,257.6 665.5,258.1 666.0,258.6 666.5,259.1 667.0,259.6 667.5,260.0 668.0,260.5 668.5,260.9 669.0,261.3 669.5,261.7 670.0,262.1 670.5,262.5 671.0,262.8 671.5,263.2 672.0,263.5 672.5,263.9 673.0,264.2 673.5,264.5 674.0,264.8 674.5,265.1 675.0,265.4 675.5,265.7 676.0,266.0 676.5,266.3 677.0,266.6 677.5,266.8 678.0,267.1 678.5,267.3 679.0,267.6 679.5,267.8 680.0,268.0 680.5,268.3 681.0,268.5 681.5,268.7 682.0,269.0 682.5,269.2 683.0,269.4 683.5,269.6 684.0,269.8 684.5,270.0 685.0,270.2 685.5,270.5 686.0,270.7 686.0,273.7 685.5,273.5 685.0,273.3 684.5,273.1 684.0,273.0 683.5,272.8 683.0,272.6 682.5,272.4 682.0,272.2 681.5,272.1 681.0,271.9 680.5,271.7 680.0,271.5 679.5,271.3 679.0,271.1 678.5,270.9 678.0,270.7 677.5,270.4 677.0,270.2 676.5,270.0 676.0,269.7 675.5,269.5 675.0,269.2 674.5,269.0 674.0,268.7 673.5,268.4 673.0,268.2 672.5,267.9 672.0,267.6 671.5,267.3 671.0,266.9 670.5,266.6 670.0,266.3 669.5,265.9 669.0,265.6 668.5,265.2 668.0,264.8 667.5,264.4 667.0,264.0 666.5,263.5 666.0,263.1 665.5,262.6 665.0,262.2 664.5,261.7 664.0,261.1 663.5,260.6 663.0,260.0 662.5,259.5 662.0,258.9 661.5,258.2 661.0,257.6 660.5,256.9 660.0,256.2 659.5,255.5 659.0,254.8 658.5,254.0 658.0,253.2 657.5,252.4 657.0,251.5 656.5,250.6 656.0,249.7 655.5,248.8 655.0,247.8 654.5,246.8 654.0,245.7 653.5,244.7 653.0,243.5 652.5,242.4 652.0,241.2 651.5,240.0 651.0,238.8 650.5,237.5 650.0,236.2 649.5,234.8 649.0,233.5 648.5,232.1 648.0,230.7 647.5,229.2 647.0,227.7 646.5,226.2 646.0,224.7 645.5,223.2 645.0,221.7 644.5,220.2 644.0,218.8 643.5,217.3 643.0,215.9 642.5,214.5 642.0,213.2 641.5,211.8 641.0,210.5 640.5,209.2 640.0,208.0 639.5,206.8 639.0,205.7 638.5,204.6 638.0,203.5 637.5,202.6 637.0,201.6 636.5,200.8 636.0,200.0 635.5,199.2 635.0,198.5 634.5,197.8 634.0,197.2 633.5,196.7 633.0,196.1 632.5,195.7 632.0,195.3 631.5,194.9 631.0,194.6 630.5,194.3 630.0,194.1 629.5,193.9 629.0,193.7 628.5,193.6 628.0,193.5 627.5,193.4 627.0,193.4 626.5,193.4 626.0,193.4 625.5,193.4 625.0,193.5 624.5,193.6 624.0,193.7 623.5,193.8 623.0,194.0 622.5,194.0 622.0,194.1 621.5,194.2 621.0,194.3 620.5,194.4 620.0,194.6 619.5,194.7 619.0,194.9 618.5,195.1 618.0,195.3 617.5,195.5 617.0,195.7 616.5,196.0 616.0,196.2 615.5,196.5 615.0,196.7 614.5,197.0 614.0,197.3 613.5,197.6 613.0,197.9 612.5,198.3 612.0,198.6 611.5,199.0 611.0,199.3 610.5,199.7 610.0,200.1 609.5,200.5 609.0,200.8 608.5,201.2 608.0,201.7 607.5,202.1 607.0,202.5 606.5,202.9 606.0,203.3 605.5,203.7 605.0,204.2 604.5,204.6 604.0,205.0 603.5,205.5 603.0,205.9 602.5,206.3 602.0,206.8 601.5,207.2 601.0,207.6 600.5,208.0 600.0,208.4 599.5,208.9 599.0,209.3 598.5,209.7 598.0,210.1 597.5,210.5 597.0,210.8 596.5,211.2 596.0,211.6 595.5,212.0 595.0,212.3 594.5,212.7 594.0,213.1 593.5,213.4 593.0,213.7 592.5,214.1 592.0,214.4 591.5,214.7 591.0,215.1 590.5,215.4 590.0,215.7 589.5,216.0 589.0,216.3 588.5,216.6 588.0,216.9 587.5,217.3 587.0,217.5 586.5,217.8 586.0,218.1 585.5,218.4 585.0,218.7 584.5,218.9 584.0,219.2 583.5,219.4 583.0,219.6 582.5,219.9 582.0,220.1 581.5,220.3 581.0,220.5 580.5,220.8 580.0,221.0 579.5,221.2 579.0,221.3 578.5,221.5 578.0,221.7 577.5,221.9 577.0,222.1 576.5,222.2 576.0,222.4 575.5,222.6 575.0,222.7 574.5,222.9 574.0,223.0 573.5,223.2 573.0,223.3 572.5,223.5 572.0,223.6 571.5,223.8 571.0,223.9 570.5,224.0 570.0,224.2 569.5,224.3 569.0,224.4 568.5,224.5 568.0,224.7 567.5,224.8 567.0,224.9 566.5,225.0 566.0,225.1 565.5,225.3 565.0,225.4 564.5,225.5 564.0,225.6 563.5,225.7 563.0,225.8 562.5,225.9 562.0,226.0 561.5,226.1 561.0,226.2 560.5,226.3 560.0,226.4 559.5,226.5 559.0,226.6 558.5,226.7 558.0,226.8 557.5,226.9 557.0,227.0 556.5,227.1 556.0,227.2 555.5,227.3 555.0,227.4 554.5,227.4 554.0,227.5 553.5,227.6 553.0,227.7 552.5,227.8 552.0,227.9 551.5,228.0 551.0,228.0 550.5,228.1 550.0,228.2 549.5,228.3 549.0,228.4 548.5,228.4 548.0,228.5 547.5,228.6 547.0,228.7 546.5,228.8 546.0,228.8 545.5,228.9 545.0,229.0 544.5,229.1 544.0,229.2 543.5,229.2 543.0,229.3 542.5,229.4 542.0,229.5 541.5,229.6 541.0,229.6 540.5,229.7 540.0,229.8 539.5,229.9 539.0,229.9 538.5,230.0 538.0,230.1 537.5,230.2 537.0,230.2 536.5,230.3 536.0,230.4 535.5,230.5 535.0,230.5 534.5,230.6 534.0,230.7 533.5,230.8 533.0,230.9 532.5,230.9 532.0,231.0 531.5,231.1 531.0,231.2 530.5,231.2 530.0,231.3 529.5,231.4 529.0,231.5 528.5,231.5 528.0,231.6 527.5,231.7 527.0,231.8 526.5,231.8 526.0,231.9 525.5,232.0 525.0,232.1 524.5,232.1 524.0,232.2 523.5,232.3" fill="rgba(77,233,247,0.50)"/>
<polyline points="523.5,227.3 524.5,227.2 525.5,227.0 526.5,226.9 527.5,226.8 528.5,226.6 529.5,226.5 530.5,226.4 531.5,226.2 532.5,226.1 533.5,225.9 534.5,225.8 535.5,225.7 536.5,225.5 537.5,225.4 538.5,225.3 539.5,225.1 540.5,225.0 541.5,224.8 542.5,224.7 543.5,224.6 544.5,224.4 545.5,224.3 546.5,224.1 547.5,224.0 548.5,223.8 549.5,223.7 550.5,223.5 551.5,223.4 552.5,223.2 553.5,223.1 554.5,222.9 555.5,222.8 556.5,222.6 557.5,222.4 558.5,222.3 559.5,222.1 560.5,221.9 561.5,221.7 562.5,221.5 563.5,221.3 564.5,221.1 565.5,220.9 566.5,220.7 567.5,220.5 568.5,220.2 569.5,220.0 570.5,219.7 571.5,219.5 572.5,219.2 573.5,218.9 574.5,218.7 575.5,218.4 576.5,218.0 577.5,217.7 578.5,217.4 579.5,217.0 580.5,216.6 581.5,216.2 582.5,215.8 583.5,215.3 584.5,214.8 585.5,214.3 586.5,213.8 587.5,213.2 588.5,212.6 589.5,212.0 590.5,211.3 591.5,210.6 592.5,209.9 593.5,209.2 594.5,208.4 595.5,207.6 596.5,206.8 597.5,206.0 598.5,205.2 599.5,204.3 600.5,203.4 601.5,202.5 602.5,201.6 603.5,200.7 604.5,199.7 605.5,198.8 606.5,197.9 607.5,197.0 608.5,196.1 609.5,195.3 610.5,194.4 611.5,193.7 612.5,192.9 613.5,192.2 614.5,191.5 615.5,190.9 616.5,190.3 617.5,189.8 618.5,189.4 619.5,189.0 620.5,188.6 621.5,188.3 622.5,188.1 623.5,187.9 624.5,187.8 625.5,187.8 626.5,187.8 627.5,188.0 628.5,188.3 629.5,188.8 630.5,189.3 631.5,190.1 632.5,191.0 633.5,192.1 634.5,193.4 635.5,194.9 636.0,195.7 636.5,196.6 637.0,197.6 637.5,198.5 638.0,199.6 638.5,200.7 639.0,201.8 639.5,203.1 640.0,204.3 640.5,205.6 641.0,206.9 641.5,208.3 642.0,209.7 642.5,211.2 643.0,212.7 643.5,214.1 644.0,215.6 644.5,217.2 645.0,218.7 645.5,220.2 646.0,221.8 646.5,223.3 647.0,224.8 647.5,226.3 648.0,227.8 648.5,229.2 649.0,230.6 649.5,232.0 650.0,233.4 650.5,234.7 651.0,236.0 651.5,237.2 652.0,238.5 652.5,239.7 653.0,240.8 653.5,242.0 654.0,243.1 654.5,244.1 655.0,245.2 655.5,246.2 656.0,247.1 656.5,248.1 657.0,249.0 657.5,249.8 658.0,250.7 658.5,251.5 659.5,253.0 660.5,254.5 661.5,255.8 662.5,257.1 663.5,258.3 664.5,259.4 665.5,260.4 666.5,261.3 667.5,262.2 668.5,263.0 669.5,263.8 670.5,264.5 671.5,265.2 672.5,265.9 673.5,266.5 674.5,267.1 675.5,267.6 676.5,268.1 677.5,268.6 678.5,269.1 679.5,269.5 680.5,270.0 681.5,270.4 682.5,270.8 683.5,271.2 684.5,271.6 685.5,272.0 686.0,272.2" fill="none" stroke="#00f0ff" stroke-width="3.4" stroke-linejoin="round"/>
<polygon points="523.5,235.8 524.0,235.8 524.5,235.7 525.0,235.7 525.5,235.6 526.0,235.6 526.5,235.5 527.0,235.5 527.5,235.4 528.0,235.4 528.5,235.4 529.0,235.3 529.5,235.3 530.0,235.2 530.5,235.2 531.0,235.1 531.5,235.1 532.0,235.0 532.5,235.0 533.0,234.9 533.5,234.9 534.0,234.8 534.5,234.8 535.0,234.7 535.5,234.7 536.0,234.6 536.5,234.6 537.0,234.5 537.5,234.5 538.0,234.4 538.5,234.4 539.0,234.3 539.5,234.2 540.0,234.2 540.5,234.1 541.0,234.1 541.5,234.0 542.0,233.9 542.5,233.9 543.0,233.8 543.5,233.8 544.0,233.7 544.5,233.6 545.0,233.6 545.5,233.5 546.0,233.4 546.5,233.4 547.0,233.3 547.5,233.2 548.0,233.1 548.5,233.1 549.0,233.0 549.5,232.9 550.0,232.8 550.5,232.8 551.0,232.7 551.5,232.6 552.0,232.5 552.5,232.4 553.0,232.4 553.5,232.3 554.0,232.2 554.5,232.1 555.0,232.0 555.5,231.9 556.0,231.8 556.5,231.7 557.0,231.6 557.5,231.5 558.0,231.5 558.5,231.4 559.0,231.3 559.5,231.2 560.0,231.1 560.5,231.0 561.0,230.9 561.5,230.7 562.0,230.6 562.5,230.5 563.0,230.4 563.5,230.3 564.0,230.2 564.5,230.1 565.0,230.0 565.5,229.9 566.0,229.7 566.5,229.6 567.0,229.5 567.5,229.4 568.0,229.3 568.5,229.1 569.0,229.0 569.5,228.9 570.0,228.8 570.5,228.6 571.0,228.5 571.5,228.4 572.0,228.2 572.5,228.1 573.0,228.0 573.5,227.8 574.0,227.7 574.5,227.6 575.0,227.4 575.5,227.3 576.0,227.1 576.5,227.0 577.0,226.8 577.5,226.7 578.0,226.5 578.5,226.4 579.0,226.2 579.5,226.1 580.0,225.9 580.5,225.8 581.0,225.6 581.5,225.5 582.0,225.3 582.5,225.2 583.0,225.0 583.5,224.8 584.0,224.7 584.5,224.5 585.0,224.4 585.5,224.2 586.0,224.0 586.5,223.9 587.0,223.7 587.5,223.5 588.0,223.4 588.5,223.2 589.0,223.0 589.5,222.8 590.0,222.7 590.5,222.5 591.0,222.3 591.5,222.1 592.0,221.9 592.5,221.7 593.0,221.5 593.5,221.3 594.0,221.1 594.5,220.9 595.0,220.7 595.5,220.5 596.0,220.3 596.5,220.1 597.0,219.9 597.5,219.7 598.0,219.5 598.5,219.4 599.0,219.2 599.5,219.0 600.0,218.8 600.5,218.6 601.0,218.4 601.5,218.2 602.0,218.0 602.5,217.8 603.0,217.6 603.5,217.4 604.0,217.3 604.5,217.1 605.0,216.9 605.5,216.7 606.0,216.5 606.5,216.4 607.0,216.2 607.5,216.0 608.0,215.9 608.5,215.7 609.0,215.6 609.5,215.4 610.0,215.3 610.5,215.1 611.0,215.0 611.5,214.8 612.0,214.7 612.5,214.6 613.0,214.4 613.5,214.3 614.0,214.2 614.5,214.1 615.0,214.0 615.5,213.9 616.0,213.8 616.5,213.7 617.0,213.7 617.5,213.6 618.0,213.6 618.5,213.5 619.0,213.5 619.5,213.5 620.0,213.5 620.5,213.5 621.0,213.5 621.5,213.5 622.0,213.6 622.5,213.7 623.0,213.8 623.5,214.0 624.0,214.1 624.5,214.3 625.0,214.5 625.5,214.7 626.0,214.9 626.5,215.1 627.0,215.3 627.5,215.6 628.0,215.8 628.5,216.1 629.0,216.4 629.5,216.7 630.0,217.0 630.5,217.3 631.0,217.6 631.5,218.0 632.0,218.3 632.5,218.7 633.0,219.0 633.5,219.4 634.0,219.8 634.5,220.2 635.0,220.6 635.5,221.0 636.0,221.4 636.5,221.8 637.0,222.2 637.5,222.7 638.0,223.1 638.5,223.5 639.0,224.0 639.5,224.4 640.0,224.9 640.5,225.3 641.0,225.8 641.5,226.3 642.0,226.7 642.5,227.2 643.0,227.7 643.5,228.2 644.0,228.6 644.5,229.1 645.0,229.6 645.5,230.1 646.0,230.6 646.5,231.1 647.0,231.6 647.5,232.1 648.0,232.6 648.5,233.1 649.0,233.6 649.5,234.1 650.0,234.6 650.5,235.1 651.0,235.6 651.5,236.1 652.0,236.6 652.5,237.2 653.0,237.7 653.5,238.2 654.0,238.7 654.5,239.2 655.0,239.8 655.5,240.3 656.0,240.8 656.5,241.3 657.0,241.9 657.5,242.4 658.0,242.9 658.5,243.4 659.0,243.9 659.5,244.5 660.0,245.0 660.5,245.5 661.0,246.0 661.5,246.5 662.0,247.0 662.5,247.5 663.0,248.0 663.5,248.5 664.0,249.0 664.5,249.5 665.0,250.0 665.5,250.5 666.0,251.0 666.5,251.5 667.0,251.9 667.5,252.4 668.0,252.9 668.5,253.3 669.0,253.8 669.5,254.2 670.0,254.7 670.5,255.1 671.0,255.6 671.5,256.0 672.0,256.4 672.5,256.8 673.0,257.2 673.5,257.6 674.0,258.0 674.5,258.4 675.0,258.8 675.5,259.2 676.0,259.6 676.5,260.0 677.0,260.4 677.5,260.7 678.0,261.1 678.5,261.5 679.0,261.8 679.5,262.2 680.0,262.6 680.5,262.9 681.0,263.3 681.5,263.6 682.0,264.0 682.5,264.3 683.0,264.7 683.5,265.0 684.0,265.4 684.5,265.7 685.0,266.0 685.5,266.4 686.0,266.7 686.0,271.7 685.5,271.4 685.0,271.1 684.5,270.8 684.0,270.5 683.5,270.2 683.0,269.9 682.5,269.6 682.0,269.3 681.5,268.9 681.0,268.6 680.5,268.3 680.0,268.0 679.5,267.7 679.0,267.3 678.5,267.0 678.0,266.7 677.5,266.4 677.0,266.0 676.5,265.7 676.0,265.3 675.5,265.0 675.0,264.6 674.5,264.3 674.0,263.9 673.5,263.6 673.0,263.2 672.5,262.8 672.0,262.4 671.5,262.0 671.0,261.7 670.5,261.3 670.0,260.9 669.5,260.4 669.0,260.0 668.5,259.6 668.0,259.2 667.5,258.8 667.0,258.3 666.5,257.9 666.0,257.4 665.5,257.0 665.0,256.6 664.5,256.1 664.0,255.6 663.5,255.2 663.0,254.7 662.5,254.3 662.0,253.8 661.5,253.3 661.0,252.8 660.5,252.4 660.0,251.9 659.5,251.4 659.0,250.9 658.5,250.4 658.0,250.0 657.5,249.5 657.0,249.0 656.5,248.5 656.0,248.0 655.5,247.5 655.0,247.0 654.5,246.5 654.0,246.1 653.5,245.6 653.0,245.1 652.5,244.6 652.0,244.1 651.5,243.6 651.0,243.2 650.5,242.7 650.0,242.2 649.5,241.7 649.0,241.3 648.5,240.8 648.0,240.3 647.5,239.9 647.0,239.4 646.5,239.0 646.0,238.5 645.5,238.0 645.0,237.6 644.5,237.2 644.0,236.7 643.5,236.3 643.0,235.9 642.5,235.4 642.0,235.0 641.5,234.6 641.0,234.2 640.5,233.7 640.0,233.3 639.5,232.9 639.0,232.5 638.5,232.1 638.0,231.7 637.5,231.3 637.0,230.9 636.5,230.6 636.0,230.2 635.5,229.8 635.0,229.4 634.5,229.1 634.0,228.7 633.5,228.4 633.0,228.1 632.5,227.8 632.0,227.4 631.5,227.1 631.0,226.8 630.5,226.6 630.0,226.3 629.5,226.0 629.0,225.8 628.5,225.5 628.0,225.3 627.5,225.1 627.0,224.9 626.5,224.7 626.0,224.5 625.5,224.4 625.0,224.2 624.5,224.1 624.0,223.9 623.5,223.8 623.0,223.7 622.5,223.7 622.0,223.6 621.5,223.5 621.0,223.4 620.5,223.3 620.0,223.3 619.5,223.2 619.0,223.2 618.5,223.2 618.0,223.2 617.5,223.2 617.0,223.2 616.5,223.2 616.0,223.3 615.5,223.3 615.0,223.3 614.5,223.4 614.0,223.5 613.5,223.5 613.0,223.6 612.5,223.7 612.0,223.8 611.5,223.9 611.0,223.9 610.5,224.0 610.0,224.1 609.5,224.2 609.0,224.3 608.5,224.5 608.0,224.6 607.5,224.7 607.0,224.8 606.5,224.9 606.0,225.0 605.5,225.2 605.0,225.3 604.5,225.4 604.0,225.6 603.5,225.7 603.0,225.8 602.5,226.0 602.0,226.1 601.5,226.3 601.0,226.4 600.5,226.6 600.0,226.7 599.5,226.9 599.0,227.0 598.5,227.1 598.0,227.3 597.5,227.4 597.0,227.6 596.5,227.8 596.0,227.9 595.5,228.1 595.0,228.2 594.5,228.4 594.0,228.5 593.5,228.7 593.0,228.8 592.5,228.9 592.0,229.1 591.5,229.2 591.0,229.4 590.5,229.5 590.0,229.7 589.5,229.8 589.0,230.0 588.5,230.1 588.0,230.3 587.5,230.4 587.0,230.6 586.5,230.8 586.0,230.9 585.5,231.1 585.0,231.2 584.5,231.4 584.0,231.5 583.5,231.7 583.0,231.8 582.5,231.9 582.0,232.1 581.5,232.2 581.0,232.4 580.5,232.5 580.0,232.7 579.5,232.8 579.0,232.9 578.5,233.1 578.0,233.2 577.5,233.3 577.0,233.5 576.5,233.6 576.0,233.7 575.5,233.9 575.0,234.0 574.5,234.1 574.0,234.2 573.5,234.4 573.0,234.5 572.5,234.6 572.0,234.7 571.5,234.8 571.0,235.0 570.5,235.1 570.0,235.2 569.5,235.3 569.0,235.4 568.5,235.5 568.0,235.6 567.5,235.7 567.0,235.8 566.5,235.9 566.0,236.0 565.5,236.1 565.0,236.2 564.5,236.3 564.0,236.4 563.5,236.5 563.0,236.6 562.5,236.7 562.0,236.8 561.5,236.9 561.0,237.0 560.5,237.1 560.0,237.2 559.5,237.3 559.0,237.3 558.5,237.4 558.0,237.5 557.5,237.6 557.0,237.7 556.5,237.8 556.0,237.8 555.5,237.9 555.0,238.0 554.5,238.1 554.0,238.1 553.5,238.2 553.0,238.3 552.5,238.3 552.0,238.4 551.5,238.5 551.0,238.5 550.5,238.6 550.0,238.7 549.5,238.7 549.0,238.8 548.5,238.9 548.0,238.9 547.5,239.0 547.0,239.0 546.5,239.1 546.0,239.1 545.5,239.2 545.0,239.2 544.5,239.3 544.0,239.3 543.5,239.4 543.0,239.4 542.5,239.5 542.0,239.5 541.5,239.6 541.0,239.6 540.5,239.7 540.0,239.7 539.5,239.8 539.0,239.8 538.5,239.8 538.0,239.9 537.5,239.9 537.0,240.0 536.5,240.0 536.0,240.0 535.5,240.1 535.0,240.1 534.5,240.1 534.0,240.2 533.5,240.2 533.0,240.3 532.5,240.3 532.0,240.3 531.5,240.4 531.0,240.4 530.5,240.4 530.0,240.5 529.5,240.5 529.0,240.5 528.5,240.5 528.0,240.6 527.5,240.6 527.0,240.6 526.5,240.7 526.0,240.7 525.5,240.7 525.0,240.8 524.5,240.8 524.0,240.8 523.5,240.9" fill="rgba(145,65,233,0.50)"/>
<polyline points="523.5,238.3 524.5,238.3 525.5,238.2 526.5,238.1 527.5,238.0 528.5,238.0 529.5,237.9 530.5,237.8 531.5,237.7 532.5,237.6 533.5,237.5 534.5,237.5 535.5,237.4 536.5,237.3 537.5,237.2 538.5,237.1 539.5,237.0 540.5,236.9 541.5,236.8 542.5,236.7 543.5,236.6 544.5,236.5 545.5,236.3 546.5,236.2 547.5,236.1 548.5,236.0 549.5,235.8 550.5,235.7 551.5,235.5 552.5,235.4 553.5,235.2 554.5,235.1 555.5,234.9 556.5,234.7 557.5,234.6 558.5,234.4 559.5,234.2 560.5,234.0 561.5,233.8 562.5,233.6 563.5,233.4 564.5,233.2 565.5,233.0 566.5,232.8 567.5,232.6 568.5,232.3 569.5,232.1 570.5,231.9 571.5,231.6 572.5,231.4 573.5,231.1 574.5,230.8 575.5,230.6 576.5,230.3 577.5,230.0 578.5,229.7 579.5,229.4 580.5,229.2 581.5,228.9 582.5,228.6 583.5,228.2 584.5,227.9 585.5,227.6 586.5,227.3 587.5,227.0 588.5,226.7 589.5,226.3 590.5,226.0 591.5,225.7 592.5,225.3 593.5,225.0 594.5,224.6 595.5,224.3 596.5,223.9 597.5,223.6 598.5,223.3 599.5,222.9 600.5,222.6 601.5,222.2 602.5,221.9 603.5,221.6 604.5,221.3 605.5,220.9 606.5,220.6 607.5,220.4 608.5,220.1 609.5,219.8 610.5,219.6 611.5,219.3 612.5,219.1 613.5,218.9 614.5,218.8 615.5,218.6 616.5,218.5 617.5,218.4 618.5,218.4 619.5,218.4 620.5,218.4 621.5,218.5 622.5,218.7 623.5,218.9 624.5,219.2 625.5,219.5 626.5,219.9 627.5,220.3 628.5,220.8 629.5,221.4 630.5,221.9 631.5,222.6 632.5,223.2 633.5,223.9 634.5,224.6 635.5,225.4 636.5,226.2 637.5,227.0 638.5,227.8 639.5,228.7 640.5,229.5 641.5,230.4 642.5,231.3 643.5,232.2 644.5,233.1 645.5,234.1 646.5,235.0 647.5,236.0 648.5,236.9 649.5,237.9 650.5,238.9 651.5,239.9 652.5,240.9 653.5,241.9 654.5,242.9 655.5,243.9 656.5,244.9 657.5,245.9 658.5,246.9 659.5,247.9 660.5,248.9 661.5,249.9 662.5,250.9 663.5,251.9 664.5,252.8 665.5,253.8 666.5,254.7 667.5,255.6 668.5,256.5 669.5,257.3 670.5,258.2 671.5,259.0 672.5,259.8 673.5,260.6 674.5,261.4 675.5,262.1 676.5,262.8 677.5,263.5 678.5,264.2 679.5,264.9 680.5,265.6 681.5,266.3 682.5,266.9 683.5,267.6 684.5,268.3 685.5,268.9 686.0,269.2" fill="none" stroke="#7800f0" stroke-width="3.4" stroke-linejoin="round"/>
<polyline points="383.3,229.4 384.3,228.3 385.3,227.3 386.3,226.3 387.3,225.2 388.3,224.1 389.3,223.1 390.3,222.0 391.3,220.9 392.3,219.9 393.3,218.8 394.3,217.7 395.3,216.7 396.3,215.6 397.3,214.5 398.3,213.5 399.3,212.4 400.3,211.3 401.3,210.1 402.3,209.0 403.3,207.7 404.3,206.5 405.3,205.2 406.3,203.8 407.3,202.4 408.3,201.0 409.3,199.6 410.3,198.2 411.3,196.8 412.3,195.3 413.3,193.9 414.3,192.4 415.3,190.8 416.3,189.3 417.3,187.7 418.3,186.1 419.3,184.6 420.3,183.2 421.3,181.9 422.3,180.7 423.3,179.6 424.3,178.4 425.3,177.3 426.3,176.2 427.3,175.2 428.3,174.2 429.3,173.4 430.3,172.7 431.3,172.2 432.3,171.8 433.3,171.5 434.3,171.2 435.3,171.0 436.3,170.8 437.3,170.6 438.3,170.4 439.3,170.3 440.3,170.2 441.3,170.1" fill="none" stroke="#a4a4a4" stroke-width="2.4"/><polyline points="383.3,236.0 384.3,234.8 385.3,233.6 386.3,232.4 387.3,231.2 388.3,230.0 389.3,228.8 390.3,227.7 391.3,226.5 392.3,225.3 393.3,224.1 394.3,222.9 395.3,221.8 396.3,220.7 397.3,219.5 398.3,218.4 399.3,217.2 400.3,216.0 401.3,214.8 402.3,213.5 403.3,212.1 404.3,210.6 405.3,209.0 406.3,207.4 407.3,205.7 408.3,204.0 409.3,202.2 410.3,200.5 411.3,198.8 412.3,197.2 413.3,195.5 414.3,193.8 415.3,192.1 416.3,190.4 417.3,188.7 418.3,187.0 419.3,185.4 420.3,183.9 421.3,182.5 422.3,181.3 423.3,180.0 424.3,178.8 425.3,177.6 426.3,176.4 427.3,175.3 428.3,174.3 429.3,173.4 430.3,172.7 431.3,172.2 432.3,171.8 433.3,171.5 434.3,171.2 435.3,171.0 436.3,170.7 437.3,170.5 438.3,170.4 439.3,170.3 440.3,170.2 441.3,170.1" fill="none" stroke="#474747" stroke-width="1.9" stroke-dasharray="1.6 1.7"/>
<polyline points="538.3,78.3 539.3,77.8 540.3,77.3 541.3,76.8 542.3,76.3 543.3,75.9 544.3,75.4 545.3,75.0 546.3,74.5 547.3,74.1 548.3,73.7 549.3,73.3 550.3,72.9 551.3,72.5 552.3,72.1 553.3,71.7 554.3,71.3 555.3,71.0 556.3,70.7 557.3,70.4 558.3,70.1 559.3,69.8 560.3,69.5 561.3,69.2 562.3,68.9 563.3,68.7 564.3,68.5 565.3,68.3 566.3,68.1 567.3,68.0 568.3,67.9 569.3,67.8 570.3,67.7 571.3,67.7 572.3,67.7 573.3,67.9 574.3,68.3 575.3,68.8 576.3,69.3 577.3,70.0 578.3,70.9 579.3,72.1 580.3,73.4 581.3,74.8 582.3,76.5 583.3,78.6 584.3,80.8 585.3,83.0 586.3,85.0 587.3,86.8 588.3,88.7 589.3,90.4 590.3,91.9 591.3,92.9 592.3,93.9 593.3,94.7 594.3,95.4 595.3,95.9" fill="none" stroke="#a4a4a4" stroke-width="2.4"/><polyline points="538.3,78.3 539.3,77.4 540.3,76.5 541.3,75.7 542.3,74.9 543.3,74.1 544.3,73.3 545.3,72.6 546.3,71.9 547.3,71.2 548.3,70.6 549.3,70.0 550.3,69.4 551.3,68.8 552.3,68.2 553.3,67.7 554.3,67.2 555.3,66.7 556.3,66.3 557.3,65.9 558.3,65.6 559.3,65.3 560.3,65.0 561.3,64.7 562.3,64.4 563.3,64.2 564.3,64.0 565.3,63.9 566.3,63.8 567.3,63.8 568.3,63.9 569.3,64.0 570.3,64.2 571.3,64.4 572.3,64.7 573.3,65.4 574.3,66.2 575.3,67.3 576.3,68.4 577.3,69.4 578.3,70.6 579.3,71.9 580.3,73.3 581.3,74.8 582.3,76.6 583.3,78.7 584.3,80.9 585.3,83.0 586.3,85.0 587.3,86.8 588.3,88.7 589.3,90.4 590.3,91.9 591.3,92.9 592.3,93.9 593.3,94.7 594.3,95.4 595.3,95.9" fill="none" stroke="#474747" stroke-width="1.9" stroke-dasharray="1.6 1.7"/>
<line x1="46.6" y1="16.8" x2="46.6" y2="279.4" stroke="#000" stroke-width="2.8"/><line x1="46.6" y1="278" x2="49.8" y2="278" stroke="#000" stroke-width="2.6"/><line x1="46.6" y1="229.9" x2="49.8" y2="229.9" stroke="#000" stroke-width="2.6"/><line x1="46.6" y1="183.2" x2="49.8" y2="183.2" stroke="#000" stroke-width="2.6"/><line x1="46.6" y1="136.2" x2="49.8" y2="136.2" stroke="#000" stroke-width="2.6"/><line x1="46.6" y1="88.5" x2="49.8" y2="88.5" stroke="#000" stroke-width="2.6"/><line x1="46.6" y1="41" x2="49.8" y2="41" stroke="#000" stroke-width="2.6"/><line x1="45.3" y1="278.2" x2="212.2" y2="278.2" stroke="#000" stroke-width="2.7"/><line x1="101.4" y1="278.2" x2="101.4" y2="273.95" stroke="#000" stroke-width="2.6"/><line x1="156.3" y1="278.2" x2="156.3" y2="273.95" stroke="#000" stroke-width="2.6"/><line x1="211.2" y1="278.2" x2="211.2" y2="273.95" stroke="#000" stroke-width="2.6"/><text x="43.0" y="284.2" text-anchor="end" font-size="13.8" fill="#333" font-family="Liberation Sans, sans-serif">0.0</text><text x="43.0" y="236.1" text-anchor="end" font-size="13.8" fill="#333" font-family="Liberation Sans, sans-serif">1.0</text><text x="43.0" y="189.39999999999998" text-anchor="end" font-size="13.8" fill="#333" font-family="Liberation Sans, sans-serif">2.0</text><text x="43.0" y="142.39999999999998" text-anchor="end" font-size="13.8" fill="#333" font-family="Liberation Sans, sans-serif">3.0</text><text x="43.0" y="94.7" text-anchor="end" font-size="13.8" fill="#333" font-family="Liberation Sans, sans-serif">4.0</text><text x="43.0" y="47.2" text-anchor="end" font-size="13.8" fill="#333" font-family="Liberation Sans, sans-serif">5.0</text><text x="46.300000000000004" y="295.3" text-anchor="middle" font-size="13.8" fill="#333" font-family="Liberation Sans, sans-serif">-2</text><text x="100.60000000000001" y="295.3" text-anchor="middle" font-size="13.8" fill="#333" font-family="Liberation Sans, sans-serif">-1</text><text x="156.3" y="295.3" text-anchor="middle" font-size="13.8" fill="#333" font-family="Liberation Sans, sans-serif">0</text><text x="211.2" y="295.3" text-anchor="middle" font-size="13.8" fill="#333" font-family="Liberation Sans, sans-serif">1</text><line x1="275.5" y1="16.3" x2="275.5" y2="279.4" stroke="#000" stroke-width="2.8"/><line x1="275.5" y1="278" x2="278.7" y2="278" stroke="#000" stroke-width="2.6"/><line x1="275.5" y1="225.9" x2="278.7" y2="225.9" stroke="#000" stroke-width="2.6"/><line x1="275.5" y1="173.8" x2="278.7" y2="173.8" stroke="#000" stroke-width="2.6"/><line x1="275.5" y1="121.7" x2="278.7" y2="121.7" stroke="#000" stroke-width="2.6"/><line x1="275.5" y1="69.6" x2="278.7" y2="69.6" stroke="#000" stroke-width="2.6"/><line x1="275.5" y1="17.5" x2="278.7" y2="17.5" stroke="#000" stroke-width="2.6"/><line x1="274.2" y1="278.2" x2="441" y2="278.2" stroke="#000" stroke-width="2.7"/><line x1="330.2" y1="278.2" x2="330.2" y2="273.95" stroke="#000" stroke-width="2.6"/><line x1="385" y1="278.2" x2="385" y2="273.95" stroke="#000" stroke-width="2.6"/><line x1="439.8" y1="278.2" x2="439.8" y2="273.95" stroke="#000" stroke-width="2.6"/><text x="272.0" y="284.2" text-anchor="end" font-size="13.8" fill="#333" font-family="Liberation Sans, sans-serif">0.0</text><text x="272.0" y="232.1" text-anchor="end" font-size="13.8" fill="#333" font-family="Liberation Sans, sans-serif">1.0</text><text x="272.0" y="180.0" text-anchor="end" font-size="13.8" fill="#333" font-family="Liberation Sans, sans-serif">2.0</text><text x="272.0" y="127.9" text-anchor="end" font-size="13.8" fill="#333" font-family="Liberation Sans, sans-serif">3.0</text><text x="272.0" y="75.8" text-anchor="end" font-size="13.8" fill="#333" font-family="Liberation Sans, sans-serif">4.0</text><text x="272.0" y="23.7" text-anchor="end" font-size="13.8" fill="#333" font-family="Liberation Sans, sans-serif">5.0</text><text x="275.2" y="295.3" text-anchor="middle" font-size="13.8" fill="#333" font-family="Liberation Sans, sans-serif">-2</text><text x="329.4" y="295.3" text-anchor="middle" font-size="13.8" fill="#333" font-family="Liberation Sans, sans-serif">-1</text><text x="385" y="295.3" text-anchor="middle" font-size="13.8" fill="#333" font-family="Liberation Sans, sans-serif">0</text><text x="439.8" y="295.3" text-anchor="middle" font-size="13.8" fill="#333" font-family="Liberation Sans, sans-serif">1</text><line x1="522.2" y1="16.3" x2="522.2" y2="279.4" stroke="#000" stroke-width="2.8"/><line x1="522.2" y1="278" x2="525.4" y2="278" stroke="#000" stroke-width="2.6"/><line x1="522.2" y1="225.9" x2="525.4" y2="225.9" stroke="#000" stroke-width="2.6"/><line x1="522.2" y1="173.8" x2="525.4" y2="173.8" stroke="#000" stroke-width="2.6"/><line x1="522.2" y1="121.7" x2="525.4" y2="121.7" stroke="#000" stroke-width="2.6"/><line x1="522.2" y1="69.6" x2="525.4" y2="69.6" stroke="#000" stroke-width="2.6"/><line x1="522.2" y1="17.5" x2="525.4" y2="17.5" stroke="#000" stroke-width="2.6"/><line x1="520.9" y1="278.2" x2="687.6" y2="278.2" stroke="#000" stroke-width="2.7"/><line x1="577" y1="278.2" x2="577" y2="273.95" stroke="#000" stroke-width="2.6"/><line x1="631.6" y1="278.2" x2="631.6" y2="273.95" stroke="#000" stroke-width="2.6"/><line x1="686.4" y1="278.2" x2="686.4" y2="273.95" stroke="#000" stroke-width="2.6"/><text x="518.9" y="284.2" text-anchor="end" font-size="13.8" fill="#333" font-family="Liberation Sans, sans-serif">0.0</text><text x="518.9" y="232.1" text-anchor="end" font-size="13.8" fill="#333" font-family="Liberation Sans, sans-serif">1.0</text><text x="518.9" y="180.0" text-anchor="end" font-size="13.8" fill="#333" font-family="Liberation Sans, sans-serif">2.0</text><text x="518.9" y="127.9" text-anchor="end" font-size="13.8" fill="#333" font-family="Liberation Sans, sans-serif">3.0</text><text x="518.9" y="75.8" text-anchor="end" font-size="13.8" fill="#333" font-family="Liberation Sans, sans-serif">4.0</text><text x="518.9" y="23.7" text-anchor="end" font-size="13.8" fill="#333" font-family="Liberation Sans, sans-serif">5.0</text><text x="521.9000000000001" y="295.3" text-anchor="middle" font-size="13.8" fill="#333" font-family="Liberation Sans, sans-serif">-2</text><text x="576.2" y="295.3" text-anchor="middle" font-size="13.8" fill="#333" font-family="Liberation Sans, sans-serif">-1</text><text x="631.6" y="295.3" text-anchor="middle" font-size="13.8" fill="#333" font-family="Liberation Sans, sans-serif">0</text><text x="686.4" y="295.3" text-anchor="middle" font-size="13.8" fill="#333" font-family="Liberation Sans, sans-serif">1</text><text x="1" y="13.8" font-size="12.5" font-weight="bold" fill="#000" font-family="Liberation Sans, sans-serif">A</text><text x="229.5" y="13.8" font-size="12.5" font-weight="bold" fill="#000" font-family="Liberation Sans, sans-serif">B</text><text x="469" y="13.8" font-size="12.5" font-weight="bold" fill="#000" font-family="Liberation Sans, sans-serif">C</text><text x="51.5" y="311" font-size="12" font-weight="bold" fill="#000" font-family="Liberation Sans, sans-serif">Co-moving Position (mm)</text><text x="280.5" y="311" font-size="12" font-weight="bold" fill="#000" font-family="Liberation Sans, sans-serif">Co-moving Position (mm)</text><text x="527.5" y="311" font-size="12" font-weight="bold" fill="#000" font-family="Liberation Sans, sans-serif">Co-moving Position (mm)</text><text transform="translate(15.7,213.8) rotate(-90)" font-size="12" font-weight="bold" fill="#000" textLength="122" lengthAdjust="spacingAndGlyphs" font-family="Liberation Sans, sans-serif">Bacteria Density (OD)</text><text transform="translate(243.9,198.9) rotate(-90)" font-size="12" font-weight="bold" fill="#000" textLength="92.6" lengthAdjust="spacingAndGlyphs" font-family="Liberation Sans, sans-serif">Perceived Signal</text><text transform="translate(492.3,249.6) rotate(-90)" font-size="12" font-weight="bold" fill="#000" textLength="193.6" lengthAdjust="spacingAndGlyphs" font-family="Liberation Sans, sans-serif">Perceived Signal Gradient (1/mm)</text><line x1="383.3" y1="162.2" x2="383.3" y2="252.6" stroke="#505050" stroke-width="1.5"/><line x1="382.7" y1="252" x2="442.31000000000006" y2="252" stroke="#505050" stroke-width="1.5"/><text x="380.3" y="255.6" text-anchor="end" font-size="9.8" fill="#505050" font-family="Liberation Sans, sans-serif">0</text><line x1="383.3" y1="234.2" x2="385.1" y2="234.2" stroke="#505050" stroke-width="1"/><text x="380.3" y="237.79999999999998" text-anchor="end" font-size="9.8" fill="#505050" font-family="Liberation Sans, sans-serif">1</text><line x1="383.3" y1="216.4" x2="385.1" y2="216.4" stroke="#505050" stroke-width="1"/><text x="380.3" y="220.0" text-anchor="end" font-size="9.8" fill="#505050" font-family="Liberation Sans, sans-serif">2</text><line x1="383.3" y1="198.6" x2="385.1" y2="198.6" stroke="#505050" stroke-width="1"/><text x="380.3" y="202.2" text-anchor="end" font-size="9.8" fill="#505050" font-family="Liberation Sans, sans-serif">3</text><line x1="383.3" y1="180.8" x2="385.1" y2="180.8" stroke="#505050" stroke-width="1"/><text x="380.3" y="184.4" text-anchor="end" font-size="9.8" fill="#505050" font-family="Liberation Sans, sans-serif">4</text><line x1="383.3" y1="163.0" x2="385.1" y2="163.0" stroke="#505050" stroke-width="1"/><text x="380.3" y="166.6" text-anchor="end" font-size="9.8" fill="#505050" font-family="Liberation Sans, sans-serif">5</text><text x="383.8" y="264.5" text-anchor="middle" font-size="9.8" fill="#505050" font-family="Liberation Sans, sans-serif">-2</text><line x1="402.77" y1="252" x2="402.77" y2="250.2" stroke="#505050" stroke-width="1"/><text x="403.27" y="264.5" text-anchor="middle" font-size="9.8" fill="#505050" font-family="Liberation Sans, sans-serif">-1</text><line x1="422.24" y1="252" x2="422.24" y2="250.2" stroke="#505050" stroke-width="1"/><text x="422.54" y="264.5" text-anchor="middle" font-size="9.8" fill="#505050" font-family="Liberation Sans, sans-serif">0</text><line x1="441.71000000000004" y1="252" x2="441.71000000000004" y2="250.2" stroke="#505050" stroke-width="1"/><text x="442.01000000000005" y="264.5" text-anchor="middle" font-size="9.8" fill="#505050" font-family="Liberation Sans, sans-serif">1</text><line x1="538.3" y1="6.7" x2="538.3" y2="96.6" stroke="#505050" stroke-width="1.5"/><line x1="537.6999999999999" y1="96" x2="596.1999999999999" y2="96" stroke="#505050" stroke-width="1.5"/><text x="535" y="99.6" text-anchor="end" font-size="9.8" fill="#505050" font-family="Liberation Sans, sans-serif">0</text><line x1="538.3" y1="78.3" x2="540.0999999999999" y2="78.3" stroke="#505050" stroke-width="1"/><text x="535" y="81.89999999999999" text-anchor="end" font-size="9.8" fill="#505050" font-family="Liberation Sans, sans-serif">1</text><line x1="538.3" y1="60.6" x2="540.0999999999999" y2="60.6" stroke="#505050" stroke-width="1"/><text x="535" y="64.2" text-anchor="end" font-size="9.8" fill="#505050" font-family="Liberation Sans, sans-serif">2</text><line x1="538.3" y1="42.900000000000006" x2="540.0999999999999" y2="42.900000000000006" stroke="#505050" stroke-width="1"/><text x="535" y="46.50000000000001" text-anchor="end" font-size="9.8" fill="#505050" font-family="Liberation Sans, sans-serif">3</text><line x1="538.3" y1="25.200000000000003" x2="540.0999999999999" y2="25.200000000000003" stroke="#505050" stroke-width="1"/><text x="535" y="28.800000000000004" text-anchor="end" font-size="9.8" fill="#505050" font-family="Liberation Sans, sans-serif">4</text><line x1="538.3" y1="7.5" x2="540.0999999999999" y2="7.5" stroke="#505050" stroke-width="1"/><text x="535" y="11.1" text-anchor="end" font-size="9.8" fill="#505050" font-family="Liberation Sans, sans-serif">5</text><text x="538.8" y="108.5" text-anchor="middle" font-size="9.8" fill="#505050" font-family="Liberation Sans, sans-serif">-2</text><line x1="557.4" y1="96" x2="557.4" y2="94.2" stroke="#505050" stroke-width="1"/><text x="557.9" y="108.5" text-anchor="middle" font-size="9.8" fill="#505050" font-family="Liberation Sans, sans-serif">-1</text><line x1="576.5" y1="96" x2="576.5" y2="94.2" stroke="#505050" stroke-width="1"/><text x="576.8" y="108.5" text-anchor="middle" font-size="9.8" fill="#505050" font-family="Liberation Sans, sans-serif">0</text><line x1="595.5999999999999" y1="96" x2="595.5999999999999" y2="94.2" stroke="#505050" stroke-width="1"/><text x="595.8999999999999" y="108.5" text-anchor="middle" font-size="9.8" fill="#505050" font-family="Liberation Sans, sans-serif">1</text>
</svg>
</body></html>
